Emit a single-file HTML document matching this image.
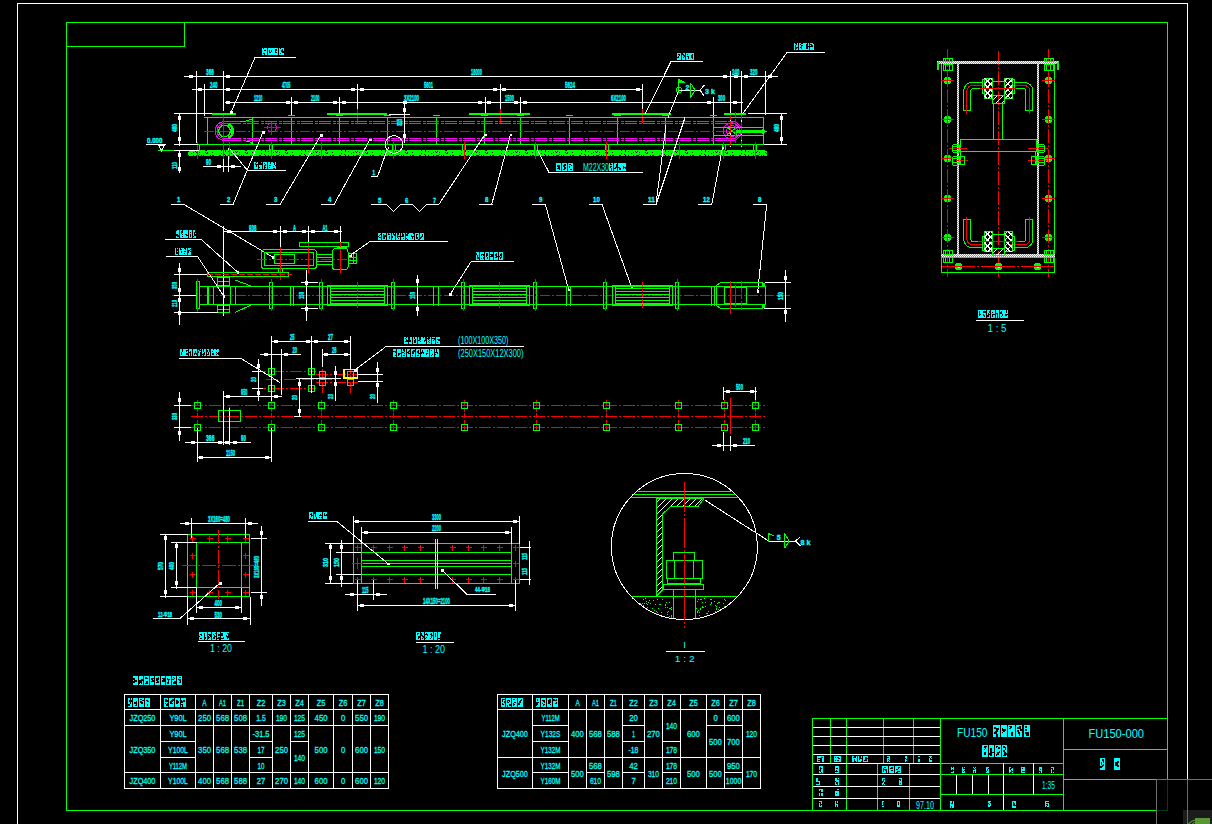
<!DOCTYPE html>
<html><head><meta charset="utf-8"><style>
html,body{margin:0;padding:0;background:#000;overflow:hidden;width:1212px;height:824px}
svg{display:block}
text{font-family:"Liberation Sans",sans-serif}
</style></head><body>
<svg width="1212" height="824" viewBox="0 0 1212 824" shape-rendering="crispEdges">
<rect x="0" y="0" width="1212" height="824" fill="#000"/>
<line x1="17" y1="3.5" x2="1188" y2="3.5" stroke="#ffffff" stroke-width="1" />
<line x1="17.5" y1="3" x2="17.5" y2="825" stroke="#ffffff" stroke-width="1" />
<line x1="1187.5" y1="3" x2="1187.5" y2="780" stroke="#ffffff" stroke-width="1" />
<line x1="66" y1="22.5" x2="1168" y2="22.5" stroke="#00ff00" stroke-width="1" />
<line x1="66.5" y1="22" x2="66.5" y2="811" stroke="#00ff00" stroke-width="1" />
<line x1="1167.5" y1="22" x2="1167.5" y2="780" stroke="#00ff00" stroke-width="1" />
<line x1="66" y1="810.5" x2="1156" y2="810.5" stroke="#00ff00" stroke-width="1" />
<line x1="66" y1="46.5" x2="185" y2="46.5" stroke="#00ff00" stroke-width="1" />
<line x1="184.5" y1="22" x2="184.5" y2="47" stroke="#00ff00" stroke-width="1" />
<line x1="812" y1="718.5" x2="1168" y2="718.5" stroke="#00ff00" stroke-width="1" />
<line x1="812.5" y1="718" x2="812.5" y2="811" stroke="#00ff00" stroke-width="1" />
<line x1="940.5" y1="718" x2="940.5" y2="811" stroke="#00ff00" stroke-width="1" />
<line x1="1063.5" y1="718" x2="1063.5" y2="811" stroke="#00ff00" stroke-width="1" />
<line x1="830.5" y1="718" x2="830.5" y2="764" stroke="#00ff00" stroke-width="1" />
<line x1="883.5" y1="718" x2="883.5" y2="764" stroke="#00ff00" stroke-width="1" />
<line x1="913.5" y1="718" x2="913.5" y2="764" stroke="#00ff00" stroke-width="1" />
<line x1="846.5" y1="718" x2="846.5" y2="811" stroke="#00ff00" stroke-width="1" />
<line x1="877.5" y1="763" x2="877.5" y2="811" stroke="#00ff00" stroke-width="1" />
<line x1="909.5" y1="763" x2="909.5" y2="811" stroke="#00ff00" stroke-width="1" />
<line x1="813" y1="727.5" x2="940" y2="727.5" stroke="#ffffff" stroke-width="1" />
<line x1="813" y1="736.5" x2="940" y2="736.5" stroke="#ffffff" stroke-width="1" />
<line x1="813" y1="745.5" x2="940" y2="745.5" stroke="#ffffff" stroke-width="1" />
<line x1="813" y1="754.5" x2="940" y2="754.5" stroke="#ffffff" stroke-width="1" />
<line x1="813" y1="763.5" x2="940" y2="763.5" stroke="#ffffff" stroke-width="1" />
<line x1="813" y1="774.5" x2="940" y2="774.5" stroke="#ffffff" stroke-width="1" />
<line x1="813" y1="786.5" x2="940" y2="786.5" stroke="#ffffff" stroke-width="1" />
<line x1="813" y1="798.5" x2="940" y2="798.5" stroke="#ffffff" stroke-width="1" />
<line x1="941" y1="763.5" x2="1063" y2="763.5" stroke="#00ff00" stroke-width="1" />
<line x1="941" y1="774.5" x2="1063" y2="774.5" stroke="#00ff00" stroke-width="1" />
<line x1="941" y1="794.5" x2="1063" y2="794.5" stroke="#00ff00" stroke-width="1" />
<line x1="1003.5" y1="763" x2="1003.5" y2="810" stroke="#ffffff" stroke-width="1" />
<line x1="1033.5" y1="763" x2="1033.5" y2="795" stroke="#ffffff" stroke-width="1" />
<line x1="956.5" y1="775" x2="956.5" y2="794" stroke="#ffffff" stroke-width="1" />
<line x1="972.5" y1="775" x2="972.5" y2="794" stroke="#ffffff" stroke-width="1" />
<line x1="988.5" y1="775" x2="988.5" y2="794" stroke="#ffffff" stroke-width="1" />
<line x1="1064" y1="749.5" x2="1167" y2="749.5" stroke="#00ff00" stroke-width="1" />
<line x1="1064" y1="779.5" x2="1156" y2="779.5" stroke="#00ff00" stroke-width="1" />
<text x="1088.5" y="738" fill="#00ffff" font-size="13.5" font-family="Liberation Sans" font-weight="normal" text-anchor="start" textLength="55.5" lengthAdjust="spacingAndGlyphs">FU150-000</text>
<g><rect x="1100.0" y="758.0" width="5.0" height="12.0" fill="#00ffff"/><rect x="1100.4" y="766.0" width="1.9" height="1.9" fill="#000"/><rect x="1103.2" y="760.4" width="1.2" height="2.1" fill="#000"/><rect x="1101.1" y="763.5" width="1.2" height="1.9" fill="#000"/><rect x="1103.3" y="764.1" width="1.1" height="2.1" fill="#000"/><rect x="1102.0" y="759.0" width="1.6" height="1.5" fill="#000"/><rect x="1100.8" y="762.2" width="1.3" height="2.1" fill="#000"/><rect x="1101.9" y="764.6" width="1.5" height="2.1" fill="#000"/></g>
<g><rect x="1114.0" y="758.0" width="6.0" height="12.0" fill="#00ffff"/><rect x="1115.6" y="763.3" width="1.9" height="2.2" fill="#000"/><rect x="1115.2" y="764.9" width="1.4" height="1.5" fill="#000"/><rect x="1116.4" y="762.7" width="1.7" height="1.8" fill="#000"/><rect x="1116.9" y="760.6" width="1.6" height="2.4" fill="#000"/><rect x="1117.3" y="765.0" width="1.9" height="2.1" fill="#000"/><rect x="1114.9" y="762.0" width="1.6" height="2.6" fill="#000"/></g>
<text x="957" y="736.5" fill="#00ffff" font-size="13.5" font-family="Liberation Sans" font-weight="normal" text-anchor="start" textLength="30.5" lengthAdjust="spacingAndGlyphs">FU150</text>
<g><rect x="993.0" y="725.0" width="6.5" height="12.0" fill="#00ffff"/><rect x="993.6" y="731.5" width="1.6" height="2.0" fill="#000"/><rect x="996.4" y="728.3" width="2.2" height="2.1" fill="#000"/><rect x="995.5" y="729.5" width="2.2" height="2.2" fill="#000"/><rect x="995.0" y="731.1" width="2.3" height="2.6" fill="#000"/><rect x="996.1" y="734.2" width="1.5" height="2.3" fill="#000"/><rect x="994.7" y="731.7" width="2.3" height="1.8" fill="#000"/><rect x="994.2" y="726.6" width="1.5" height="2.0" fill="#000"/><rect x="1000.6" y="725.0" width="6.5" height="12.0" fill="#00ffff"/><rect x="1004.0" y="729.2" width="1.7" height="1.8" fill="#000"/><rect x="1001.6" y="729.1" width="2.4" height="2.0" fill="#000"/><rect x="1002.8" y="730.7" width="1.7" height="1.6" fill="#000"/><rect x="1003.4" y="728.7" width="2.2" height="2.6" fill="#000"/><rect x="1001.7" y="731.7" width="1.7" height="1.5" fill="#000"/><rect x="1001.9" y="727.9" width="1.4" height="2.4" fill="#000"/><rect x="1008.2" y="725.0" width="6.5" height="12.0" fill="#00ffff"/><rect x="1010.8" y="734.2" width="1.9" height="1.9" fill="#000"/><rect x="1010.8" y="731.5" width="2.2" height="2.1" fill="#000"/><rect x="1011.9" y="732.9" width="1.5" height="2.5" fill="#000"/><rect x="1010.0" y="726.4" width="2.3" height="1.9" fill="#000"/><rect x="1008.9" y="727.5" width="2.1" height="1.5" fill="#000"/><rect x="1008.9" y="725.5" width="1.6" height="1.8" fill="#000"/><rect x="1015.9" y="725.0" width="6.5" height="12.0" fill="#00ffff"/><rect x="1018.5" y="726.1" width="2.0" height="2.6" fill="#000"/><rect x="1018.8" y="734.2" width="1.6" height="1.9" fill="#000"/><rect x="1016.7" y="729.9" width="2.1" height="2.0" fill="#000"/><rect x="1017.3" y="726.8" width="2.5" height="2.0" fill="#000"/><rect x="1017.9" y="731.5" width="2.2" height="2.3" fill="#000"/><rect x="1019.8" y="728.9" width="2.0" height="1.7" fill="#000"/><rect x="1023.5" y="725.0" width="6.5" height="12.0" fill="#00ffff"/><rect x="1025.8" y="734.8" width="2.0" height="1.5" fill="#000"/><rect x="1024.8" y="728.7" width="2.3" height="2.3" fill="#000"/><rect x="1026.1" y="732.2" width="1.6" height="2.4" fill="#000"/><rect x="1027.0" y="734.6" width="1.8" height="1.7" fill="#000"/><rect x="1026.7" y="731.9" width="2.3" height="2.4" fill="#000"/><rect x="1025.3" y="725.8" width="1.7" height="2.1" fill="#000"/><rect x="1025.0" y="731.9" width="1.5" height="1.8" fill="#000"/><rect x="1027.0" y="734.4" width="2.4" height="2.0" fill="#000"/></g>
<g><rect x="982.0" y="745.0" width="5.5" height="12.0" fill="#00ffff"/><rect x="984.0" y="748.7" width="1.3" height="1.6" fill="#000"/><rect x="984.3" y="745.5" width="1.6" height="2.6" fill="#000"/><rect x="984.2" y="753.1" width="2.0" height="1.9" fill="#000"/><rect x="984.8" y="747.3" width="1.3" height="1.9" fill="#000"/><rect x="984.2" y="746.3" width="2.0" height="2.0" fill="#000"/><rect x="983.6" y="752.0" width="2.1" height="2.3" fill="#000"/><rect x="985.8" y="745.8" width="1.3" height="1.6" fill="#000"/><rect x="988.5" y="745.0" width="5.5" height="12.0" fill="#00ffff"/><rect x="989.2" y="752.6" width="2.0" height="2.4" fill="#000"/><rect x="989.8" y="750.3" width="2.1" height="2.2" fill="#000"/><rect x="992.2" y="751.7" width="1.3" height="1.5" fill="#000"/><rect x="990.2" y="752.9" width="1.7" height="2.6" fill="#000"/><rect x="989.6" y="748.2" width="2.0" height="1.7" fill="#000"/><rect x="989.7" y="749.2" width="1.4" height="2.1" fill="#000"/><rect x="990.1" y="749.4" width="1.3" height="2.5" fill="#000"/><rect x="990.1" y="753.3" width="1.7" height="2.5" fill="#000"/><rect x="995.0" y="745.0" width="5.5" height="12.0" fill="#00ffff"/><rect x="997.1" y="753.7" width="1.3" height="1.6" fill="#000"/><rect x="997.6" y="746.8" width="1.9" height="2.2" fill="#000"/><rect x="995.8" y="746.0" width="1.3" height="2.2" fill="#000"/><rect x="996.8" y="752.4" width="1.8" height="2.1" fill="#000"/><rect x="995.9" y="745.9" width="2.0" height="1.5" fill="#000"/><rect x="995.5" y="753.6" width="1.3" height="2.0" fill="#000"/><rect x="998.7" y="751.1" width="1.3" height="1.8" fill="#000"/><rect x="997.1" y="752.9" width="1.4" height="1.8" fill="#000"/><rect x="1001.5" y="745.0" width="5.5" height="12.0" fill="#00ffff"/><rect x="1004.3" y="753.7" width="2.1" height="2.3" fill="#000"/><rect x="1005.0" y="753.0" width="1.5" height="2.1" fill="#000"/><rect x="1003.4" y="746.2" width="1.3" height="1.6" fill="#000"/><rect x="1004.1" y="752.9" width="1.4" height="1.5" fill="#000"/><rect x="1003.8" y="751.7" width="2.0" height="1.6" fill="#000"/><rect x="1005.1" y="747.4" width="1.3" height="2.5" fill="#000"/><rect x="1003.2" y="754.5" width="2.1" height="1.9" fill="#000"/><rect x="1003.1" y="750.3" width="2.0" height="1.6" fill="#000"/></g>
<g><rect x="817.0" y="756.0" width="7.0" height="6.0" fill="#00ffff"/><rect x="817.9" y="757.9" width="2.0" height="1.0" fill="#000"/><rect x="820.4" y="758.0" width="1.9" height="1.0" fill="#000"/><rect x="821.2" y="756.8" width="2.1" height="1.0" fill="#000"/><rect x="820.5" y="756.6" width="2.6" height="1.0" fill="#000"/><rect x="818.3" y="759.5" width="1.8" height="1.3" fill="#000"/><rect x="819.9" y="760.3" width="2.5" height="1.2" fill="#000"/><rect x="819.6" y="758.5" width="2.0" height="1.0" fill="#000"/></g>
<g><rect x="834.0" y="756.0" width="7.0" height="6.0" fill="#00ffff"/><rect x="837.5" y="758.2" width="1.6" height="1.0" fill="#000"/><rect x="837.3" y="759.6" width="1.6" height="1.3" fill="#000"/><rect x="834.8" y="759.9" width="1.6" height="1.2" fill="#000"/><rect x="836.7" y="760.4" width="2.0" height="1.0" fill="#000"/><rect x="836.7" y="757.3" width="1.8" height="1.0" fill="#000"/><rect x="834.7" y="757.2" width="1.7" height="1.0" fill="#000"/><rect x="837.6" y="757.6" width="1.9" height="1.0" fill="#000"/></g>
<g><rect x="852.0" y="756.0" width="4.8" height="6.0" fill="#00ffff"/><rect x="854.4" y="760.7" width="1.6" height="1.0" fill="#000"/><rect x="853.9" y="760.7" width="1.1" height="1.0" fill="#000"/><rect x="853.5" y="759.2" width="1.5" height="1.0" fill="#000"/><rect x="853.7" y="760.2" width="1.6" height="1.1" fill="#000"/><rect x="852.8" y="757.3" width="1.8" height="1.0" fill="#000"/><rect x="854.5" y="756.8" width="1.2" height="1.2" fill="#000"/><rect x="854.3" y="756.3" width="1.8" height="1.3" fill="#000"/><rect x="853.5" y="756.5" width="1.5" height="1.2" fill="#000"/><rect x="857.6" y="756.0" width="4.8" height="6.0" fill="#00ffff"/><rect x="859.6" y="757.4" width="1.7" height="1.2" fill="#000"/><rect x="859.3" y="757.0" width="1.2" height="1.0" fill="#000"/><rect x="860.6" y="760.6" width="1.4" height="1.0" fill="#000"/><rect x="860.5" y="757.6" width="1.5" height="1.0" fill="#000"/><rect x="859.0" y="758.4" width="1.3" height="1.0" fill="#000"/><rect x="859.3" y="756.3" width="1.4" height="1.0" fill="#000"/><rect x="859.1" y="756.4" width="1.3" height="1.0" fill="#000"/><rect x="858.7" y="758.9" width="1.1" height="1.0" fill="#000"/><rect x="863.2" y="756.0" width="4.8" height="6.0" fill="#00ffff"/><rect x="865.7" y="759.8" width="1.7" height="1.0" fill="#000"/><rect x="865.4" y="758.4" width="1.5" height="1.2" fill="#000"/><rect x="864.0" y="759.9" width="1.3" height="1.1" fill="#000"/><rect x="864.6" y="759.4" width="1.6" height="1.0" fill="#000"/><rect x="865.6" y="758.7" width="1.4" height="1.3" fill="#000"/><rect x="865.2" y="759.8" width="1.7" height="1.0" fill="#000"/><rect x="865.2" y="756.6" width="1.6" height="1.3" fill="#000"/><rect x="866.4" y="757.9" width="1.1" height="1.1" fill="#000"/></g>
<g><rect x="887.0" y="756.0" width="3.0" height="6.0" fill="#00ffff"/><rect x="888.2" y="759.2" width="0.9" height="1.1" fill="#000"/><rect x="888.6" y="759.6" width="0.9" height="1.0" fill="#000"/><rect x="888.3" y="756.5" width="0.9" height="1.0" fill="#000"/><rect x="887.3" y="757.4" width="1.0" height="1.0" fill="#000"/><rect x="888.4" y="760.6" width="1.0" height="1.0" fill="#000"/><rect x="888.0" y="759.3" width="0.9" height="1.0" fill="#000"/><rect x="888.2" y="756.6" width="1.0" height="1.1" fill="#000"/></g>
<g><rect x="905.0" y="756.0" width="2.0" height="6.0" fill="#00ffff"/><rect x="905.8" y="759.0" width="0.8" height="1.1" fill="#000"/><rect x="905.6" y="760.6" width="0.8" height="1.0" fill="#000"/><rect x="905.6" y="759.4" width="0.8" height="1.0" fill="#000"/><rect x="905.9" y="760.7" width="0.8" height="1.0" fill="#000"/><rect x="905.2" y="758.4" width="0.8" height="1.0" fill="#000"/><rect x="905.6" y="760.7" width="0.8" height="1.0" fill="#000"/></g>
<g><rect x="918.0" y="756.0" width="2.0" height="6.0" fill="#00ffff"/><rect x="919.0" y="756.6" width="0.8" height="1.3" fill="#000"/><rect x="918.4" y="757.8" width="0.8" height="1.2" fill="#000"/><rect x="918.4" y="756.7" width="0.8" height="1.1" fill="#000"/><rect x="919.0" y="758.0" width="0.8" height="1.0" fill="#000"/><rect x="918.8" y="758.0" width="0.8" height="1.3" fill="#000"/><rect x="918.5" y="756.8" width="0.8" height="1.0" fill="#000"/><rect x="918.4" y="758.0" width="0.8" height="1.0" fill="#000"/></g>
<g><rect x="929.0" y="756.0" width="3.0" height="6.0" fill="#00ffff"/><rect x="929.7" y="757.8" width="1.0" height="1.3" fill="#000"/><rect x="930.2" y="757.8" width="0.8" height="1.3" fill="#000"/><rect x="929.3" y="756.7" width="0.9" height="1.0" fill="#000"/><rect x="930.6" y="757.4" width="1.1" height="1.0" fill="#000"/><rect x="929.6" y="757.9" width="0.8" height="1.0" fill="#000"/><rect x="930.4" y="758.9" width="1.1" height="1.3" fill="#000"/></g>
<g><rect x="819.0" y="766.0" width="4.0" height="7.0" fill="#00ffff"/><rect x="819.4" y="770.0" width="1.2" height="1.3" fill="#000"/><rect x="820.7" y="767.7" width="1.2" height="1.4" fill="#000"/><rect x="819.6" y="768.6" width="0.9" height="1.5" fill="#000"/><rect x="821.0" y="771.5" width="1.1" height="1.0" fill="#000"/><rect x="820.0" y="769.1" width="1.0" height="1.3" fill="#000"/><rect x="819.7" y="767.4" width="1.1" height="1.0" fill="#000"/><rect x="819.7" y="771.0" width="1.5" height="1.2" fill="#000"/><rect x="819.5" y="767.3" width="1.5" height="1.2" fill="#000"/></g>
<g><rect x="835.0" y="766.0" width="4.0" height="7.0" fill="#00ffff"/><rect x="836.1" y="768.2" width="1.0" height="1.2" fill="#000"/><rect x="835.3" y="771.0" width="1.4" height="1.0" fill="#000"/><rect x="835.8" y="767.7" width="1.1" height="1.4" fill="#000"/><rect x="836.5" y="768.2" width="1.4" height="1.2" fill="#000"/><rect x="837.0" y="770.7" width="1.3" height="1.2" fill="#000"/><rect x="836.2" y="769.5" width="0.9" height="1.5" fill="#000"/></g>
<g><rect x="816.0" y="778.0" width="4.0" height="7.0" fill="#00ffff"/><rect x="818.0" y="778.4" width="1.5" height="1.4" fill="#000"/><rect x="818.5" y="780.7" width="0.9" height="1.3" fill="#000"/><rect x="817.1" y="783.3" width="1.3" height="1.0" fill="#000"/><rect x="818.3" y="779.5" width="1.4" height="1.4" fill="#000"/><rect x="817.6" y="782.0" width="0.9" height="1.0" fill="#000"/><rect x="817.6" y="782.2" width="1.5" height="1.3" fill="#000"/><rect x="816.4" y="782.4" width="1.2" height="1.2" fill="#000"/></g>
<g><rect x="835.0" y="778.0" width="4.0" height="7.0" fill="#00ffff"/><rect x="836.9" y="783.5" width="1.2" height="1.0" fill="#000"/><rect x="836.2" y="782.3" width="1.3" height="1.2" fill="#000"/><rect x="837.6" y="779.3" width="0.9" height="1.1" fill="#000"/><rect x="835.3" y="781.0" width="1.0" height="1.4" fill="#000"/><rect x="835.9" y="782.8" width="1.5" height="1.0" fill="#000"/><rect x="836.6" y="778.4" width="1.0" height="1.2" fill="#000"/></g>
<g><rect x="819.0" y="789.0" width="4.0" height="7.0" fill="#00ffff"/><rect x="819.3" y="792.0" width="1.3" height="1.1" fill="#000"/><rect x="819.8" y="792.8" width="1.3" height="1.1" fill="#000"/><rect x="819.3" y="791.1" width="1.5" height="1.0" fill="#000"/><rect x="819.7" y="793.4" width="1.1" height="1.3" fill="#000"/><rect x="819.7" y="794.4" width="1.4" height="1.2" fill="#000"/><rect x="819.8" y="790.4" width="1.1" height="1.4" fill="#000"/><rect x="821.3" y="792.0" width="1.4" height="1.0" fill="#000"/></g>
<g><rect x="835.0" y="789.0" width="4.0" height="7.0" fill="#00ffff"/><rect x="837.1" y="789.6" width="1.5" height="1.2" fill="#000"/><rect x="835.4" y="789.4" width="1.3" height="1.5" fill="#000"/><rect x="836.8" y="790.3" width="1.3" height="1.1" fill="#000"/><rect x="836.0" y="789.9" width="1.2" height="1.3" fill="#000"/><rect x="835.8" y="792.8" width="0.9" height="1.0" fill="#000"/><rect x="836.0" y="793.1" width="1.2" height="1.2" fill="#000"/></g>
<g><rect x="819.0" y="801.0" width="3.0" height="6.0" fill="#00ffff"/><rect x="819.3" y="801.6" width="1.1" height="1.0" fill="#000"/><rect x="820.8" y="803.8" width="0.8" height="1.0" fill="#000"/><rect x="820.4" y="802.6" width="1.0" height="1.0" fill="#000"/><rect x="820.3" y="802.1" width="1.0" height="1.0" fill="#000"/><rect x="819.7" y="804.6" width="0.9" height="1.0" fill="#000"/><rect x="819.6" y="804.0" width="0.9" height="1.1" fill="#000"/><rect x="820.0" y="804.9" width="0.9" height="1.0" fill="#000"/></g>
<g><rect x="835.0" y="801.0" width="3.0" height="6.0" fill="#00ffff"/><rect x="836.8" y="802.7" width="0.8" height="1.2" fill="#000"/><rect x="836.3" y="802.3" width="0.8" height="1.3" fill="#000"/><rect x="835.6" y="801.3" width="1.0" height="1.0" fill="#000"/><rect x="836.2" y="805.3" width="1.0" height="1.3" fill="#000"/><rect x="836.1" y="805.6" width="0.8" height="1.0" fill="#000"/><rect x="835.6" y="803.2" width="1.1" height="1.0" fill="#000"/></g>
<g><rect x="882.0" y="766.0" width="5.7" height="7.0" fill="#00ffff"/><rect x="882.5" y="771.2" width="1.4" height="1.2" fill="#000"/><rect x="882.9" y="767.5" width="1.5" height="1.3" fill="#000"/><rect x="884.7" y="769.4" width="2.0" height="1.2" fill="#000"/><rect x="882.9" y="768.5" width="1.7" height="1.1" fill="#000"/><rect x="884.1" y="767.1" width="1.8" height="1.2" fill="#000"/><rect x="882.6" y="769.7" width="1.6" height="1.0" fill="#000"/><rect x="885.8" y="771.4" width="1.4" height="1.1" fill="#000"/><rect x="888.6" y="766.0" width="5.7" height="7.0" fill="#00ffff"/><rect x="891.2" y="769.9" width="1.5" height="1.1" fill="#000"/><rect x="891.0" y="766.9" width="1.9" height="1.4" fill="#000"/><rect x="890.7" y="768.3" width="2.0" height="1.0" fill="#000"/><rect x="889.8" y="767.6" width="1.9" height="1.0" fill="#000"/><rect x="891.1" y="767.9" width="1.4" height="1.5" fill="#000"/><rect x="890.7" y="767.4" width="1.6" height="1.5" fill="#000"/><rect x="895.3" y="766.0" width="5.7" height="7.0" fill="#00ffff"/><rect x="896.0" y="768.6" width="1.8" height="1.5" fill="#000"/><rect x="898.4" y="766.5" width="2.0" height="1.4" fill="#000"/><rect x="896.4" y="771.6" width="1.5" height="1.0" fill="#000"/><rect x="896.9" y="770.6" width="1.8" height="1.5" fill="#000"/><rect x="898.2" y="771.4" width="1.7" height="1.0" fill="#000"/><rect x="897.9" y="767.4" width="1.4" height="1.3" fill="#000"/></g>
<g><rect x="882.0" y="778.0" width="3.0" height="7.0" fill="#00ffff"/><rect x="884.0" y="778.5" width="0.8" height="1.0" fill="#000"/><rect x="883.5" y="782.3" width="1.0" height="1.5" fill="#000"/><rect x="883.3" y="778.7" width="0.9" height="1.1" fill="#000"/><rect x="883.1" y="780.4" width="0.8" height="1.2" fill="#000"/><rect x="882.4" y="781.0" width="1.0" height="1.3" fill="#000"/><rect x="882.6" y="783.5" width="1.0" height="1.1" fill="#000"/><rect x="882.3" y="782.2" width="1.0" height="1.1" fill="#000"/></g>
<g><rect x="899.0" y="778.0" width="3.0" height="7.0" fill="#00ffff"/><rect x="900.5" y="782.6" width="0.9" height="1.0" fill="#000"/><rect x="899.9" y="783.3" width="1.0" height="1.1" fill="#000"/><rect x="899.4" y="778.8" width="0.9" height="1.0" fill="#000"/><rect x="900.5" y="779.0" width="0.9" height="1.1" fill="#000"/><rect x="900.6" y="780.4" width="0.8" height="1.0" fill="#000"/><rect x="900.4" y="779.1" width="0.9" height="1.5" fill="#000"/><rect x="899.5" y="778.7" width="0.8" height="1.0" fill="#000"/></g>
<g><rect x="882.0" y="801.0" width="2.0" height="6.0" fill="#00ffff"/><rect x="883.0" y="802.1" width="0.8" height="1.2" fill="#000"/><rect x="883.1" y="803.3" width="0.8" height="1.3" fill="#000"/><rect x="882.5" y="805.1" width="0.8" height="1.3" fill="#000"/><rect x="882.3" y="804.6" width="0.8" height="1.2" fill="#000"/><rect x="882.9" y="805.0" width="0.8" height="1.0" fill="#000"/><rect x="882.5" y="803.6" width="0.8" height="1.0" fill="#000"/><rect x="882.4" y="804.5" width="0.8" height="1.0" fill="#000"/></g>
<g><rect x="897.0" y="801.0" width="3.0" height="6.0" fill="#00ffff"/><rect x="898.6" y="801.4" width="0.8" height="1.1" fill="#000"/><rect x="898.1" y="803.7" width="1.1" height="1.0" fill="#000"/><rect x="897.9" y="803.9" width="1.0" height="1.0" fill="#000"/><rect x="898.0" y="803.2" width="0.9" height="1.1" fill="#000"/><rect x="898.1" y="802.3" width="0.8" height="1.1" fill="#000"/><rect x="897.9" y="802.0" width="1.0" height="1.2" fill="#000"/></g>
<text x="916" y="808.5" fill="#00ffff" font-size="10" font-family="Liberation Sans" font-weight="normal" text-anchor="start" textLength="18" lengthAdjust="spacingAndGlyphs">97.10</text>
<g><rect x="951.0" y="767.0" width="3.0" height="6.0" fill="#00ffff"/><rect x="951.8" y="768.9" width="0.9" height="1.0" fill="#000"/><rect x="952.2" y="767.4" width="1.0" height="1.0" fill="#000"/><rect x="951.8" y="770.3" width="0.8" height="1.3" fill="#000"/><rect x="952.8" y="770.1" width="0.8" height="1.2" fill="#000"/><rect x="951.3" y="770.0" width="1.0" height="1.0" fill="#000"/><rect x="951.4" y="771.2" width="1.0" height="1.0" fill="#000"/><rect x="952.6" y="770.2" width="0.8" height="1.2" fill="#000"/></g>
<g><rect x="962.0" y="767.0" width="3.0" height="6.0" fill="#00ffff"/><rect x="962.7" y="770.7" width="1.1" height="1.0" fill="#000"/><rect x="962.7" y="770.7" width="0.8" height="1.3" fill="#000"/><rect x="963.8" y="768.2" width="0.8" height="1.0" fill="#000"/><rect x="962.8" y="767.4" width="0.8" height="1.0" fill="#000"/><rect x="963.9" y="770.3" width="0.8" height="1.0" fill="#000"/><rect x="963.4" y="767.8" width="1.1" height="1.0" fill="#000"/><rect x="962.8" y="771.1" width="0.9" height="1.1" fill="#000"/><rect x="963.7" y="767.7" width="0.9" height="1.1" fill="#000"/></g>
<g><rect x="973.0" y="767.0" width="3.0" height="6.0" fill="#00ffff"/><rect x="974.5" y="768.4" width="1.0" height="1.0" fill="#000"/><rect x="973.7" y="770.6" width="1.1" height="1.1" fill="#000"/><rect x="974.5" y="767.5" width="0.9" height="1.0" fill="#000"/><rect x="974.2" y="771.7" width="1.1" height="1.0" fill="#000"/><rect x="973.7" y="767.3" width="0.9" height="1.1" fill="#000"/><rect x="974.3" y="769.2" width="0.8" height="1.0" fill="#000"/><rect x="973.4" y="768.2" width="0.9" height="1.3" fill="#000"/><rect x="973.2" y="768.8" width="1.0" height="1.0" fill="#000"/></g>
<g><rect x="986.0" y="767.0" width="3.0" height="6.0" fill="#00ffff"/><rect x="986.9" y="768.6" width="0.9" height="1.0" fill="#000"/><rect x="987.7" y="768.0" width="0.8" height="1.0" fill="#000"/><rect x="987.5" y="769.2" width="0.8" height="1.2" fill="#000"/><rect x="987.4" y="768.5" width="0.8" height="1.0" fill="#000"/><rect x="986.3" y="770.7" width="1.0" height="1.3" fill="#000"/><rect x="987.1" y="769.9" width="1.1" height="1.1" fill="#000"/></g>
<g><rect x="1009.0" y="767.0" width="4.0" height="6.0" fill="#00ffff"/><rect x="1011.2" y="767.4" width="1.3" height="1.0" fill="#000"/><rect x="1009.8" y="767.5" width="1.2" height="1.0" fill="#000"/><rect x="1010.4" y="771.5" width="1.4" height="1.0" fill="#000"/><rect x="1010.8" y="769.5" width="1.0" height="1.0" fill="#000"/><rect x="1009.6" y="768.6" width="1.3" height="1.2" fill="#000"/><rect x="1011.4" y="770.8" width="1.1" height="1.0" fill="#000"/><rect x="1011.1" y="770.6" width="1.3" height="1.0" fill="#000"/><rect x="1010.3" y="768.2" width="1.2" height="1.2" fill="#000"/></g>
<g><rect x="1021.0" y="767.0" width="4.0" height="6.0" fill="#00ffff"/><rect x="1021.6" y="771.2" width="1.0" height="1.1" fill="#000"/><rect x="1021.8" y="767.5" width="1.5" height="1.3" fill="#000"/><rect x="1022.8" y="771.3" width="1.3" height="1.1" fill="#000"/><rect x="1023.1" y="771.3" width="1.5" height="1.0" fill="#000"/><rect x="1021.7" y="771.3" width="0.9" height="1.0" fill="#000"/><rect x="1021.6" y="771.4" width="1.4" height="1.0" fill="#000"/></g>
<g><rect x="1039.0" y="767.0" width="3.0" height="6.0" fill="#00ffff"/><rect x="1039.6" y="771.3" width="1.1" height="1.0" fill="#000"/><rect x="1040.3" y="771.5" width="1.0" height="1.1" fill="#000"/><rect x="1040.4" y="770.9" width="0.9" height="1.2" fill="#000"/><rect x="1040.2" y="768.6" width="0.9" height="1.2" fill="#000"/><rect x="1039.4" y="771.3" width="0.8" height="1.1" fill="#000"/><rect x="1039.4" y="771.4" width="0.8" height="1.0" fill="#000"/></g>
<g><rect x="1051.0" y="767.0" width="3.0" height="6.0" fill="#00ffff"/><rect x="1051.2" y="767.8" width="1.1" height="1.1" fill="#000"/><rect x="1051.3" y="767.5" width="1.0" height="1.0" fill="#000"/><rect x="1051.5" y="771.4" width="1.1" height="1.2" fill="#000"/><rect x="1052.7" y="770.6" width="0.9" height="1.1" fill="#000"/><rect x="1051.6" y="768.2" width="1.0" height="1.0" fill="#000"/><rect x="1052.8" y="770.4" width="0.8" height="1.3" fill="#000"/><rect x="1052.3" y="769.3" width="0.8" height="1.2" fill="#000"/></g>
<text x="1042" y="789" fill="#00ffff" font-size="11" font-family="Liberation Sans" font-weight="normal" text-anchor="start" textLength="13" lengthAdjust="spacingAndGlyphs">1:35</text>
<g><rect x="950.0" y="801.0" width="4.0" height="7.0" fill="#00ffff"/><rect x="950.8" y="802.9" width="0.9" height="1.4" fill="#000"/><rect x="950.9" y="802.8" width="1.2" height="1.0" fill="#000"/><rect x="950.9" y="806.4" width="1.3" height="1.1" fill="#000"/><rect x="951.7" y="801.4" width="1.2" height="1.4" fill="#000"/><rect x="952.1" y="803.1" width="1.1" height="1.1" fill="#000"/><rect x="950.7" y="805.8" width="1.3" height="1.2" fill="#000"/></g>
<g><rect x="988.0" y="801.0" width="3.0" height="6.0" fill="#00ffff"/><rect x="988.9" y="803.6" width="0.9" height="1.0" fill="#000"/><rect x="988.3" y="802.8" width="0.8" height="1.2" fill="#000"/><rect x="989.7" y="805.5" width="0.8" height="1.1" fill="#000"/><rect x="989.1" y="803.7" width="0.9" height="1.3" fill="#000"/><rect x="989.9" y="802.2" width="0.8" height="1.2" fill="#000"/><rect x="989.6" y="803.3" width="0.8" height="1.3" fill="#000"/></g>
<g><rect x="1012.0" y="801.0" width="4.0" height="7.0" fill="#00ffff"/><rect x="1013.0" y="801.8" width="1.2" height="1.0" fill="#000"/><rect x="1013.8" y="803.4" width="1.5" height="1.5" fill="#000"/><rect x="1012.9" y="803.6" width="1.3" height="1.1" fill="#000"/><rect x="1014.5" y="804.7" width="1.2" height="1.0" fill="#000"/><rect x="1013.4" y="805.0" width="1.5" height="1.0" fill="#000"/><rect x="1013.5" y="804.1" width="1.3" height="1.0" fill="#000"/><rect x="1013.4" y="803.0" width="1.4" height="1.2" fill="#000"/><rect x="1012.9" y="802.5" width="1.2" height="1.3" fill="#000"/></g>
<g><rect x="1045.0" y="801.0" width="4.0" height="6.0" fill="#00ffff"/><rect x="1045.8" y="802.1" width="1.2" height="1.3" fill="#000"/><rect x="1047.3" y="801.9" width="1.1" height="1.1" fill="#000"/><rect x="1046.1" y="803.6" width="1.0" height="1.0" fill="#000"/><rect x="1045.8" y="805.6" width="1.0" height="1.0" fill="#000"/><rect x="1047.3" y="801.7" width="1.3" height="1.0" fill="#000"/><rect x="1047.1" y="804.3" width="1.1" height="1.3" fill="#000"/><rect x="1046.7" y="801.7" width="1.2" height="1.0" fill="#000"/></g>
<line x1="1156" y1="779.5" x2="1212" y2="779.5" stroke="#6e6e6e" stroke-width="1" />
<line x1="1156.5" y1="780" x2="1156.5" y2="824" stroke="#6e6e6e" stroke-width="1" />
<line x1="1167.5" y1="780" x2="1167.5" y2="811" stroke="#0c3a0c" stroke-width="1" />
<line x1="1157" y1="810.5" x2="1167" y2="810.5" stroke="#0c3a0c" stroke-width="1" />
<line x1="1187.5" y1="780" x2="1187.5" y2="824" stroke="#6a6a6a" stroke-width="1" />
<rect x="1183" y="810" width="29" height="14" fill="#1b1d1b" stroke="none"/>
<line x1="1187.5" y1="810" x2="1187.5" y2="824" stroke="#6a6a6a" stroke-width="1" />
<rect x="1195" y="818" width="15" height="6" fill="#5a9637" stroke="none"/>
<path d="M1188,824.5 Q1195.5,816 1203,824.5 M1192,824.5 Q1196,819.5 1200,824.5" stroke="#5a9637" stroke-width="1.2" fill="none" shape-rendering="auto"/>
<line x1="124" y1="694.5" x2="389" y2="694.5" stroke="#ffffff" stroke-width="1" />
<line x1="124" y1="709.5" x2="389" y2="709.5" stroke="#ffffff" stroke-width="1" />
<line x1="124" y1="725.5" x2="389" y2="725.5" stroke="#ffffff" stroke-width="1" />
<line x1="124" y1="772.5" x2="389" y2="772.5" stroke="#ffffff" stroke-width="1" />
<line x1="124" y1="788.5" x2="389" y2="788.5" stroke="#ffffff" stroke-width="1" />
<line x1="124" y1="694.5" x2="389" y2="694.5" stroke="#ffffff" stroke-width="1" />
<line x1="124.5" y1="694" x2="124.5" y2="789" stroke="#ffffff" stroke-width="1" />
<line x1="160.5" y1="694" x2="160.5" y2="789" stroke="#ffffff" stroke-width="1" />
<line x1="195.5" y1="694" x2="195.5" y2="789" stroke="#ffffff" stroke-width="1" />
<line x1="213.5" y1="694" x2="213.5" y2="789" stroke="#ffffff" stroke-width="1" />
<line x1="231.5" y1="694" x2="231.5" y2="789" stroke="#ffffff" stroke-width="1" />
<line x1="249.5" y1="694" x2="249.5" y2="789" stroke="#ffffff" stroke-width="1" />
<line x1="272.5" y1="694" x2="272.5" y2="789" stroke="#ffffff" stroke-width="1" />
<line x1="290.5" y1="694" x2="290.5" y2="789" stroke="#ffffff" stroke-width="1" />
<line x1="308.5" y1="694" x2="308.5" y2="789" stroke="#ffffff" stroke-width="1" />
<line x1="333.5" y1="694" x2="333.5" y2="789" stroke="#ffffff" stroke-width="1" />
<line x1="352.5" y1="694" x2="352.5" y2="789" stroke="#ffffff" stroke-width="1" />
<line x1="370.5" y1="694" x2="370.5" y2="789" stroke="#ffffff" stroke-width="1" />
<line x1="388.5" y1="694" x2="388.5" y2="789" stroke="#ffffff" stroke-width="1" />
<line x1="160" y1="741.5" x2="196" y2="741.5" stroke="#ffffff" stroke-width="1" />
<line x1="160" y1="757.5" x2="196" y2="757.5" stroke="#ffffff" stroke-width="1" />
<line x1="249" y1="741.5" x2="273" y2="741.5" stroke="#ffffff" stroke-width="1" />
<line x1="249" y1="757.5" x2="273" y2="757.5" stroke="#ffffff" stroke-width="1" />
<line x1="290" y1="741.5" x2="309" y2="741.5" stroke="#ffffff" stroke-width="1" />
<text x="202.3" y="705.7" fill="#00ffff" stroke="#00ffff" stroke-width="0.3" font-size="9.6" font-family="Liberation Sans" font-weight="normal" text-anchor="start" textLength="4.3" lengthAdjust="spacingAndGlyphs">A</text>
<text x="219.1" y="705.7" fill="#00ffff" stroke="#00ffff" stroke-width="0.3" font-size="9.6" font-family="Liberation Sans" font-weight="normal" text-anchor="start" textLength="6.9" lengthAdjust="spacingAndGlyphs">A1</text>
<text x="237.1" y="705.7" fill="#00ffff" stroke="#00ffff" stroke-width="0.3" font-size="9.6" font-family="Liberation Sans" font-weight="normal" text-anchor="start" textLength="6.9" lengthAdjust="spacingAndGlyphs">Z1</text>
<text x="256.7" y="705.7" fill="#00ffff" stroke="#00ffff" stroke-width="0.3" font-size="9.6" font-family="Liberation Sans" font-weight="normal" text-anchor="start" textLength="8.6" lengthAdjust="spacingAndGlyphs">Z2</text>
<text x="277.2" y="705.7" fill="#00ffff" stroke="#00ffff" stroke-width="0.3" font-size="9.6" font-family="Liberation Sans" font-weight="normal" text-anchor="start" textLength="8.6" lengthAdjust="spacingAndGlyphs">Z3</text>
<text x="295.2" y="705.7" fill="#00ffff" stroke="#00ffff" stroke-width="0.3" font-size="9.6" font-family="Liberation Sans" font-weight="normal" text-anchor="start" textLength="8.6" lengthAdjust="spacingAndGlyphs">Z4</text>
<text x="316.7" y="705.7" fill="#00ffff" stroke="#00ffff" stroke-width="0.3" font-size="9.6" font-family="Liberation Sans" font-weight="normal" text-anchor="start" textLength="8.6" lengthAdjust="spacingAndGlyphs">Z5</text>
<text x="338.7" y="705.7" fill="#00ffff" stroke="#00ffff" stroke-width="0.3" font-size="9.6" font-family="Liberation Sans" font-weight="normal" text-anchor="start" textLength="8.6" lengthAdjust="spacingAndGlyphs">Z6</text>
<text x="357.2" y="705.7" fill="#00ffff" stroke="#00ffff" stroke-width="0.3" font-size="9.6" font-family="Liberation Sans" font-weight="normal" text-anchor="start" textLength="8.6" lengthAdjust="spacingAndGlyphs">Z7</text>
<text x="375.2" y="705.7" fill="#00ffff" stroke="#00ffff" stroke-width="0.3" font-size="9.6" font-family="Liberation Sans" font-weight="normal" text-anchor="start" textLength="8.6" lengthAdjust="spacingAndGlyphs">Z8</text>
<text x="129.6" y="721.2" fill="#00ffff" stroke="#00ffff" stroke-width="0.3" font-size="9.6" font-family="Liberation Sans" font-weight="normal" text-anchor="start" textLength="25.8" lengthAdjust="spacingAndGlyphs">JZQ250</text>
<text x="169.4" y="721.2" fill="#00ffff" stroke="#00ffff" stroke-width="0.3" font-size="9.6" font-family="Liberation Sans" font-weight="normal" text-anchor="start" textLength="17.2" lengthAdjust="spacingAndGlyphs">Y90L</text>
<text x="198.1" y="721.2" fill="#00ffff" stroke="#00ffff" stroke-width="0.3" font-size="9.6" font-family="Liberation Sans" font-weight="normal" text-anchor="start" textLength="12.9" lengthAdjust="spacingAndGlyphs">250</text>
<text x="216.1" y="721.2" fill="#00ffff" stroke="#00ffff" stroke-width="0.3" font-size="9.6" font-family="Liberation Sans" font-weight="normal" text-anchor="start" textLength="12.9" lengthAdjust="spacingAndGlyphs">568</text>
<text x="234.1" y="721.2" fill="#00ffff" stroke="#00ffff" stroke-width="0.3" font-size="9.6" font-family="Liberation Sans" font-weight="normal" text-anchor="start" textLength="12.9" lengthAdjust="spacingAndGlyphs">508</text>
<text x="256.2" y="721.2" fill="#00ffff" stroke="#00ffff" stroke-width="0.3" font-size="9.6" font-family="Liberation Sans" font-weight="normal" text-anchor="start" textLength="9.5" lengthAdjust="spacingAndGlyphs">1.5</text>
<text x="275.9" y="721.2" fill="#00ffff" stroke="#00ffff" stroke-width="0.3" font-size="9.6" font-family="Liberation Sans" font-weight="normal" text-anchor="start" textLength="11.2" lengthAdjust="spacingAndGlyphs">190</text>
<text x="293.9" y="721.2" fill="#00ffff" stroke="#00ffff" stroke-width="0.3" font-size="9.6" font-family="Liberation Sans" font-weight="normal" text-anchor="start" textLength="11.2" lengthAdjust="spacingAndGlyphs">125</text>
<text x="314.6" y="721.2" fill="#00ffff" stroke="#00ffff" stroke-width="0.3" font-size="9.6" font-family="Liberation Sans" font-weight="normal" text-anchor="start" textLength="12.9" lengthAdjust="spacingAndGlyphs">450</text>
<text x="340.9" y="721.2" fill="#00ffff" stroke="#00ffff" stroke-width="0.3" font-size="9.6" font-family="Liberation Sans" font-weight="normal" text-anchor="start" textLength="4.3" lengthAdjust="spacingAndGlyphs">0</text>
<text x="355.1" y="721.2" fill="#00ffff" stroke="#00ffff" stroke-width="0.3" font-size="9.6" font-family="Liberation Sans" font-weight="normal" text-anchor="start" textLength="12.9" lengthAdjust="spacingAndGlyphs">550</text>
<text x="373.9" y="721.2" fill="#00ffff" stroke="#00ffff" stroke-width="0.3" font-size="9.6" font-family="Liberation Sans" font-weight="normal" text-anchor="start" textLength="11.2" lengthAdjust="spacingAndGlyphs">190</text>
<text x="129.6" y="752.7" fill="#00ffff" stroke="#00ffff" stroke-width="0.3" font-size="9.6" font-family="Liberation Sans" font-weight="normal" text-anchor="start" textLength="25.8" lengthAdjust="spacingAndGlyphs">JZQ350</text>
<text x="169.4" y="737.2" fill="#00ffff" stroke="#00ffff" stroke-width="0.3" font-size="9.6" font-family="Liberation Sans" font-weight="normal" text-anchor="start" textLength="17.2" lengthAdjust="spacingAndGlyphs">Y90L</text>
<text x="168.1" y="753.2" fill="#00ffff" stroke="#00ffff" stroke-width="0.3" font-size="9.6" font-family="Liberation Sans" font-weight="normal" text-anchor="start" textLength="19.8" lengthAdjust="spacingAndGlyphs">Y100L</text>
<text x="168.9" y="768.7" fill="#00ffff" stroke="#00ffff" stroke-width="0.3" font-size="9.6" font-family="Liberation Sans" font-weight="normal" text-anchor="start" textLength="18.1" lengthAdjust="spacingAndGlyphs">Y112M</text>
<text x="198.1" y="752.7" fill="#00ffff" stroke="#00ffff" stroke-width="0.3" font-size="9.6" font-family="Liberation Sans" font-weight="normal" text-anchor="start" textLength="12.9" lengthAdjust="spacingAndGlyphs">350</text>
<text x="216.1" y="752.7" fill="#00ffff" stroke="#00ffff" stroke-width="0.3" font-size="9.6" font-family="Liberation Sans" font-weight="normal" text-anchor="start" textLength="12.9" lengthAdjust="spacingAndGlyphs">568</text>
<text x="234.1" y="752.7" fill="#00ffff" stroke="#00ffff" stroke-width="0.3" font-size="9.6" font-family="Liberation Sans" font-weight="normal" text-anchor="start" textLength="12.9" lengthAdjust="spacingAndGlyphs">538</text>
<text x="252.6" y="737.2" fill="#00ffff" stroke="#00ffff" stroke-width="0.3" font-size="9.6" font-family="Liberation Sans" font-weight="normal" text-anchor="start" textLength="16.8" lengthAdjust="spacingAndGlyphs">-31.5</text>
<text x="257.6" y="753.2" fill="#00ffff" stroke="#00ffff" stroke-width="0.3" font-size="9.6" font-family="Liberation Sans" font-weight="normal" text-anchor="start" textLength="6.9" lengthAdjust="spacingAndGlyphs">17</text>
<text x="257.6" y="768.7" fill="#00ffff" stroke="#00ffff" stroke-width="0.3" font-size="9.6" font-family="Liberation Sans" font-weight="normal" text-anchor="start" textLength="6.9" lengthAdjust="spacingAndGlyphs">10</text>
<text x="275.1" y="752.7" fill="#00ffff" stroke="#00ffff" stroke-width="0.3" font-size="9.6" font-family="Liberation Sans" font-weight="normal" text-anchor="start" textLength="12.9" lengthAdjust="spacingAndGlyphs">250</text>
<text x="293.9" y="737.2" fill="#00ffff" stroke="#00ffff" stroke-width="0.3" font-size="9.6" font-family="Liberation Sans" font-weight="normal" text-anchor="start" textLength="11.2" lengthAdjust="spacingAndGlyphs">125</text>
<text x="293.9" y="760.7" fill="#00ffff" stroke="#00ffff" stroke-width="0.3" font-size="9.6" font-family="Liberation Sans" font-weight="normal" text-anchor="start" textLength="11.2" lengthAdjust="spacingAndGlyphs">140</text>
<text x="314.6" y="752.7" fill="#00ffff" stroke="#00ffff" stroke-width="0.3" font-size="9.6" font-family="Liberation Sans" font-weight="normal" text-anchor="start" textLength="12.9" lengthAdjust="spacingAndGlyphs">500</text>
<text x="340.9" y="752.7" fill="#00ffff" stroke="#00ffff" stroke-width="0.3" font-size="9.6" font-family="Liberation Sans" font-weight="normal" text-anchor="start" textLength="4.3" lengthAdjust="spacingAndGlyphs">0</text>
<text x="355.1" y="752.7" fill="#00ffff" stroke="#00ffff" stroke-width="0.3" font-size="9.6" font-family="Liberation Sans" font-weight="normal" text-anchor="start" textLength="12.9" lengthAdjust="spacingAndGlyphs">600</text>
<text x="373.9" y="752.7" fill="#00ffff" stroke="#00ffff" stroke-width="0.3" font-size="9.6" font-family="Liberation Sans" font-weight="normal" text-anchor="start" textLength="11.2" lengthAdjust="spacingAndGlyphs">150</text>
<text x="129.6" y="784.2" fill="#00ffff" stroke="#00ffff" stroke-width="0.3" font-size="9.6" font-family="Liberation Sans" font-weight="normal" text-anchor="start" textLength="25.8" lengthAdjust="spacingAndGlyphs">JZQ400</text>
<text x="168.1" y="784.2" fill="#00ffff" stroke="#00ffff" stroke-width="0.3" font-size="9.6" font-family="Liberation Sans" font-weight="normal" text-anchor="start" textLength="19.8" lengthAdjust="spacingAndGlyphs">Y100L</text>
<text x="198.1" y="784.2" fill="#00ffff" stroke="#00ffff" stroke-width="0.3" font-size="9.6" font-family="Liberation Sans" font-weight="normal" text-anchor="start" textLength="12.9" lengthAdjust="spacingAndGlyphs">400</text>
<text x="216.1" y="784.2" fill="#00ffff" stroke="#00ffff" stroke-width="0.3" font-size="9.6" font-family="Liberation Sans" font-weight="normal" text-anchor="start" textLength="12.9" lengthAdjust="spacingAndGlyphs">568</text>
<text x="234.1" y="784.2" fill="#00ffff" stroke="#00ffff" stroke-width="0.3" font-size="9.6" font-family="Liberation Sans" font-weight="normal" text-anchor="start" textLength="12.9" lengthAdjust="spacingAndGlyphs">588</text>
<text x="256.7" y="784.2" fill="#00ffff" stroke="#00ffff" stroke-width="0.3" font-size="9.6" font-family="Liberation Sans" font-weight="normal" text-anchor="start" textLength="8.6" lengthAdjust="spacingAndGlyphs">27</text>
<text x="275.1" y="784.2" fill="#00ffff" stroke="#00ffff" stroke-width="0.3" font-size="9.6" font-family="Liberation Sans" font-weight="normal" text-anchor="start" textLength="12.9" lengthAdjust="spacingAndGlyphs">270</text>
<text x="293.9" y="784.2" fill="#00ffff" stroke="#00ffff" stroke-width="0.3" font-size="9.6" font-family="Liberation Sans" font-weight="normal" text-anchor="start" textLength="11.2" lengthAdjust="spacingAndGlyphs">140</text>
<text x="314.6" y="784.2" fill="#00ffff" stroke="#00ffff" stroke-width="0.3" font-size="9.6" font-family="Liberation Sans" font-weight="normal" text-anchor="start" textLength="12.9" lengthAdjust="spacingAndGlyphs">600</text>
<text x="340.9" y="784.2" fill="#00ffff" stroke="#00ffff" stroke-width="0.3" font-size="9.6" font-family="Liberation Sans" font-weight="normal" text-anchor="start" textLength="4.3" lengthAdjust="spacingAndGlyphs">0</text>
<text x="355.1" y="784.2" fill="#00ffff" stroke="#00ffff" stroke-width="0.3" font-size="9.6" font-family="Liberation Sans" font-weight="normal" text-anchor="start" textLength="12.9" lengthAdjust="spacingAndGlyphs">600</text>
<text x="373.9" y="784.2" fill="#00ffff" stroke="#00ffff" stroke-width="0.3" font-size="9.6" font-family="Liberation Sans" font-weight="normal" text-anchor="start" textLength="11.2" lengthAdjust="spacingAndGlyphs">120</text>
<g><rect x="127.5" y="698.0" width="4.9" height="9.0" fill="#00ffff"/><rect x="127.8" y="704.1" width="1.8" height="1.5" fill="#000"/><rect x="130.6" y="700.4" width="1.4" height="1.3" fill="#000"/><rect x="130.1" y="698.4" width="1.1" height="1.3" fill="#000"/><rect x="129.9" y="702.1" width="1.3" height="1.8" fill="#000"/><rect x="129.6" y="702.6" width="1.6" height="1.8" fill="#000"/><rect x="129.3" y="699.9" width="1.8" height="1.7" fill="#000"/><rect x="133.2" y="698.0" width="4.9" height="9.0" fill="#00ffff"/><rect x="134.4" y="702.6" width="1.6" height="1.5" fill="#000"/><rect x="135.9" y="703.2" width="1.2" height="1.5" fill="#000"/><rect x="134.7" y="701.5" width="1.6" height="1.3" fill="#000"/><rect x="135.3" y="704.7" width="1.6" height="1.4" fill="#000"/><rect x="135.9" y="700.9" width="1.2" height="1.7" fill="#000"/><rect x="133.7" y="701.8" width="1.5" height="2.0" fill="#000"/><rect x="138.9" y="698.0" width="4.9" height="9.0" fill="#00ffff"/><rect x="139.8" y="700.6" width="1.6" height="1.9" fill="#000"/><rect x="139.7" y="701.6" width="1.7" height="1.5" fill="#000"/><rect x="140.4" y="700.6" width="1.1" height="1.8" fill="#000"/><rect x="141.8" y="699.6" width="1.7" height="1.5" fill="#000"/><rect x="141.2" y="702.3" width="1.5" height="1.9" fill="#000"/><rect x="140.3" y="698.8" width="1.6" height="1.3" fill="#000"/><rect x="144.6" y="698.0" width="4.9" height="9.0" fill="#00ffff"/><rect x="146.9" y="700.8" width="1.4" height="1.5" fill="#000"/><rect x="147.1" y="704.9" width="1.3" height="1.3" fill="#000"/><rect x="147.1" y="701.1" width="1.5" height="1.3" fill="#000"/><rect x="147.2" y="704.1" width="1.2" height="1.2" fill="#000"/><rect x="146.4" y="699.9" width="1.6" height="1.5" fill="#000"/><rect x="146.5" y="704.0" width="1.8" height="1.4" fill="#000"/></g>
<g><rect x="163.5" y="698.0" width="4.9" height="9.0" fill="#00ffff"/><rect x="165.4" y="699.2" width="1.4" height="1.3" fill="#000"/><rect x="166.0" y="700.2" width="1.7" height="1.4" fill="#000"/><rect x="165.0" y="699.7" width="1.4" height="1.3" fill="#000"/><rect x="164.7" y="700.0" width="1.1" height="1.7" fill="#000"/><rect x="165.1" y="702.7" width="1.3" height="1.5" fill="#000"/><rect x="166.3" y="704.2" width="1.6" height="1.4" fill="#000"/><rect x="166.6" y="703.4" width="1.1" height="1.8" fill="#000"/><rect x="169.2" y="698.0" width="4.9" height="9.0" fill="#00ffff"/><rect x="171.1" y="702.9" width="1.5" height="1.4" fill="#000"/><rect x="170.4" y="702.7" width="1.2" height="1.1" fill="#000"/><rect x="170.0" y="701.3" width="1.5" height="1.8" fill="#000"/><rect x="170.6" y="702.1" width="1.7" height="1.3" fill="#000"/><rect x="172.1" y="699.0" width="1.5" height="1.7" fill="#000"/><rect x="171.1" y="700.4" width="1.8" height="1.6" fill="#000"/><rect x="174.9" y="698.0" width="4.9" height="9.0" fill="#00ffff"/><rect x="177.2" y="701.3" width="1.6" height="1.6" fill="#000"/><rect x="175.9" y="699.9" width="1.8" height="1.6" fill="#000"/><rect x="175.5" y="701.5" width="1.2" height="1.5" fill="#000"/><rect x="176.8" y="702.0" width="1.2" height="1.5" fill="#000"/><rect x="177.3" y="701.7" width="1.7" height="1.1" fill="#000"/><rect x="177.5" y="700.8" width="1.5" height="1.7" fill="#000"/><rect x="175.5" y="702.4" width="1.4" height="1.9" fill="#000"/><rect x="180.6" y="698.0" width="4.9" height="9.0" fill="#00ffff"/><rect x="181.1" y="703.6" width="1.6" height="1.1" fill="#000"/><rect x="181.1" y="701.5" width="1.9" height="1.8" fill="#000"/><rect x="181.5" y="701.3" width="1.7" height="1.2" fill="#000"/><rect x="182.9" y="700.8" width="1.2" height="1.2" fill="#000"/><rect x="183.3" y="700.3" width="1.7" height="1.6" fill="#000"/><rect x="181.1" y="700.4" width="1.3" height="1.3" fill="#000"/><rect x="181.9" y="705.0" width="1.4" height="1.5" fill="#000"/><rect x="181.4" y="701.8" width="1.8" height="1.4" fill="#000"/></g>
<g><rect x="133.0" y="676.0" width="4.7" height="9.0" fill="#00ffff"/><rect x="134.2" y="680.4" width="1.3" height="1.4" fill="#000"/><rect x="133.4" y="681.1" width="1.5" height="1.8" fill="#000"/><rect x="133.4" y="678.4" width="1.7" height="1.6" fill="#000"/><rect x="136.1" y="680.6" width="1.0" height="1.3" fill="#000"/><rect x="135.6" y="680.3" width="1.5" height="1.8" fill="#000"/><rect x="135.1" y="680.3" width="1.5" height="1.6" fill="#000"/><rect x="138.5" y="676.0" width="4.7" height="9.0" fill="#00ffff"/><rect x="140.7" y="680.8" width="1.1" height="1.1" fill="#000"/><rect x="141.4" y="679.1" width="1.2" height="1.7" fill="#000"/><rect x="138.9" y="681.9" width="1.1" height="1.9" fill="#000"/><rect x="140.9" y="682.3" width="1.1" height="1.4" fill="#000"/><rect x="138.9" y="680.4" width="1.2" height="1.1" fill="#000"/><rect x="140.2" y="679.7" width="1.5" height="1.9" fill="#000"/><rect x="139.9" y="680.9" width="1.7" height="1.8" fill="#000"/><rect x="140.7" y="680.6" width="1.3" height="1.1" fill="#000"/><rect x="144.1" y="676.0" width="4.7" height="9.0" fill="#00ffff"/><rect x="145.3" y="677.1" width="1.8" height="1.5" fill="#000"/><rect x="144.8" y="676.5" width="1.5" height="1.3" fill="#000"/><rect x="144.8" y="682.7" width="1.0" height="1.7" fill="#000"/><rect x="144.8" y="676.5" width="1.1" height="1.9" fill="#000"/><rect x="146.2" y="677.7" width="1.6" height="1.3" fill="#000"/><rect x="146.5" y="681.9" width="1.1" height="1.8" fill="#000"/><rect x="146.0" y="681.4" width="1.6" height="1.2" fill="#000"/><rect x="145.1" y="682.5" width="1.4" height="1.9" fill="#000"/><rect x="149.6" y="676.0" width="4.7" height="9.0" fill="#00ffff"/><rect x="152.6" y="681.3" width="1.1" height="1.1" fill="#000"/><rect x="150.7" y="680.5" width="1.5" height="1.4" fill="#000"/><rect x="151.3" y="678.4" width="1.8" height="1.8" fill="#000"/><rect x="151.0" y="677.5" width="1.8" height="1.7" fill="#000"/><rect x="152.2" y="677.5" width="1.8" height="1.2" fill="#000"/><rect x="151.8" y="679.4" width="1.6" height="1.5" fill="#000"/><rect x="150.9" y="678.2" width="1.2" height="1.8" fill="#000"/><rect x="152.0" y="680.3" width="1.5" height="1.7" fill="#000"/><rect x="155.1" y="676.0" width="4.7" height="9.0" fill="#00ffff"/><rect x="155.8" y="682.3" width="1.6" height="1.1" fill="#000"/><rect x="156.1" y="678.8" width="1.5" height="2.0" fill="#000"/><rect x="156.1" y="679.3" width="1.3" height="1.8" fill="#000"/><rect x="156.1" y="677.5" width="1.6" height="1.4" fill="#000"/><rect x="157.3" y="678.2" width="1.7" height="1.8" fill="#000"/><rect x="158.3" y="677.3" width="1.1" height="1.9" fill="#000"/><rect x="156.7" y="681.4" width="1.8" height="1.8" fill="#000"/><rect x="156.9" y="679.6" width="1.4" height="1.6" fill="#000"/><rect x="160.7" y="676.0" width="4.7" height="9.0" fill="#00ffff"/><rect x="163.7" y="677.9" width="1.2" height="1.8" fill="#000"/><rect x="162.2" y="677.7" width="1.5" height="1.7" fill="#000"/><rect x="163.2" y="679.4" width="1.2" height="1.8" fill="#000"/><rect x="163.3" y="677.9" width="1.1" height="1.8" fill="#000"/><rect x="163.3" y="679.7" width="1.5" height="1.9" fill="#000"/><rect x="161.5" y="677.6" width="1.4" height="1.6" fill="#000"/><rect x="162.1" y="680.1" width="1.2" height="1.7" fill="#000"/><rect x="166.2" y="676.0" width="4.7" height="9.0" fill="#00ffff"/><rect x="167.1" y="682.3" width="1.6" height="1.9" fill="#000"/><rect x="167.5" y="679.3" width="1.4" height="1.9" fill="#000"/><rect x="166.7" y="678.3" width="1.1" height="1.4" fill="#000"/><rect x="167.1" y="682.5" width="1.5" height="1.2" fill="#000"/><rect x="167.1" y="682.5" width="1.5" height="1.6" fill="#000"/><rect x="167.8" y="680.6" width="1.2" height="1.2" fill="#000"/><rect x="168.7" y="678.8" width="1.5" height="1.2" fill="#000"/><rect x="171.7" y="676.0" width="4.7" height="9.0" fill="#00ffff"/><rect x="172.2" y="679.0" width="1.3" height="1.1" fill="#000"/><rect x="174.2" y="682.4" width="1.6" height="1.5" fill="#000"/><rect x="174.3" y="681.0" width="1.7" height="1.7" fill="#000"/><rect x="172.8" y="677.0" width="1.1" height="1.4" fill="#000"/><rect x="172.5" y="682.1" width="1.7" height="1.5" fill="#000"/><rect x="174.0" y="677.6" width="1.3" height="1.3" fill="#000"/><rect x="177.3" y="676.0" width="4.7" height="9.0" fill="#00ffff"/><rect x="178.9" y="676.6" width="1.7" height="1.1" fill="#000"/><rect x="178.8" y="681.5" width="1.7" height="1.3" fill="#000"/><rect x="177.8" y="678.5" width="1.6" height="1.5" fill="#000"/><rect x="179.8" y="680.5" width="1.0" height="1.3" fill="#000"/><rect x="178.9" y="678.8" width="1.4" height="1.7" fill="#000"/><rect x="178.6" y="679.4" width="1.3" height="1.4" fill="#000"/><rect x="179.8" y="679.3" width="1.6" height="1.9" fill="#000"/></g>
<line x1="497" y1="694.5" x2="761" y2="694.5" stroke="#ffffff" stroke-width="1" />
<line x1="497" y1="709.5" x2="761" y2="709.5" stroke="#ffffff" stroke-width="1" />
<line x1="497" y1="757.5" x2="761" y2="757.5" stroke="#ffffff" stroke-width="1" />
<line x1="497" y1="788.5" x2="761" y2="788.5" stroke="#ffffff" stroke-width="1" />
<line x1="497" y1="694.5" x2="761" y2="694.5" stroke="#ffffff" stroke-width="1" />
<line x1="497.5" y1="694" x2="497.5" y2="789" stroke="#ffffff" stroke-width="1" />
<line x1="532.5" y1="694" x2="532.5" y2="789" stroke="#ffffff" stroke-width="1" />
<line x1="568.5" y1="694" x2="568.5" y2="789" stroke="#ffffff" stroke-width="1" />
<line x1="586.5" y1="694" x2="586.5" y2="789" stroke="#ffffff" stroke-width="1" />
<line x1="604.5" y1="694" x2="604.5" y2="789" stroke="#ffffff" stroke-width="1" />
<line x1="622.5" y1="694" x2="622.5" y2="789" stroke="#ffffff" stroke-width="1" />
<line x1="644.5" y1="694" x2="644.5" y2="789" stroke="#ffffff" stroke-width="1" />
<line x1="662.5" y1="694" x2="662.5" y2="789" stroke="#ffffff" stroke-width="1" />
<line x1="680.5" y1="694" x2="680.5" y2="789" stroke="#ffffff" stroke-width="1" />
<line x1="706.5" y1="694" x2="706.5" y2="789" stroke="#ffffff" stroke-width="1" />
<line x1="724.5" y1="694" x2="724.5" y2="789" stroke="#ffffff" stroke-width="1" />
<line x1="742.5" y1="694" x2="742.5" y2="789" stroke="#ffffff" stroke-width="1" />
<line x1="760.5" y1="694" x2="760.5" y2="789" stroke="#ffffff" stroke-width="1" />
<line x1="532" y1="725.5" x2="569" y2="725.5" stroke="#ffffff" stroke-width="1" />
<line x1="532" y1="741.5" x2="569" y2="741.5" stroke="#ffffff" stroke-width="1" />
<line x1="532" y1="772.5" x2="569" y2="772.5" stroke="#ffffff" stroke-width="1" />
<line x1="586" y1="772.5" x2="605" y2="772.5" stroke="#ffffff" stroke-width="1" />
<line x1="622" y1="725.5" x2="645" y2="725.5" stroke="#ffffff" stroke-width="1" />
<line x1="622" y1="741.5" x2="645" y2="741.5" stroke="#ffffff" stroke-width="1" />
<line x1="622" y1="772.5" x2="645" y2="772.5" stroke="#ffffff" stroke-width="1" />
<line x1="662" y1="741.5" x2="681" y2="741.5" stroke="#ffffff" stroke-width="1" />
<line x1="662" y1="772.5" x2="681" y2="772.5" stroke="#ffffff" stroke-width="1" />
<line x1="706" y1="725.5" x2="725" y2="725.5" stroke="#ffffff" stroke-width="1" />
<line x1="724" y1="725.5" x2="743" y2="725.5" stroke="#ffffff" stroke-width="1" />
<line x1="724" y1="772.5" x2="743" y2="772.5" stroke="#ffffff" stroke-width="1" />
<text x="575.4" y="705.7" fill="#00ffff" stroke="#00ffff" stroke-width="0.3" font-size="9.6" font-family="Liberation Sans" font-weight="normal" text-anchor="start" textLength="4.3" lengthAdjust="spacingAndGlyphs">A</text>
<text x="592.0" y="705.7" fill="#00ffff" stroke="#00ffff" stroke-width="0.3" font-size="9.6" font-family="Liberation Sans" font-weight="normal" text-anchor="start" textLength="6.9" lengthAdjust="spacingAndGlyphs">A1</text>
<text x="610.0" y="705.7" fill="#00ffff" stroke="#00ffff" stroke-width="0.3" font-size="9.6" font-family="Liberation Sans" font-weight="normal" text-anchor="start" textLength="6.9" lengthAdjust="spacingAndGlyphs">Z1</text>
<text x="629.2" y="705.7" fill="#00ffff" stroke="#00ffff" stroke-width="0.3" font-size="9.6" font-family="Liberation Sans" font-weight="normal" text-anchor="start" textLength="8.6" lengthAdjust="spacingAndGlyphs">Z2</text>
<text x="649.2" y="705.7" fill="#00ffff" stroke="#00ffff" stroke-width="0.3" font-size="9.6" font-family="Liberation Sans" font-weight="normal" text-anchor="start" textLength="8.6" lengthAdjust="spacingAndGlyphs">Z3</text>
<text x="667.2" y="705.7" fill="#00ffff" stroke="#00ffff" stroke-width="0.3" font-size="9.6" font-family="Liberation Sans" font-weight="normal" text-anchor="start" textLength="8.6" lengthAdjust="spacingAndGlyphs">Z4</text>
<text x="689.2" y="705.7" fill="#00ffff" stroke="#00ffff" stroke-width="0.3" font-size="9.6" font-family="Liberation Sans" font-weight="normal" text-anchor="start" textLength="8.6" lengthAdjust="spacingAndGlyphs">Z5</text>
<text x="711.2" y="705.7" fill="#00ffff" stroke="#00ffff" stroke-width="0.3" font-size="9.6" font-family="Liberation Sans" font-weight="normal" text-anchor="start" textLength="8.6" lengthAdjust="spacingAndGlyphs">Z6</text>
<text x="729.2" y="705.7" fill="#00ffff" stroke="#00ffff" stroke-width="0.3" font-size="9.6" font-family="Liberation Sans" font-weight="normal" text-anchor="start" textLength="8.6" lengthAdjust="spacingAndGlyphs">Z7</text>
<text x="747.2" y="705.7" fill="#00ffff" stroke="#00ffff" stroke-width="0.3" font-size="9.6" font-family="Liberation Sans" font-weight="normal" text-anchor="start" textLength="8.6" lengthAdjust="spacingAndGlyphs">Z8</text>
<text x="502.1" y="737.2" fill="#00ffff" stroke="#00ffff" stroke-width="0.3" font-size="9.6" font-family="Liberation Sans" font-weight="normal" text-anchor="start" textLength="25.8" lengthAdjust="spacingAndGlyphs">JZQ400</text>
<text x="541.5" y="721.2" fill="#00ffff" stroke="#00ffff" stroke-width="0.3" font-size="9.6" font-family="Liberation Sans" font-weight="normal" text-anchor="start" textLength="18.1" lengthAdjust="spacingAndGlyphs">Y112M</text>
<text x="540.6" y="737.2" fill="#00ffff" stroke="#00ffff" stroke-width="0.3" font-size="9.6" font-family="Liberation Sans" font-weight="normal" text-anchor="start" textLength="19.8" lengthAdjust="spacingAndGlyphs">Y132S</text>
<text x="540.6" y="753.2" fill="#00ffff" stroke="#00ffff" stroke-width="0.3" font-size="9.6" font-family="Liberation Sans" font-weight="normal" text-anchor="start" textLength="19.8" lengthAdjust="spacingAndGlyphs">Y132M</text>
<text x="571.0" y="737.2" fill="#00ffff" stroke="#00ffff" stroke-width="0.3" font-size="9.6" font-family="Liberation Sans" font-weight="normal" text-anchor="start" textLength="12.9" lengthAdjust="spacingAndGlyphs">400</text>
<text x="589.0" y="737.2" fill="#00ffff" stroke="#00ffff" stroke-width="0.3" font-size="9.6" font-family="Liberation Sans" font-weight="normal" text-anchor="start" textLength="12.9" lengthAdjust="spacingAndGlyphs">568</text>
<text x="607.0" y="737.2" fill="#00ffff" stroke="#00ffff" stroke-width="0.3" font-size="9.6" font-family="Liberation Sans" font-weight="normal" text-anchor="start" textLength="12.9" lengthAdjust="spacingAndGlyphs">588</text>
<text x="629.2" y="721.2" fill="#00ffff" stroke="#00ffff" stroke-width="0.3" font-size="9.6" font-family="Liberation Sans" font-weight="normal" text-anchor="start" textLength="8.6" lengthAdjust="spacingAndGlyphs">20</text>
<text x="632.2" y="737.2" fill="#00ffff" stroke="#00ffff" stroke-width="0.3" font-size="9.6" font-family="Liberation Sans" font-weight="normal" text-anchor="start" textLength="2.6" lengthAdjust="spacingAndGlyphs">1</text>
<text x="628.5" y="753.2" fill="#00ffff" stroke="#00ffff" stroke-width="0.3" font-size="9.6" font-family="Liberation Sans" font-weight="normal" text-anchor="start" textLength="9.9" lengthAdjust="spacingAndGlyphs">-18</text>
<text x="647.0" y="737.2" fill="#00ffff" stroke="#00ffff" stroke-width="0.3" font-size="9.6" font-family="Liberation Sans" font-weight="normal" text-anchor="start" textLength="12.9" lengthAdjust="spacingAndGlyphs">270</text>
<text x="665.9" y="729.2" fill="#00ffff" stroke="#00ffff" stroke-width="0.3" font-size="9.6" font-family="Liberation Sans" font-weight="normal" text-anchor="start" textLength="11.2" lengthAdjust="spacingAndGlyphs">140</text>
<text x="665.9" y="753.2" fill="#00ffff" stroke="#00ffff" stroke-width="0.3" font-size="9.6" font-family="Liberation Sans" font-weight="normal" text-anchor="start" textLength="11.2" lengthAdjust="spacingAndGlyphs">178</text>
<text x="687.0" y="737.2" fill="#00ffff" stroke="#00ffff" stroke-width="0.3" font-size="9.6" font-family="Liberation Sans" font-weight="normal" text-anchor="start" textLength="12.9" lengthAdjust="spacingAndGlyphs">600</text>
<text x="713.4" y="721.2" fill="#00ffff" stroke="#00ffff" stroke-width="0.3" font-size="9.6" font-family="Liberation Sans" font-weight="normal" text-anchor="start" textLength="4.3" lengthAdjust="spacingAndGlyphs">0</text>
<text x="709.0" y="745.2" fill="#00ffff" stroke="#00ffff" stroke-width="0.3" font-size="9.6" font-family="Liberation Sans" font-weight="normal" text-anchor="start" textLength="12.9" lengthAdjust="spacingAndGlyphs">500</text>
<text x="727.0" y="721.2" fill="#00ffff" stroke="#00ffff" stroke-width="0.3" font-size="9.6" font-family="Liberation Sans" font-weight="normal" text-anchor="start" textLength="12.9" lengthAdjust="spacingAndGlyphs">600</text>
<text x="727.0" y="745.2" fill="#00ffff" stroke="#00ffff" stroke-width="0.3" font-size="9.6" font-family="Liberation Sans" font-weight="normal" text-anchor="start" textLength="12.9" lengthAdjust="spacingAndGlyphs">700</text>
<text x="745.9" y="737.2" fill="#00ffff" stroke="#00ffff" stroke-width="0.3" font-size="9.6" font-family="Liberation Sans" font-weight="normal" text-anchor="start" textLength="11.2" lengthAdjust="spacingAndGlyphs">120</text>
<text x="502.1" y="776.7" fill="#00ffff" stroke="#00ffff" stroke-width="0.3" font-size="9.6" font-family="Liberation Sans" font-weight="normal" text-anchor="start" textLength="25.8" lengthAdjust="spacingAndGlyphs">JZQ500</text>
<text x="540.6" y="768.7" fill="#00ffff" stroke="#00ffff" stroke-width="0.3" font-size="9.6" font-family="Liberation Sans" font-weight="normal" text-anchor="start" textLength="19.8" lengthAdjust="spacingAndGlyphs">Y132M</text>
<text x="540.6" y="784.2" fill="#00ffff" stroke="#00ffff" stroke-width="0.3" font-size="9.6" font-family="Liberation Sans" font-weight="normal" text-anchor="start" textLength="19.8" lengthAdjust="spacingAndGlyphs">Y160M</text>
<text x="571.0" y="776.7" fill="#00ffff" stroke="#00ffff" stroke-width="0.3" font-size="9.6" font-family="Liberation Sans" font-weight="normal" text-anchor="start" textLength="12.9" lengthAdjust="spacingAndGlyphs">500</text>
<text x="589.0" y="768.7" fill="#00ffff" stroke="#00ffff" stroke-width="0.3" font-size="9.6" font-family="Liberation Sans" font-weight="normal" text-anchor="start" textLength="12.9" lengthAdjust="spacingAndGlyphs">568</text>
<text x="589.9" y="784.2" fill="#00ffff" stroke="#00ffff" stroke-width="0.3" font-size="9.6" font-family="Liberation Sans" font-weight="normal" text-anchor="start" textLength="11.2" lengthAdjust="spacingAndGlyphs">610</text>
<text x="607.0" y="776.7" fill="#00ffff" stroke="#00ffff" stroke-width="0.3" font-size="9.6" font-family="Liberation Sans" font-weight="normal" text-anchor="start" textLength="12.9" lengthAdjust="spacingAndGlyphs">598</text>
<text x="629.2" y="768.7" fill="#00ffff" stroke="#00ffff" stroke-width="0.3" font-size="9.6" font-family="Liberation Sans" font-weight="normal" text-anchor="start" textLength="8.6" lengthAdjust="spacingAndGlyphs">42</text>
<text x="631.4" y="784.2" fill="#00ffff" stroke="#00ffff" stroke-width="0.3" font-size="9.6" font-family="Liberation Sans" font-weight="normal" text-anchor="start" textLength="4.3" lengthAdjust="spacingAndGlyphs">7</text>
<text x="647.9" y="776.7" fill="#00ffff" stroke="#00ffff" stroke-width="0.3" font-size="9.6" font-family="Liberation Sans" font-weight="normal" text-anchor="start" textLength="11.2" lengthAdjust="spacingAndGlyphs">310</text>
<text x="665.9" y="768.7" fill="#00ffff" stroke="#00ffff" stroke-width="0.3" font-size="9.6" font-family="Liberation Sans" font-weight="normal" text-anchor="start" textLength="11.2" lengthAdjust="spacingAndGlyphs">178</text>
<text x="665.9" y="784.2" fill="#00ffff" stroke="#00ffff" stroke-width="0.3" font-size="9.6" font-family="Liberation Sans" font-weight="normal" text-anchor="start" textLength="11.2" lengthAdjust="spacingAndGlyphs">210</text>
<text x="687.0" y="776.7" fill="#00ffff" stroke="#00ffff" stroke-width="0.3" font-size="9.6" font-family="Liberation Sans" font-weight="normal" text-anchor="start" textLength="12.9" lengthAdjust="spacingAndGlyphs">500</text>
<text x="709.0" y="776.7" fill="#00ffff" stroke="#00ffff" stroke-width="0.3" font-size="9.6" font-family="Liberation Sans" font-weight="normal" text-anchor="start" textLength="12.9" lengthAdjust="spacingAndGlyphs">500</text>
<text x="727.0" y="768.7" fill="#00ffff" stroke="#00ffff" stroke-width="0.3" font-size="9.6" font-family="Liberation Sans" font-weight="normal" text-anchor="start" textLength="12.9" lengthAdjust="spacingAndGlyphs">950</text>
<text x="725.8" y="784.2" fill="#00ffff" stroke="#00ffff" stroke-width="0.3" font-size="9.6" font-family="Liberation Sans" font-weight="normal" text-anchor="start" textLength="15.5" lengthAdjust="spacingAndGlyphs">1000</text>
<text x="745.9" y="776.7" fill="#00ffff" stroke="#00ffff" stroke-width="0.3" font-size="9.6" font-family="Liberation Sans" font-weight="normal" text-anchor="start" textLength="11.2" lengthAdjust="spacingAndGlyphs">170</text>
<g><rect x="500.5" y="698.0" width="4.9" height="9.0" fill="#00ffff"/><rect x="502.9" y="698.9" width="1.7" height="1.2" fill="#000"/><rect x="502.8" y="703.7" width="1.6" height="1.4" fill="#000"/><rect x="501.7" y="698.5" width="1.8" height="1.9" fill="#000"/><rect x="501.8" y="699.8" width="1.1" height="2.0" fill="#000"/><rect x="501.9" y="703.4" width="1.2" height="1.4" fill="#000"/><rect x="503.5" y="701.3" width="1.2" height="1.5" fill="#000"/><rect x="506.2" y="698.0" width="4.9" height="9.0" fill="#00ffff"/><rect x="507.0" y="700.2" width="1.3" height="1.5" fill="#000"/><rect x="506.9" y="701.7" width="1.7" height="1.4" fill="#000"/><rect x="506.9" y="704.6" width="1.3" height="1.9" fill="#000"/><rect x="508.6" y="699.7" width="1.1" height="1.9" fill="#000"/><rect x="507.3" y="699.8" width="1.4" height="1.3" fill="#000"/><rect x="509.4" y="704.2" width="1.4" height="2.0" fill="#000"/><rect x="511.9" y="698.0" width="4.9" height="9.0" fill="#00ffff"/><rect x="512.7" y="704.0" width="1.4" height="1.5" fill="#000"/><rect x="513.8" y="701.5" width="1.8" height="1.2" fill="#000"/><rect x="513.5" y="703.7" width="1.5" height="1.5" fill="#000"/><rect x="513.1" y="698.7" width="1.8" height="1.3" fill="#000"/><rect x="512.8" y="704.2" width="1.4" height="1.3" fill="#000"/><rect x="512.7" y="702.6" width="1.5" height="1.3" fill="#000"/><rect x="517.6" y="698.0" width="4.9" height="9.0" fill="#00ffff"/><rect x="519.8" y="699.5" width="1.8" height="1.7" fill="#000"/><rect x="519.8" y="699.6" width="1.2" height="1.7" fill="#000"/><rect x="520.0" y="702.1" width="1.3" height="1.1" fill="#000"/><rect x="519.2" y="700.6" width="1.7" height="1.9" fill="#000"/><rect x="520.7" y="699.0" width="1.3" height="1.7" fill="#000"/><rect x="518.3" y="702.7" width="1.4" height="1.8" fill="#000"/></g>
<g><rect x="535.5" y="698.0" width="4.9" height="9.0" fill="#00ffff"/><rect x="536.9" y="699.4" width="1.2" height="1.8" fill="#000"/><rect x="535.9" y="701.8" width="1.4" height="1.6" fill="#000"/><rect x="536.2" y="703.2" width="1.4" height="1.5" fill="#000"/><rect x="536.6" y="702.9" width="1.7" height="1.9" fill="#000"/><rect x="536.0" y="704.1" width="1.4" height="1.8" fill="#000"/><rect x="537.1" y="701.9" width="1.8" height="1.5" fill="#000"/><rect x="541.2" y="698.0" width="4.9" height="9.0" fill="#00ffff"/><rect x="541.8" y="702.7" width="1.2" height="1.3" fill="#000"/><rect x="543.2" y="705.0" width="1.2" height="1.4" fill="#000"/><rect x="543.8" y="700.0" width="1.1" height="1.9" fill="#000"/><rect x="542.7" y="699.9" width="1.7" height="1.7" fill="#000"/><rect x="541.8" y="699.6" width="1.4" height="1.4" fill="#000"/><rect x="543.3" y="703.5" width="1.3" height="1.5" fill="#000"/><rect x="544.2" y="702.2" width="1.2" height="1.2" fill="#000"/><rect x="543.5" y="701.6" width="1.3" height="1.3" fill="#000"/><rect x="546.9" y="698.0" width="4.9" height="9.0" fill="#00ffff"/><rect x="550.0" y="700.9" width="1.2" height="1.8" fill="#000"/><rect x="548.7" y="700.9" width="1.4" height="1.8" fill="#000"/><rect x="548.1" y="699.9" width="1.8" height="1.8" fill="#000"/><rect x="550.1" y="703.8" width="1.3" height="1.5" fill="#000"/><rect x="549.3" y="698.7" width="1.8" height="1.8" fill="#000"/><rect x="549.8" y="699.9" width="1.5" height="1.9" fill="#000"/><rect x="548.3" y="701.9" width="1.4" height="1.6" fill="#000"/><rect x="552.6" y="698.0" width="4.9" height="9.0" fill="#00ffff"/><rect x="554.9" y="700.0" width="1.3" height="1.3" fill="#000"/><rect x="555.7" y="701.5" width="1.4" height="1.4" fill="#000"/><rect x="555.9" y="698.6" width="1.1" height="2.0" fill="#000"/><rect x="555.2" y="702.5" width="1.7" height="1.6" fill="#000"/><rect x="553.0" y="699.0" width="1.6" height="1.8" fill="#000"/><rect x="553.7" y="698.7" width="1.2" height="1.1" fill="#000"/></g>
<defs><pattern id="hat" width="3.5" height="3.5" patternUnits="userSpaceOnUse" patternTransform="rotate(45)"><rect width="3.5" height="3.5" fill="#000"/><rect width="1.1" height="3.5" fill="#fff"/></pattern><pattern id="dotw" width="2" height="2" patternUnits="userSpaceOnUse"><rect width="2" height="2" fill="#00ff00"/><rect width="1" height="1" fill="#fff"/><rect x="1" y="1" width="1" height="1" fill="#fff"/></pattern><pattern id="gnd" width="40" height="6" patternUnits="userSpaceOnUse"><rect width="40" height="6" fill="#00ff00"/><rect x="5" y="0" width="1" height="1" fill="#000"/><rect x="6" y="0" width="1" height="1" fill="#000"/><rect x="21" y="0" width="1" height="1" fill="#000"/><rect x="25" y="0" width="1" height="1" fill="#000"/><rect x="25" y="1" width="1" height="1" fill="#000"/><rect x="28" y="1" width="1" height="1" fill="#000"/><rect x="35" y="1" width="1" height="1" fill="#000"/><rect x="37" y="1" width="1" height="1" fill="#000"/><rect x="5" y="2" width="1" height="1" fill="#000"/><rect x="7" y="2" width="1" height="1" fill="#000"/><rect x="12" y="2" width="1" height="1" fill="#000"/><rect x="33" y="2" width="1" height="1" fill="#000"/><rect x="36" y="2" width="1" height="1" fill="#000"/><rect x="39" y="2" width="1" height="1" fill="#000"/><rect x="6" y="3" width="1" height="1" fill="#000"/><rect x="7" y="3" width="1" height="1" fill="#000"/><rect x="21" y="3" width="1" height="1" fill="#000"/><rect x="31" y="3" width="1" height="1" fill="#000"/><rect x="24" y="4" width="1" height="1" fill="#000"/><rect x="39" y="4" width="1" height="1" fill="#000"/><rect x="1" y="5" width="1" height="1" fill="#000"/><rect x="3" y="5" width="1" height="1" fill="#000"/><rect x="10" y="5" width="1" height="1" fill="#000"/><rect x="12" y="5" width="1" height="1" fill="#000"/><rect x="13" y="5" width="1" height="1" fill="#000"/><rect x="19" y="5" width="1" height="1" fill="#000"/><rect x="20" y="5" width="1" height="1" fill="#000"/><rect x="25" y="5" width="1" height="1" fill="#000"/><rect x="28" y="5" width="1" height="1" fill="#000"/><rect x="33" y="5" width="1" height="1" fill="#000"/><rect x="36" y="5" width="1" height="1" fill="#000"/><rect x="37" y="5" width="1" height="1" fill="#000"/><rect x="38" y="5" width="1" height="1" fill="#000"/></pattern></defs>
<line x1="947.5" y1="49" x2="947.5" y2="277" stroke="#ff0000" stroke-width="1" stroke-dasharray="14,2,2,2"/>
<line x1="1048.5" y1="49" x2="1048.5" y2="277" stroke="#ff0000" stroke-width="1" stroke-dasharray="14,2,2,2"/>
<line x1="998.5" y1="51" x2="998.5" y2="277" stroke="#ff0000" stroke-width="1" stroke-dasharray="14,2,2,2"/>
<line x1="941" y1="266.5" x2="1055" y2="266.5" stroke="#ff0000" stroke-width="1" stroke-dasharray="14,2,2,2"/>
<line x1="941.5" y1="63" x2="941.5" y2="273" stroke="#00ff00" stroke-width="1" />
<line x1="1054.5" y1="63" x2="1054.5" y2="273" stroke="#00ff00" stroke-width="1" />
<line x1="941" y1="272.5" x2="1055" y2="272.5" stroke="#00ff00" stroke-width="1" />
<line x1="941" y1="257.5" x2="1055" y2="257.5" stroke="#00ff00" stroke-width="1" />
<rect x="938" y="61" width="121" height="3" fill="url(#dotw)" stroke="none"/>
<rect x="937" y="61" width="2" height="9" fill="url(#dotw)" stroke="none"/>
<rect x="1057" y="61" width="2" height="9" fill="url(#dotw)" stroke="none"/>
<rect x="957" y="63" width="2" height="192" fill="url(#dotw)" stroke="none"/>
<rect x="1037" y="63" width="2" height="192" fill="url(#dotw)" stroke="none"/>
<rect x="941" y="254" width="114" height="3" fill="url(#dotw)" stroke="none"/>
<circle cx="947.5" cy="80.5" r="3.9" stroke="#00ff00" stroke-width="0" fill="#00ff00" />
<rect x="946.5" y="79.5" width="2" height="2" fill="#ffffff" stroke="none"/>
<line x1="941" y1="80.5" x2="954" y2="80.5" stroke="#ff0000" stroke-width="1" />
<line x1="947.5" y1="76" x2="947.5" y2="85" stroke="#ff0000" stroke-width="1" />
<circle cx="947.5" cy="119.5" r="3.9" stroke="#00ff00" stroke-width="0" fill="#00ff00" />
<rect x="946.5" y="118.5" width="2" height="2" fill="#ffffff" stroke="none"/>
<line x1="941" y1="119.5" x2="954" y2="119.5" stroke="#ff0000" stroke-width="1" />
<line x1="947.5" y1="115" x2="947.5" y2="124" stroke="#ff0000" stroke-width="1" />
<circle cx="947.5" cy="158.5" r="3.9" stroke="#00ff00" stroke-width="0" fill="#00ff00" />
<rect x="946.5" y="157.5" width="2" height="2" fill="#ffffff" stroke="none"/>
<line x1="941" y1="158.5" x2="954" y2="158.5" stroke="#ff0000" stroke-width="1" />
<line x1="947.5" y1="154" x2="947.5" y2="163" stroke="#ff0000" stroke-width="1" />
<circle cx="947.5" cy="198.5" r="3.9" stroke="#00ff00" stroke-width="0" fill="#00ff00" />
<rect x="946.5" y="197.5" width="2" height="2" fill="#ffffff" stroke="none"/>
<line x1="941" y1="198.5" x2="954" y2="198.5" stroke="#ff0000" stroke-width="1" />
<line x1="947.5" y1="194" x2="947.5" y2="203" stroke="#ff0000" stroke-width="1" />
<circle cx="947.5" cy="237.5" r="3.9" stroke="#00ff00" stroke-width="0" fill="#00ff00" />
<rect x="946.5" y="236.5" width="2" height="2" fill="#ffffff" stroke="none"/>
<line x1="941" y1="237.5" x2="954" y2="237.5" stroke="#ff0000" stroke-width="1" />
<line x1="947.5" y1="233" x2="947.5" y2="242" stroke="#ff0000" stroke-width="1" />
<circle cx="1048.5" cy="80.5" r="3.9" stroke="#00ff00" stroke-width="0" fill="#00ff00" />
<rect x="1047.5" y="79.5" width="2" height="2" fill="#ffffff" stroke="none"/>
<line x1="1042" y1="80.5" x2="1055" y2="80.5" stroke="#ff0000" stroke-width="1" />
<line x1="1048.5" y1="76" x2="1048.5" y2="85" stroke="#ff0000" stroke-width="1" />
<circle cx="1048.5" cy="119.5" r="3.9" stroke="#00ff00" stroke-width="0" fill="#00ff00" />
<rect x="1047.5" y="118.5" width="2" height="2" fill="#ffffff" stroke="none"/>
<line x1="1042" y1="119.5" x2="1055" y2="119.5" stroke="#ff0000" stroke-width="1" />
<line x1="1048.5" y1="115" x2="1048.5" y2="124" stroke="#ff0000" stroke-width="1" />
<circle cx="1048.5" cy="158.5" r="3.9" stroke="#00ff00" stroke-width="0" fill="#00ff00" />
<rect x="1047.5" y="157.5" width="2" height="2" fill="#ffffff" stroke="none"/>
<line x1="1042" y1="158.5" x2="1055" y2="158.5" stroke="#ff0000" stroke-width="1" />
<line x1="1048.5" y1="154" x2="1048.5" y2="163" stroke="#ff0000" stroke-width="1" />
<circle cx="1048.5" cy="198.5" r="3.9" stroke="#00ff00" stroke-width="0" fill="#00ff00" />
<rect x="1047.5" y="197.5" width="2" height="2" fill="#ffffff" stroke="none"/>
<line x1="1042" y1="198.5" x2="1055" y2="198.5" stroke="#ff0000" stroke-width="1" />
<line x1="1048.5" y1="194" x2="1048.5" y2="203" stroke="#ff0000" stroke-width="1" />
<circle cx="1048.5" cy="237.5" r="3.9" stroke="#00ff00" stroke-width="0" fill="#00ff00" />
<rect x="1047.5" y="236.5" width="2" height="2" fill="#ffffff" stroke="none"/>
<line x1="1042" y1="237.5" x2="1055" y2="237.5" stroke="#ff0000" stroke-width="1" />
<line x1="1048.5" y1="233" x2="1048.5" y2="242" stroke="#ff0000" stroke-width="1" />
<circle cx="958.5" cy="266.5" r="3.9" stroke="#00ff00" stroke-width="0" fill="#00ff00" />
<rect x="957.5" y="265.5" width="2" height="2" fill="#ffffff" stroke="none"/>
<line x1="952" y1="266.5" x2="965" y2="266.5" stroke="#ff0000" stroke-width="1" />
<circle cx="998.5" cy="266.5" r="3.9" stroke="#00ff00" stroke-width="0" fill="#00ff00" />
<rect x="997.5" y="265.5" width="2" height="2" fill="#ffffff" stroke="none"/>
<line x1="992" y1="266.5" x2="1005" y2="266.5" stroke="#ff0000" stroke-width="1" />
<circle cx="1037.5" cy="266.5" r="3.9" stroke="#00ff00" stroke-width="0" fill="#00ff00" />
<rect x="1036.5" y="265.5" width="2" height="2" fill="#ffffff" stroke="none"/>
<line x1="1031" y1="266.5" x2="1044" y2="266.5" stroke="#ff0000" stroke-width="1" />
<rect x="943" y="58.5" width="9" height="3" stroke="#00ff00" stroke-width="1" fill="none" />
<line x1="945.5" y1="58" x2="945.5" y2="62" stroke="#00ff00" stroke-width="1" />
<line x1="949.5" y1="58" x2="949.5" y2="62" stroke="#00ff00" stroke-width="1" />
<rect x="943" y="64.5" width="9" height="6" stroke="#00ff00" stroke-width="1" fill="none" />
<line x1="945.5" y1="64" x2="945.5" y2="71" stroke="#00ff00" stroke-width="1" />
<line x1="949.5" y1="64" x2="949.5" y2="71" stroke="#00ff00" stroke-width="1" />
<rect x="943" y="250.5" width="9" height="4" stroke="#00ff00" stroke-width="1" fill="none" />
<line x1="945.5" y1="250" x2="945.5" y2="255" stroke="#00ff00" stroke-width="1" />
<line x1="949.5" y1="250" x2="949.5" y2="255" stroke="#00ff00" stroke-width="1" />
<rect x="943" y="257.5" width="9" height="5" stroke="#00ff00" stroke-width="1" fill="none" />
<line x1="945.5" y1="257" x2="945.5" y2="263" stroke="#00ff00" stroke-width="1" />
<line x1="949.5" y1="257" x2="949.5" y2="263" stroke="#00ff00" stroke-width="1" />
<rect x="1044" y="58.5" width="9" height="3" stroke="#00ff00" stroke-width="1" fill="none" />
<line x1="1046.5" y1="58" x2="1046.5" y2="62" stroke="#00ff00" stroke-width="1" />
<line x1="1050.5" y1="58" x2="1050.5" y2="62" stroke="#00ff00" stroke-width="1" />
<rect x="1044" y="64.5" width="9" height="6" stroke="#00ff00" stroke-width="1" fill="none" />
<line x1="1046.5" y1="64" x2="1046.5" y2="71" stroke="#00ff00" stroke-width="1" />
<line x1="1050.5" y1="64" x2="1050.5" y2="71" stroke="#00ff00" stroke-width="1" />
<rect x="1044" y="250.5" width="9" height="4" stroke="#00ff00" stroke-width="1" fill="none" />
<line x1="1046.5" y1="250" x2="1046.5" y2="255" stroke="#00ff00" stroke-width="1" />
<line x1="1050.5" y1="250" x2="1050.5" y2="255" stroke="#00ff00" stroke-width="1" />
<rect x="1044" y="257.5" width="9" height="5" stroke="#00ff00" stroke-width="1" fill="none" />
<line x1="1046.5" y1="257" x2="1046.5" y2="263" stroke="#00ff00" stroke-width="1" />
<line x1="1050.5" y1="257" x2="1050.5" y2="263" stroke="#00ff00" stroke-width="1" />
<rect x="937" y="62" width="2" height="8" fill="#00ff00" stroke="none"/>
<rect x="1057" y="62" width="2" height="8" fill="#00ff00" stroke="none"/>
<rect x="960.5" y="139.5" width="76" height="12" stroke="#00ff00" stroke-width="1" fill="none" />
<line x1="960.5" y1="151" x2="960.5" y2="165" stroke="#00ff00" stroke-width="1" />
<line x1="1035.5" y1="151" x2="1035.5" y2="165" stroke="#00ff00" stroke-width="1" />
<line x1="949" y1="148.5" x2="967" y2="148.5" stroke="#ff0000" stroke-width="1" />
<line x1="1028" y1="148.5" x2="1048" y2="148.5" stroke="#ff0000" stroke-width="1" />
<line x1="956" y1="160.5" x2="968" y2="160.5" stroke="#ff0000" stroke-width="1" />
<line x1="1028" y1="160.5" x2="1047" y2="160.5" stroke="#ff0000" stroke-width="1" />
<rect x="952.5" y="144.5" width="7" height="8" rx="2" stroke="#00ff00" fill="none"/>
<line x1="952" y1="146.5" x2="960" y2="146.5" stroke="#00ff00" stroke-width="1" />
<line x1="952" y1="150.5" x2="960" y2="150.5" stroke="#00ff00" stroke-width="1" />
<rect x="952.5" y="156.5" width="7" height="9" rx="2" stroke="#00ff00" fill="none"/>
<line x1="952" y1="158.5" x2="960" y2="158.5" stroke="#00ff00" stroke-width="1" />
<line x1="952" y1="162.5" x2="960" y2="162.5" stroke="#00ff00" stroke-width="1" />
<rect x="959.5" y="156.5" width="5" height="8" stroke="#00ff00" stroke-width="1" fill="none" />
<rect x="1037.5" y="144.5" width="7" height="8" rx="2" stroke="#00ff00" fill="none"/>
<line x1="1037" y1="146.5" x2="1045" y2="146.5" stroke="#00ff00" stroke-width="1" />
<line x1="1037" y1="150.5" x2="1045" y2="150.5" stroke="#00ff00" stroke-width="1" />
<rect x="1037.5" y="156.5" width="7" height="9" rx="2" stroke="#00ff00" fill="none"/>
<line x1="1037" y1="158.5" x2="1045" y2="158.5" stroke="#00ff00" stroke-width="1" />
<line x1="1037" y1="162.5" x2="1045" y2="162.5" stroke="#00ff00" stroke-width="1" />
<rect x="1031.5" y="156.5" width="5" height="8" stroke="#00ff00" stroke-width="1" fill="none" />
<g transform="translate(998.3,82.5) scale(1,1)"><path d="M-34.5,28.3 V8 A8,8 0 0 1 -26.5,0 H-15.5 M-27.5,28.3 V8.6 A2.5,2.5 0 0 1 -25,6.1 H-17.5 M-34.5,28.3 H-27.5" stroke="#00ff00" fill="none"/><path d="M-31.5,31 V8.5 A5.5,5.5 0 0 1 -26,3 H-12" stroke="#ff0000" fill="none"/><rect x="-14" y="-4.3" width="7.8" height="20.5" fill="none" stroke="#00ff00"/><rect x="-16" y="-3" width="2" height="14" fill="none" stroke="#00ff00"/></g>
<g transform="translate(998.3,247.6) scale(1,-1)"><path d="M-34.5,28.3 V8 A8,8 0 0 1 -26.5,0 H-15.5 M-27.5,28.3 V8.6 A2.5,2.5 0 0 1 -25,6.1 H-17.5 M-34.5,28.3 H-27.5" stroke="#00ff00" fill="none"/><path d="M-31.5,31 V8.5 A5.5,5.5 0 0 1 -26,3 H-12" stroke="#ff0000" fill="none"/><rect x="-14" y="-4.3" width="7.8" height="20.5" fill="none" stroke="#00ff00"/><rect x="-16" y="-3" width="2" height="14" fill="none" stroke="#00ff00"/></g>
<g transform="translate(998.3,82.5) scale(-1,1)"><path d="M-34.5,28.3 V8 A8,8 0 0 1 -26.5,0 H-15.5 M-27.5,28.3 V8.6 A2.5,2.5 0 0 1 -25,6.1 H-17.5 M-34.5,28.3 H-27.5" stroke="#00ff00" fill="none"/><path d="M-31.5,31 V8.5 A5.5,5.5 0 0 1 -26,3 H-12" stroke="#ff0000" fill="none"/><rect x="-14" y="-4.3" width="7.8" height="20.5" fill="none" stroke="#00ff00"/><rect x="-16" y="-3" width="2" height="14" fill="none" stroke="#00ff00"/></g>
<g transform="translate(998.3,247.6) scale(-1,-1)"><path d="M-34.5,28.3 V8 A8,8 0 0 1 -26.5,0 H-15.5 M-27.5,28.3 V8.6 A2.5,2.5 0 0 1 -25,6.1 H-17.5 M-34.5,28.3 H-27.5" stroke="#00ff00" fill="none"/><path d="M-31.5,31 V8.5 A5.5,5.5 0 0 1 -26,3 H-12" stroke="#ff0000" fill="none"/><rect x="-14" y="-4.3" width="7.8" height="20.5" fill="none" stroke="#00ff00"/><rect x="-16" y="-3" width="2" height="14" fill="none" stroke="#00ff00"/></g>
<clipPath id="hc1"><rect x="984.3" y="78.2" width="7.8" height="20.5"/></clipPath><g clip-path="url(#hc1)" stroke="#ffffff" stroke-width="1"><line x1="963.8" y1="98.7" x2="984.3" y2="78.2"/><line x1="969.8" y1="98.7" x2="990.3" y2="78.2"/><line x1="975.8" y1="98.7" x2="996.3" y2="78.2"/><line x1="981.8" y1="98.7" x2="1002.3" y2="78.2"/><line x1="987.8" y1="98.7" x2="1008.3" y2="78.2"/><line x1="993.8" y1="98.7" x2="1014.3" y2="78.2"/><line x1="999.8" y1="98.7" x2="1020.3" y2="78.2"/><line x1="1005.8" y1="98.7" x2="1026.3" y2="78.2"/><line x1="1011.8" y1="98.7" x2="1032.3" y2="78.2"/></g>
<clipPath id="hc2"><rect x="984.3" y="78.2" width="7.8" height="20.5"/></clipPath><g clip-path="url(#hc2)" stroke="#ffffff" stroke-width="1"><line x1="966.8" y1="78.2" x2="987.3" y2="98.7"/><line x1="972.8" y1="78.2" x2="993.3" y2="98.7"/><line x1="978.8" y1="78.2" x2="999.3" y2="98.7"/><line x1="984.8" y1="78.2" x2="1005.3" y2="98.7"/><line x1="990.8" y1="78.2" x2="1011.3" y2="98.7"/><line x1="996.8" y1="78.2" x2="1017.3" y2="98.7"/><line x1="1002.8" y1="78.2" x2="1023.3" y2="98.7"/><line x1="1008.8" y1="78.2" x2="1029.3" y2="98.7"/><line x1="1014.8" y1="78.2" x2="1035.3" y2="98.7"/></g>
<clipPath id="hc3"><rect x="984.3" y="231.4" width="7.8" height="20.5"/></clipPath><g clip-path="url(#hc3)" stroke="#ffffff" stroke-width="1"><line x1="963.8" y1="251.9" x2="984.3" y2="231.4"/><line x1="969.8" y1="251.9" x2="990.3" y2="231.4"/><line x1="975.8" y1="251.9" x2="996.3" y2="231.4"/><line x1="981.8" y1="251.9" x2="1002.3" y2="231.4"/><line x1="987.8" y1="251.9" x2="1008.3" y2="231.4"/><line x1="993.8" y1="251.9" x2="1014.3" y2="231.4"/><line x1="999.8" y1="251.9" x2="1020.3" y2="231.4"/><line x1="1005.8" y1="251.9" x2="1026.3" y2="231.4"/><line x1="1011.8" y1="251.9" x2="1032.3" y2="231.4"/></g>
<clipPath id="hc4"><rect x="984.3" y="231.4" width="7.8" height="20.5"/></clipPath><g clip-path="url(#hc4)" stroke="#ffffff" stroke-width="1"><line x1="966.8" y1="231.4" x2="987.3" y2="251.9"/><line x1="972.8" y1="231.4" x2="993.3" y2="251.9"/><line x1="978.8" y1="231.4" x2="999.3" y2="251.9"/><line x1="984.8" y1="231.4" x2="1005.3" y2="251.9"/><line x1="990.8" y1="231.4" x2="1011.3" y2="251.9"/><line x1="996.8" y1="231.4" x2="1017.3" y2="251.9"/><line x1="1002.8" y1="231.4" x2="1023.3" y2="251.9"/><line x1="1008.8" y1="231.4" x2="1029.3" y2="251.9"/><line x1="1014.8" y1="231.4" x2="1035.3" y2="251.9"/></g>
<clipPath id="hc5"><rect x="1004.5" y="78.2" width="7.8" height="20.5"/></clipPath><g clip-path="url(#hc5)" stroke="#ffffff" stroke-width="1"><line x1="984.0" y1="78.2" x2="1004.5" y2="98.7"/><line x1="990.0" y1="78.2" x2="1010.5" y2="98.7"/><line x1="996.0" y1="78.2" x2="1016.5" y2="98.7"/><line x1="1002.0" y1="78.2" x2="1022.5" y2="98.7"/><line x1="1008.0" y1="78.2" x2="1028.5" y2="98.7"/><line x1="1014.0" y1="78.2" x2="1034.5" y2="98.7"/><line x1="1020.0" y1="78.2" x2="1040.5" y2="98.7"/><line x1="1026.0" y1="78.2" x2="1046.5" y2="98.7"/><line x1="1032.0" y1="78.2" x2="1052.5" y2="98.7"/></g>
<clipPath id="hc6"><rect x="1004.5" y="78.2" width="7.8" height="20.5"/></clipPath><g clip-path="url(#hc6)" stroke="#ffffff" stroke-width="1"><line x1="987.0" y1="98.7" x2="1007.5" y2="78.2"/><line x1="993.0" y1="98.7" x2="1013.5" y2="78.2"/><line x1="999.0" y1="98.7" x2="1019.5" y2="78.2"/><line x1="1005.0" y1="98.7" x2="1025.5" y2="78.2"/><line x1="1011.0" y1="98.7" x2="1031.5" y2="78.2"/><line x1="1017.0" y1="98.7" x2="1037.5" y2="78.2"/><line x1="1023.0" y1="98.7" x2="1043.5" y2="78.2"/><line x1="1029.0" y1="98.7" x2="1049.5" y2="78.2"/><line x1="1035.0" y1="98.7" x2="1055.5" y2="78.2"/></g>
<clipPath id="hc7"><rect x="1004.5" y="231.4" width="7.8" height="20.5"/></clipPath><g clip-path="url(#hc7)" stroke="#ffffff" stroke-width="1"><line x1="984.0" y1="231.4" x2="1004.5" y2="251.9"/><line x1="990.0" y1="231.4" x2="1010.5" y2="251.9"/><line x1="996.0" y1="231.4" x2="1016.5" y2="251.9"/><line x1="1002.0" y1="231.4" x2="1022.5" y2="251.9"/><line x1="1008.0" y1="231.4" x2="1028.5" y2="251.9"/><line x1="1014.0" y1="231.4" x2="1034.5" y2="251.9"/><line x1="1020.0" y1="231.4" x2="1040.5" y2="251.9"/><line x1="1026.0" y1="231.4" x2="1046.5" y2="251.9"/><line x1="1032.0" y1="231.4" x2="1052.5" y2="251.9"/></g>
<clipPath id="hc8"><rect x="1004.5" y="231.4" width="7.8" height="20.5"/></clipPath><g clip-path="url(#hc8)" stroke="#ffffff" stroke-width="1"><line x1="987.0" y1="251.9" x2="1007.5" y2="231.4"/><line x1="993.0" y1="251.9" x2="1013.5" y2="231.4"/><line x1="999.0" y1="251.9" x2="1019.5" y2="231.4"/><line x1="1005.0" y1="251.9" x2="1025.5" y2="231.4"/><line x1="1011.0" y1="251.9" x2="1031.5" y2="231.4"/><line x1="1017.0" y1="251.9" x2="1037.5" y2="231.4"/><line x1="1023.0" y1="251.9" x2="1043.5" y2="231.4"/><line x1="1029.0" y1="251.9" x2="1049.5" y2="231.4"/><line x1="1035.0" y1="251.9" x2="1055.5" y2="231.4"/></g>
<rect x="992.5" y="81.5" width="12" height="14" stroke="#00ff00" stroke-width="1" fill="none" />
<clipPath id="hc9"><rect x="992.5" y="95.5" width="12" height="7.5"/></clipPath><g clip-path="url(#hc9)" stroke="#ffffff" stroke-width="1"><line x1="984.0" y1="103" x2="992.0" y2="95"/><line x1="990.0" y1="103" x2="998.0" y2="95"/><line x1="996.0" y1="103" x2="1004.0" y2="95"/><line x1="1002.0" y1="103" x2="1010.0" y2="95"/><line x1="1008.0" y1="103" x2="1016.0" y2="95"/></g>
<rect x="992.5" y="95.5" width="12" height="7.5" fill="none" stroke="#00ff00" stroke-width="1"/>
<rect x="992.5" y="234.5" width="12" height="14" stroke="#00ff00" stroke-width="1" fill="none" />
<clipPath id="hc10"><rect x="992.5" y="248.5" width="12" height="6.5"/></clipPath><g clip-path="url(#hc10)" stroke="#ffffff" stroke-width="1"><line x1="985.0" y1="255" x2="992.0" y2="248"/><line x1="991.0" y1="255" x2="998.0" y2="248"/><line x1="997.0" y1="255" x2="1004.0" y2="248"/><line x1="1003.0" y1="255" x2="1010.0" y2="248"/><line x1="1009.0" y1="255" x2="1016.0" y2="248"/></g>
<rect x="992.5" y="248.5" width="12" height="6.5" fill="none" stroke="#00ff00" stroke-width="1"/>
<line x1="980" y1="88.5" x2="1016" y2="88.5" stroke="#ff0000" stroke-width="1" />
<line x1="978" y1="241.5" x2="1018" y2="241.5" stroke="#ff0000" stroke-width="1" />
<line x1="993.5" y1="103" x2="993.5" y2="140" stroke="#00ff00" stroke-width="1" />
<line x1="1002.5" y1="103" x2="1002.5" y2="140" stroke="#00ff00" stroke-width="1" />
<g><rect x="978.0" y="310.0" width="3.6" height="8.0" fill="#00ffff"/><rect x="978.5" y="313.8" width="1.0" height="1.5" fill="#000"/><rect x="978.7" y="313.1" width="1.3" height="1.4" fill="#000"/><rect x="978.5" y="311.2" width="1.1" height="1.1" fill="#000"/><rect x="978.9" y="311.8" width="1.0" height="1.3" fill="#000"/><rect x="980.1" y="314.0" width="0.8" height="1.4" fill="#000"/><rect x="978.6" y="314.5" width="1.1" height="1.5" fill="#000"/><rect x="982.4" y="310.0" width="3.6" height="8.0" fill="#00ffff"/><rect x="983.5" y="315.3" width="1.3" height="1.2" fill="#000"/><rect x="983.1" y="313.7" width="0.8" height="1.2" fill="#000"/><rect x="984.3" y="311.3" width="1.4" height="1.3" fill="#000"/><rect x="983.2" y="312.0" width="1.3" height="1.2" fill="#000"/><rect x="982.7" y="310.5" width="1.3" height="1.1" fill="#000"/><rect x="983.3" y="314.2" width="1.1" height="1.4" fill="#000"/><rect x="983.4" y="314.7" width="1.1" height="1.6" fill="#000"/><rect x="986.8" y="310.0" width="3.6" height="8.0" fill="#00ffff"/><rect x="988.7" y="311.2" width="0.9" height="1.7" fill="#000"/><rect x="988.5" y="314.1" width="1.0" height="1.2" fill="#000"/><rect x="988.0" y="314.6" width="1.3" height="1.6" fill="#000"/><rect x="987.9" y="314.9" width="1.2" height="1.6" fill="#000"/><rect x="987.3" y="315.3" width="1.2" height="1.7" fill="#000"/><rect x="988.4" y="313.2" width="0.8" height="1.6" fill="#000"/><rect x="987.8" y="315.0" width="1.3" height="1.4" fill="#000"/><rect x="987.7" y="313.0" width="1.3" height="1.4" fill="#000"/><rect x="991.2" y="310.0" width="3.6" height="8.0" fill="#00ffff"/><rect x="992.2" y="313.5" width="1.0" height="1.2" fill="#000"/><rect x="991.5" y="314.7" width="1.1" height="1.5" fill="#000"/><rect x="992.0" y="313.6" width="1.4" height="1.3" fill="#000"/><rect x="992.1" y="311.7" width="1.3" height="1.3" fill="#000"/><rect x="993.2" y="314.0" width="1.3" height="1.2" fill="#000"/><rect x="993.5" y="315.8" width="0.9" height="1.2" fill="#000"/><rect x="991.9" y="316.0" width="1.3" height="1.0" fill="#000"/><rect x="995.6" y="310.0" width="3.6" height="8.0" fill="#00ffff"/><rect x="996.8" y="316.1" width="1.3" height="1.6" fill="#000"/><rect x="997.2" y="312.7" width="1.1" height="1.4" fill="#000"/><rect x="996.6" y="315.9" width="1.0" height="1.4" fill="#000"/><rect x="996.0" y="312.6" width="1.2" height="1.4" fill="#000"/><rect x="997.0" y="315.5" width="1.0" height="1.4" fill="#000"/><rect x="996.6" y="314.1" width="1.3" height="1.3" fill="#000"/><rect x="996.8" y="315.3" width="1.4" height="1.2" fill="#000"/><rect x="1000.0" y="310.0" width="3.6" height="8.0" fill="#00ffff"/><rect x="1000.4" y="312.2" width="1.0" height="1.3" fill="#000"/><rect x="1000.9" y="312.3" width="0.9" height="1.5" fill="#000"/><rect x="1002.0" y="314.1" width="1.3" height="1.4" fill="#000"/><rect x="1000.7" y="315.5" width="1.1" height="1.6" fill="#000"/><rect x="1001.4" y="311.0" width="1.0" height="1.0" fill="#000"/><rect x="1001.7" y="314.4" width="1.1" height="1.5" fill="#000"/><rect x="1004.4" y="310.0" width="3.6" height="8.0" fill="#00ffff"/><rect x="1005.9" y="310.4" width="1.2" height="1.2" fill="#000"/><rect x="1005.9" y="314.1" width="1.0" height="1.6" fill="#000"/><rect x="1005.9" y="311.9" width="0.9" height="1.4" fill="#000"/><rect x="1006.6" y="313.8" width="1.2" height="1.4" fill="#000"/><rect x="1005.0" y="315.1" width="1.0" height="1.1" fill="#000"/><rect x="1005.0" y="313.6" width="0.9" height="1.0" fill="#000"/></g>
<line x1="976" y1="320.5" x2="1024" y2="320.5" stroke="#ffffff" stroke-width="1" />
<text x="987.5" y="331.5" fill="#00ffff" font-size="11" font-family="Liberation Sans" font-weight="normal" text-anchor="start" textLength="19" lengthAdjust="spacingAndGlyphs">1 : 5</text>
<line x1="184" y1="76.5" x2="778" y2="76.5" stroke="#ffffff" stroke-width="1" />
<rect x="189" y="75" width="4" height="3" fill="#ffffff" stroke="none"/>
<rect x="226" y="75" width="4" height="3" fill="#ffffff" stroke="none"/>
<rect x="723" y="75" width="4" height="3" fill="#ffffff" stroke="none"/>
<rect x="734" y="75" width="4" height="3" fill="#ffffff" stroke="none"/>
<rect x="744" y="75" width="4" height="3" fill="#ffffff" stroke="none"/>
<rect x="768" y="75" width="4" height="3" fill="#ffffff" stroke="none"/>
<line x1="192" y1="89.5" x2="643" y2="89.5" stroke="#ffffff" stroke-width="1" />
<rect x="197.5" y="88" width="4" height="3" fill="#ffffff" stroke="none"/>
<rect x="226" y="88" width="4" height="3" fill="#ffffff" stroke="none"/>
<rect x="350.5" y="88" width="4" height="3" fill="#ffffff" stroke="none"/>
<rect x="360" y="88" width="4" height="3" fill="#ffffff" stroke="none"/>
<rect x="493" y="88" width="4" height="3" fill="#ffffff" stroke="none"/>
<rect x="502" y="88" width="4" height="3" fill="#ffffff" stroke="none"/>
<rect x="635.5" y="88" width="4" height="3" fill="#ffffff" stroke="none"/>
<line x1="225" y1="102.5" x2="743" y2="102.5" stroke="#ffffff" stroke-width="1" />
<rect x="226" y="101" width="4" height="3" fill="#ffffff" stroke="none"/>
<rect x="285.5" y="101" width="4" height="3" fill="#ffffff" stroke="none"/>
<rect x="294" y="101" width="4" height="3" fill="#ffffff" stroke="none"/>
<rect x="333" y="101" width="4" height="3" fill="#ffffff" stroke="none"/>
<rect x="342" y="101" width="4" height="3" fill="#ffffff" stroke="none"/>
<rect x="402.5" y="101" width="4" height="3" fill="#ffffff" stroke="none"/>
<rect x="478" y="101" width="4" height="3" fill="#ffffff" stroke="none"/>
<rect x="487" y="101" width="4" height="3" fill="#ffffff" stroke="none"/>
<rect x="514" y="101" width="4" height="3" fill="#ffffff" stroke="none"/>
<rect x="523" y="101" width="4" height="3" fill="#ffffff" stroke="none"/>
<rect x="707" y="101" width="4" height="3" fill="#ffffff" stroke="none"/>
<rect x="733" y="101" width="4" height="3" fill="#ffffff" stroke="none"/>
<text x="206" y="75.0" fill="#00ffff" stroke="#00ffff" stroke-width="0.35" font-size="8.5" font-family="Liberation Sans" font-weight="bold" text-anchor="start" textLength="8" lengthAdjust="spacingAndGlyphs">366</text>
<text x="471" y="75.0" fill="#00ffff" stroke="#00ffff" stroke-width="0.35" font-size="8.5" font-family="Liberation Sans" font-weight="bold" text-anchor="start" textLength="11" lengthAdjust="spacingAndGlyphs">18000</text>
<text x="732" y="75.0" fill="#00ffff" stroke="#00ffff" stroke-width="0.35" font-size="8.5" font-family="Liberation Sans" font-weight="bold" text-anchor="start" textLength="7.5" lengthAdjust="spacingAndGlyphs">240</text>
<text x="750" y="75.0" fill="#00ffff" stroke="#00ffff" stroke-width="0.35" font-size="8.5" font-family="Liberation Sans" font-weight="bold" text-anchor="start" textLength="7.5" lengthAdjust="spacingAndGlyphs">320</text>
<text x="210" y="88.0" fill="#00ffff" stroke="#00ffff" stroke-width="0.35" font-size="8.5" font-family="Liberation Sans" font-weight="bold" text-anchor="start" textLength="7.5" lengthAdjust="spacingAndGlyphs">240</text>
<text x="282" y="88.0" fill="#00ffff" stroke="#00ffff" stroke-width="0.35" font-size="8.5" font-family="Liberation Sans" font-weight="bold" text-anchor="start" textLength="8.5" lengthAdjust="spacingAndGlyphs">4705</text>
<text x="424" y="88.0" fill="#00ffff" stroke="#00ffff" stroke-width="0.35" font-size="8.5" font-family="Liberation Sans" font-weight="bold" text-anchor="start" textLength="9" lengthAdjust="spacingAndGlyphs">5601</text>
<text x="565" y="88.0" fill="#00ffff" stroke="#00ffff" stroke-width="0.35" font-size="8.5" font-family="Liberation Sans" font-weight="bold" text-anchor="start" textLength="10" lengthAdjust="spacingAndGlyphs">5624</text>
<text x="254" y="101.0" fill="#00ffff" stroke="#00ffff" stroke-width="0.35" font-size="8.5" font-family="Liberation Sans" font-weight="bold" text-anchor="start" textLength="8.5" lengthAdjust="spacingAndGlyphs">1210</text>
<text x="311" y="101.0" fill="#00ffff" stroke="#00ffff" stroke-width="0.35" font-size="8.5" font-family="Liberation Sans" font-weight="bold" text-anchor="start" textLength="8.5" lengthAdjust="spacingAndGlyphs">2100</text>
<text x="404" y="101.0" fill="#00ffff" stroke="#00ffff" stroke-width="0.35" font-size="8.5" font-family="Liberation Sans" font-weight="bold" text-anchor="start" textLength="15" lengthAdjust="spacingAndGlyphs">3X2100</text>
<text x="505" y="101.0" fill="#00ffff" stroke="#00ffff" stroke-width="0.35" font-size="8.5" font-family="Liberation Sans" font-weight="bold" text-anchor="start" textLength="9" lengthAdjust="spacingAndGlyphs">1500</text>
<text x="611" y="101.0" fill="#00ffff" stroke="#00ffff" stroke-width="0.35" font-size="8.5" font-family="Liberation Sans" font-weight="bold" text-anchor="start" textLength="15" lengthAdjust="spacingAndGlyphs">6X2100</text>
<text x="718" y="101.0" fill="#00ffff" stroke="#00ffff" stroke-width="0.35" font-size="8.5" font-family="Liberation Sans" font-weight="bold" text-anchor="start" textLength="7" lengthAdjust="spacingAndGlyphs">300</text>
<line x1="196.5" y1="71" x2="196.5" y2="143" stroke="#ffffff" stroke-width="1" />
<line x1="204.5" y1="84" x2="204.5" y2="116" stroke="#ffffff" stroke-width="1" />
<line x1="223.5" y1="71" x2="223.5" y2="111" stroke="#ffffff" stroke-width="1" />
<line x1="223.5" y1="148" x2="223.5" y2="172" stroke="#ffffff" stroke-width="1" />
<line x1="228.5" y1="148" x2="228.5" y2="172" stroke="#ffffff" stroke-width="1" />
<line x1="291.5" y1="97" x2="291.5" y2="116" stroke="#ffffff" stroke-width="1" />
<line x1="339.5" y1="97" x2="339.5" y2="116" stroke="#ffffff" stroke-width="1" />
<line x1="357.5" y1="84" x2="357.5" y2="109" stroke="#ffffff" stroke-width="1" />
<line x1="485.5" y1="97" x2="485.5" y2="116" stroke="#ffffff" stroke-width="1" />
<line x1="500.5" y1="84" x2="500.5" y2="109" stroke="#ffffff" stroke-width="1" />
<line x1="520.5" y1="97" x2="520.5" y2="116" stroke="#ffffff" stroke-width="1" />
<line x1="642.5" y1="84" x2="642.5" y2="109" stroke="#ffffff" stroke-width="1" />
<line x1="713.5" y1="97" x2="713.5" y2="117" stroke="#ffffff" stroke-width="1" />
<line x1="730.5" y1="71" x2="730.5" y2="147" stroke="#ffffff" stroke-width="1" />
<line x1="741.5" y1="71" x2="741.5" y2="147" stroke="#ffffff" stroke-width="1" />
<line x1="765.5" y1="71" x2="765.5" y2="115" stroke="#ffffff" stroke-width="1" />
<line x1="357.5" y1="109" x2="357.5" y2="123" stroke="#ff0000" stroke-width="1" />
<line x1="500.5" y1="109" x2="500.5" y2="123" stroke="#ff0000" stroke-width="1" />
<line x1="642.5" y1="109" x2="642.5" y2="123" stroke="#ff0000" stroke-width="1" />
<line x1="204" y1="117.5" x2="764" y2="117.5" stroke="#00ff00" stroke-width="1" />
<line x1="198" y1="144.5" x2="764" y2="144.5" stroke="#00ff00" stroke-width="1" />
<line x1="207.5" y1="117" x2="207.5" y2="145" stroke="#00ff00" stroke-width="1" />
<line x1="252.5" y1="117" x2="252.5" y2="145" stroke="#00ff00" stroke-width="1" />
<line x1="291.5" y1="117" x2="291.5" y2="145" stroke="#00ff00" stroke-width="1" />
<line x1="339.5" y1="117" x2="339.5" y2="145" stroke="#00ff00" stroke-width="1" />
<line x1="387.5" y1="117" x2="387.5" y2="145" stroke="#00ff00" stroke-width="1" />
<line x1="436.5" y1="117" x2="436.5" y2="145" stroke="#00ff00" stroke-width="1" />
<line x1="484.5" y1="117" x2="484.5" y2="145" stroke="#00ff00" stroke-width="1" />
<line x1="520.5" y1="117" x2="520.5" y2="145" stroke="#00ff00" stroke-width="1" />
<line x1="569.5" y1="117" x2="569.5" y2="145" stroke="#00ff00" stroke-width="1" />
<line x1="617.5" y1="117" x2="617.5" y2="145" stroke="#00ff00" stroke-width="1" />
<line x1="665.5" y1="117" x2="665.5" y2="145" stroke="#00ff00" stroke-width="1" />
<line x1="713.5" y1="117" x2="713.5" y2="145" stroke="#00ff00" stroke-width="1" />
<line x1="763.5" y1="117" x2="763.5" y2="145" stroke="#00ff00" stroke-width="1" />
<line x1="288" y1="115.5" x2="295" y2="115.5" stroke="#00ff00" stroke-width="1" />
<line x1="336" y1="115.5" x2="343" y2="115.5" stroke="#00ff00" stroke-width="1" />
<line x1="384" y1="115.5" x2="391" y2="115.5" stroke="#00ff00" stroke-width="1" />
<line x1="433" y1="115.5" x2="440" y2="115.5" stroke="#00ff00" stroke-width="1" />
<line x1="481" y1="115.5" x2="488" y2="115.5" stroke="#00ff00" stroke-width="1" />
<line x1="517" y1="115.5" x2="524" y2="115.5" stroke="#00ff00" stroke-width="1" />
<line x1="566" y1="115.5" x2="573" y2="115.5" stroke="#00ff00" stroke-width="1" />
<line x1="614" y1="115.5" x2="621" y2="115.5" stroke="#00ff00" stroke-width="1" />
<line x1="662" y1="115.5" x2="669" y2="115.5" stroke="#00ff00" stroke-width="1" />
<line x1="710" y1="115.5" x2="717" y2="115.5" stroke="#00ff00" stroke-width="1" />
<rect x="212" y="113" width="24" height="2" fill="#00ff00" stroke="none"/>
<rect x="327" y="113" width="60" height="2" fill="#00ff00" stroke="none"/>
<rect x="469" y="113" width="61" height="2" fill="#00ff00" stroke="none"/>
<rect x="612" y="113" width="59" height="2" fill="#00ff00" stroke="none"/>
<rect x="724" y="113" width="22" height="2" fill="#00ff00" stroke="none"/>
<rect x="392.5" y="144.5" width="3" height="5.5" stroke="#00ff00" stroke-width="1" fill="none" />
<rect x="462.5" y="144.5" width="3" height="5.5" stroke="#00ff00" stroke-width="1" fill="none" />
<rect x="534.5" y="144.5" width="3" height="5.5" stroke="#00ff00" stroke-width="1" fill="none" />
<rect x="605.5" y="144.5" width="3" height="5.5" stroke="#00ff00" stroke-width="1" fill="none" />
<rect x="722.5" y="144.5" width="3" height="5.5" stroke="#00ff00" stroke-width="1" fill="none" />
<rect x="753.5" y="144.5" width="3" height="5.5" stroke="#00ff00" stroke-width="1" fill="none" />
<rect x="188" y="150" width="579" height="6" fill="url(#gnd)" stroke="none"/>
<line x1="229" y1="121.5" x2="731" y2="121.5" stroke="#ff00ff" stroke-width="1" stroke-dasharray="12,1.5,3,1.5"/>
<line x1="229" y1="123.5" x2="731" y2="123.5" stroke="#ff00ff" stroke-width="1" stroke-dasharray="12,1.5,3,1.5"/>
<line x1="229" y1="138.5" x2="731" y2="138.5" stroke="#ff00ff" stroke-width="1" stroke-dasharray="12,1.5,3,1.5"/>
<line x1="229" y1="140.5" x2="731" y2="140.5" stroke="#ff00ff" stroke-width="1" stroke-dasharray="12,1.5,3,1.5"/>
<line x1="204" y1="131.5" x2="767" y2="131.5" stroke="#ff0000" stroke-width="1" stroke-dasharray="10,2,2,2"/>
<path d="M229.5,121.5 H224.5 A9.5,9.5 0 0 0 224.5,140.5 H229.5 M229.5,123.5 H224.5 A7.5,7.5 0 0 0 224.5,138.5 H229.5" stroke="#ff00ff" stroke-width="1" fill="none"/>
<circle cx="224.5" cy="131" r="5.8" stroke="#00ff00" stroke-width="1.1" fill="none" />
<path d="M228.5,124 A7.8,7.8 0 0 1 228.5,138" stroke="#00ff00" stroke-width="2.6" fill="none"/>
<line x1="223.5" y1="115" x2="223.5" y2="147" stroke="#ff0000" stroke-width="1" />
<circle cx="271.7" cy="127.5" r="4.5" stroke="#ff00ff" stroke-width="1" fill="none" stroke-dasharray="3,1"/>
<line x1="264" y1="127.5" x2="281" y2="127.5" stroke="#ff0000" stroke-width="1" />
<line x1="271.5" y1="122" x2="271.5" y2="135" stroke="#ff0000" stroke-width="1" />
<polyline points="240,122 246,121 250,119.5 252,119" stroke="#00ff00" stroke-width="1" fill="none" />
<polyline points="246,141 250,142 252,143.5" stroke="#00ff00" stroke-width="1" fill="none" />
<rect x="269.5" y="144.5" width="3" height="5" stroke="#00ff00" stroke-width="1" fill="none" />
<path d="M728,121.5 H732 A9.5,9.5 0 0 1 732,140.5 H728 M728,123.5 H732 A7.5,7.5 0 0 1 732,138.5 H728" stroke="#ff00ff" stroke-width="1" fill="none"/>
<circle cx="732" cy="131" r="5.5" stroke="#ff00ff" stroke-width="1" fill="none" />
<circle cx="731.5" cy="131" r="8.2" stroke="#ff00ff" stroke-width="1" fill="none" />
<line x1="714" y1="127.5" x2="763" y2="127.5" stroke="#00ff00" stroke-width="1" />
<line x1="714" y1="135.5" x2="763" y2="135.5" stroke="#00ff00" stroke-width="1" />
<rect x="736" y="130" width="27" height="3" fill="#00ff00" stroke="none"/>
<polygon points="762,129 766,131.5 762,134" stroke="#00ff00" stroke-width="1" fill="#00ff00" />
<line x1="727" y1="127" x2="737" y2="135" stroke="#00ff00" stroke-width="1" />
<line x1="727" y1="135" x2="737" y2="127" stroke="#00ff00" stroke-width="1" />
<line x1="730.5" y1="115" x2="730.5" y2="146" stroke="#ff0000" stroke-width="1" stroke-dasharray="5,1.5"/>
<line x1="735.5" y1="112" x2="735.5" y2="145" stroke="#ff0000" stroke-width="1" stroke-dasharray="5,1.5"/>
<line x1="741.5" y1="115" x2="741.5" y2="146" stroke="#ff0000" stroke-width="1" stroke-dasharray="5,1.5"/>
<line x1="197.5" y1="142" x2="197.5" y2="159" stroke="#ff0000" stroke-width="1" />
<line x1="223.5" y1="142" x2="223.5" y2="159" stroke="#ff0000" stroke-width="1" />
<line x1="229.5" y1="142" x2="229.5" y2="159" stroke="#ff0000" stroke-width="1" />
<line x1="271.5" y1="142" x2="271.5" y2="159" stroke="#ff0000" stroke-width="1" />
<line x1="321.5" y1="142" x2="321.5" y2="159" stroke="#ff0000" stroke-width="1" />
<line x1="393.5" y1="142" x2="393.5" y2="159" stroke="#ff0000" stroke-width="1" />
<line x1="464.5" y1="142" x2="464.5" y2="159" stroke="#ff0000" stroke-width="1" />
<line x1="535.5" y1="142" x2="535.5" y2="159" stroke="#ff0000" stroke-width="1" />
<line x1="606.5" y1="142" x2="606.5" y2="159" stroke="#ff0000" stroke-width="1" />
<line x1="679.5" y1="142" x2="679.5" y2="159" stroke="#ff0000" stroke-width="1" />
<line x1="723.5" y1="142" x2="723.5" y2="159" stroke="#ff0000" stroke-width="1" />
<line x1="755.5" y1="142" x2="755.5" y2="159" stroke="#ff0000" stroke-width="1" />
<line x1="179.5" y1="114" x2="179.5" y2="146" stroke="#ffffff" stroke-width="1" />
<rect x="178" y="115.8" width="3" height="4" fill="#ffffff" stroke="none"/>
<rect x="178" y="137.4" width="3" height="4" fill="#ffffff" stroke="none"/>
<line x1="179.5" y1="150" x2="179.5" y2="173" stroke="#ffffff" stroke-width="1" />
<rect x="178" y="152.5" width="3" height="4" fill="#ffffff" stroke="none"/>
<rect x="178" y="166.5" width="3" height="4" fill="#ffffff" stroke="none"/>
<line x1="174" y1="113.5" x2="212" y2="113.5" stroke="#ffffff" stroke-width="1" />
<line x1="174" y1="144.5" x2="198" y2="144.5" stroke="#ffffff" stroke-width="1" />
<line x1="174" y1="150.5" x2="199" y2="150.5" stroke="#ffffff" stroke-width="1" />
<line x1="158" y1="150.5" x2="174" y2="150.5" stroke="#00ff00" stroke-width="1" />
<line x1="199.5" y1="145" x2="199.5" y2="151" stroke="#00ff00" stroke-width="1" />
<text x="176.5" y="132" fill="#00ffff" stroke="#00ffff" stroke-width="0.35" font-size="7" font-family="Liberation Sans" font-weight="bold" text-anchor="start" textLength="8" lengthAdjust="spacingAndGlyphs" transform="rotate(-90 176.5 132)">480</text>
<text x="176.5" y="169" fill="#00ffff" stroke="#00ffff" stroke-width="0.35" font-size="7" font-family="Liberation Sans" font-weight="bold" text-anchor="start" textLength="7" lengthAdjust="spacingAndGlyphs" transform="rotate(-90 176.5 169)">110</text>
<text x="147" y="142.5" fill="#00ffff" stroke="#00ffff" stroke-width="0.35" font-size="7.5" font-family="Liberation Sans" font-weight="bold" text-anchor="start" textLength="15.5" lengthAdjust="spacingAndGlyphs">0.000</text>
<line x1="146" y1="144.5" x2="166" y2="144.5" stroke="#ffffff" stroke-width="1" />
<polygon points="158.5,145 164.5,145 161.5,150.5" stroke="#ffffff" stroke-width="1" fill="none" />
<line x1="203" y1="166.5" x2="241" y2="166.5" stroke="#ffffff" stroke-width="1" />
<rect x="217" y="165" width="4" height="3" fill="#ffffff" stroke="none"/>
<rect x="231" y="165" width="4" height="3" fill="#ffffff" stroke="none"/>
<text x="206" y="165.0" fill="#00ffff" stroke="#00ffff" stroke-width="0.35" font-size="8.5" font-family="Liberation Sans" font-weight="bold" text-anchor="start" textLength="5" lengthAdjust="spacingAndGlyphs">90</text>
<line x1="781.5" y1="114" x2="781.5" y2="145" stroke="#ffffff" stroke-width="1" />
<rect x="780" y="116" width="3" height="4" fill="#ffffff" stroke="none"/>
<rect x="780" y="137" width="3" height="4" fill="#ffffff" stroke="none"/>
<line x1="748" y1="113.5" x2="787" y2="113.5" stroke="#ffffff" stroke-width="1" />
<line x1="764" y1="144.5" x2="787" y2="144.5" stroke="#ffffff" stroke-width="1" />
<text x="779" y="132" fill="#00ffff" stroke="#00ffff" stroke-width="0.35" font-size="7" font-family="Liberation Sans" font-weight="bold" text-anchor="start" textLength="8" lengthAdjust="spacingAndGlyphs" transform="rotate(-90 779 132)">480</text>
<line x1="404.5" y1="102" x2="404.5" y2="143" stroke="#ffffff" stroke-width="1" />
<rect x="403" y="107.5" width="3" height="4" fill="#ffffff" stroke="none"/>
<rect x="403" y="134" width="3" height="4" fill="#ffffff" stroke="none"/>
<line x1="389" y1="114.5" x2="410" y2="114.5" stroke="#ffffff" stroke-width="1" />
<text x="402" y="126" fill="#00ffff" stroke="#00ffff" stroke-width="0.35" font-size="7" font-family="Liberation Sans" font-weight="bold" text-anchor="start" textLength="7" lengthAdjust="spacingAndGlyphs" transform="rotate(-90 402 126)">315</text>
<circle cx="394" cy="144.5" r="8.8" stroke="#ffffff" stroke-width="1" fill="none" />
<circle cx="679" cy="90" r="2.8" stroke="#00ff00" stroke-width="1" fill="none" />
<line x1="678.5" y1="79" x2="678.5" y2="91" stroke="#00ff00" stroke-width="1" />
<polygon points="678.5,79.5 680.5,80.5 684.5,82.5 678.5,82.5" stroke="#00ff00" stroke-width="1" fill="#00ff00" />
<polyline points="678.5,91 668,117.5" stroke="#ffffff" stroke-width="1" fill="none" />
<line x1="679" y1="90.5" x2="701" y2="90.5" stroke="#ffffff" stroke-width="1" />
<line x1="690.5" y1="83" x2="690.5" y2="98" stroke="#00ff00" stroke-width="1" />
<polyline points="690.5,83 695,90 690.5,98" stroke="#00ff00" stroke-width="1" fill="none" />
<polyline points="704.5,85 700,90 704.5,96.5" stroke="#ffffff" stroke-width="1" fill="none" />
<text x="685.5" y="90" fill="#00ffff" stroke="#00ffff" stroke-width="0.35" font-size="7" font-family="Liberation Sans" font-weight="bold" text-anchor="start">2</text>
<text x="705" y="94" fill="#00ffff" stroke="#00ffff" stroke-width="0.35" font-size="7" font-family="Liberation Sans" font-weight="bold" text-anchor="start">3</text>
<text x="711" y="94" fill="#00ffff" stroke="#00ffff" stroke-width="0.35" font-size="7" font-family="Liberation Sans" font-weight="bold" text-anchor="start">k</text>
<g><rect x="262.0" y="47.5" width="4.9" height="7.5" fill="#00ffff"/><rect x="262.5" y="47.9" width="1.6" height="1.5" fill="#000"/><rect x="264.2" y="49.8" width="1.7" height="1.1" fill="#000"/><rect x="262.7" y="53.0" width="1.2" height="1.1" fill="#000"/><rect x="263.5" y="50.0" width="1.5" height="1.2" fill="#000"/><rect x="264.1" y="52.9" width="1.1" height="1.6" fill="#000"/><rect x="263.0" y="48.0" width="1.4" height="1.4" fill="#000"/><rect x="263.1" y="52.6" width="1.8" height="1.5" fill="#000"/><rect x="267.7" y="47.5" width="4.9" height="7.5" fill="#00ffff"/><rect x="270.8" y="50.5" width="1.3" height="1.4" fill="#000"/><rect x="269.0" y="52.0" width="1.8" height="1.1" fill="#000"/><rect x="270.6" y="50.6" width="1.2" height="1.1" fill="#000"/><rect x="268.5" y="49.9" width="1.7" height="1.1" fill="#000"/><rect x="268.9" y="50.8" width="1.2" height="1.6" fill="#000"/><rect x="269.2" y="50.1" width="1.2" height="1.3" fill="#000"/><rect x="270.6" y="49.9" width="1.1" height="1.0" fill="#000"/><rect x="273.4" y="47.5" width="4.9" height="7.5" fill="#00ffff"/><rect x="274.7" y="50.3" width="1.4" height="1.3" fill="#000"/><rect x="276.1" y="49.2" width="1.3" height="1.0" fill="#000"/><rect x="275.4" y="52.4" width="1.2" height="1.0" fill="#000"/><rect x="275.9" y="49.2" width="1.5" height="1.3" fill="#000"/><rect x="274.9" y="51.5" width="1.4" height="1.1" fill="#000"/><rect x="275.0" y="49.0" width="1.5" height="1.1" fill="#000"/><rect x="279.1" y="47.5" width="4.9" height="7.5" fill="#00ffff"/><rect x="282.1" y="51.0" width="1.6" height="1.6" fill="#000"/><rect x="280.9" y="49.9" width="1.4" height="1.6" fill="#000"/><rect x="281.5" y="51.8" width="1.5" height="1.0" fill="#000"/><rect x="281.7" y="51.9" width="1.1" height="1.5" fill="#000"/><rect x="279.9" y="47.9" width="1.1" height="1.4" fill="#000"/><rect x="281.5" y="49.1" width="1.6" height="1.4" fill="#000"/><rect x="279.7" y="52.7" width="1.2" height="1.6" fill="#000"/></g>
<polyline points="296,57.5 255,57.5 231,112.5" stroke="#ffffff" stroke-width="1" fill="none" />
<rect x="230" y="111" width="2.5" height="2.5" fill="#ffffff" stroke="none"/>
<g><rect x="254.0" y="161.5" width="3.8" height="7.5" fill="#00ffff"/><rect x="255.7" y="162.3" width="1.3" height="1.0" fill="#000"/><rect x="255.2" y="163.7" width="1.0" height="1.5" fill="#000"/><rect x="255.5" y="165.3" width="1.3" height="1.2" fill="#000"/><rect x="254.6" y="163.7" width="1.3" height="1.6" fill="#000"/><rect x="256.0" y="161.9" width="1.3" height="1.4" fill="#000"/><rect x="256.3" y="164.1" width="1.3" height="1.2" fill="#000"/><rect x="254.8" y="163.4" width="1.4" height="1.0" fill="#000"/><rect x="255.6" y="164.2" width="1.2" height="1.1" fill="#000"/><rect x="258.6" y="161.5" width="3.8" height="7.5" fill="#00ffff"/><rect x="259.5" y="164.0" width="0.9" height="1.0" fill="#000"/><rect x="260.3" y="162.8" width="0.9" height="1.1" fill="#000"/><rect x="260.2" y="163.2" width="1.3" height="1.3" fill="#000"/><rect x="259.6" y="161.8" width="1.1" height="1.4" fill="#000"/><rect x="259.4" y="162.0" width="1.3" height="1.5" fill="#000"/><rect x="258.9" y="163.2" width="1.3" height="1.4" fill="#000"/><rect x="259.3" y="166.7" width="0.9" height="1.5" fill="#000"/><rect x="260.2" y="164.1" width="1.3" height="1.0" fill="#000"/><rect x="263.1" y="161.5" width="3.8" height="7.5" fill="#00ffff"/><rect x="264.5" y="163.8" width="1.2" height="1.1" fill="#000"/><rect x="264.0" y="164.7" width="1.4" height="1.2" fill="#000"/><rect x="264.6" y="164.5" width="1.2" height="1.5" fill="#000"/><rect x="264.7" y="166.7" width="1.2" height="1.1" fill="#000"/><rect x="263.7" y="167.2" width="1.3" height="1.3" fill="#000"/><rect x="263.7" y="162.7" width="1.3" height="1.3" fill="#000"/><rect x="263.9" y="167.4" width="1.3" height="1.1" fill="#000"/><rect x="263.6" y="165.4" width="0.9" height="1.2" fill="#000"/><rect x="267.7" y="161.5" width="3.8" height="7.5" fill="#00ffff"/><rect x="269.5" y="163.1" width="0.9" height="1.4" fill="#000"/><rect x="269.0" y="167.0" width="1.0" height="1.3" fill="#000"/><rect x="269.9" y="162.6" width="1.0" height="1.1" fill="#000"/><rect x="269.6" y="165.0" width="1.2" height="1.2" fill="#000"/><rect x="269.2" y="165.3" width="1.3" height="1.0" fill="#000"/><rect x="269.7" y="162.4" width="1.1" height="1.5" fill="#000"/><rect x="272.2" y="161.5" width="3.8" height="7.5" fill="#00ffff"/><rect x="272.6" y="166.8" width="0.8" height="1.3" fill="#000"/><rect x="273.2" y="167.5" width="1.0" height="1.0" fill="#000"/><rect x="273.8" y="163.4" width="0.9" height="1.2" fill="#000"/><rect x="273.5" y="167.6" width="1.2" height="1.0" fill="#000"/><rect x="273.2" y="165.8" width="1.1" height="1.5" fill="#000"/><rect x="274.6" y="164.5" width="1.0" height="1.4" fill="#000"/><rect x="273.2" y="162.3" width="1.3" height="1.1" fill="#000"/></g>
<polyline points="286,170.5 247.5,170.5 230,149" stroke="#ffffff" stroke-width="1" fill="none" />
<g><rect x="677.0" y="53.0" width="3.6" height="6.5" fill="#00ffff"/><rect x="678.5" y="54.4" width="1.2" height="1.4" fill="#000"/><rect x="677.3" y="57.1" width="0.9" height="1.0" fill="#000"/><rect x="677.6" y="56.4" width="1.3" height="1.0" fill="#000"/><rect x="677.6" y="56.9" width="1.3" height="1.4" fill="#000"/><rect x="677.9" y="54.1" width="1.3" height="1.3" fill="#000"/><rect x="677.9" y="56.0" width="1.3" height="1.0" fill="#000"/><rect x="677.8" y="53.5" width="1.0" height="1.3" fill="#000"/><rect x="681.5" y="53.0" width="3.6" height="6.5" fill="#00ffff"/><rect x="683.6" y="55.1" width="1.3" height="1.4" fill="#000"/><rect x="682.7" y="56.9" width="0.8" height="1.0" fill="#000"/><rect x="682.8" y="53.9" width="1.4" height="1.2" fill="#000"/><rect x="683.1" y="55.3" width="0.9" height="1.0" fill="#000"/><rect x="682.6" y="54.3" width="1.4" height="1.3" fill="#000"/><rect x="683.0" y="57.4" width="1.0" height="1.0" fill="#000"/><rect x="681.9" y="53.5" width="1.1" height="1.0" fill="#000"/><rect x="681.8" y="53.3" width="1.2" height="1.4" fill="#000"/><rect x="685.9" y="53.0" width="3.6" height="6.5" fill="#00ffff"/><rect x="686.7" y="55.5" width="1.3" height="1.0" fill="#000"/><rect x="686.5" y="53.7" width="1.1" height="1.0" fill="#000"/><rect x="688.2" y="57.7" width="1.0" height="1.1" fill="#000"/><rect x="687.9" y="56.1" width="1.3" height="1.4" fill="#000"/><rect x="687.4" y="56.3" width="1.3" height="1.0" fill="#000"/><rect x="688.2" y="55.6" width="1.0" height="1.2" fill="#000"/><rect x="690.4" y="53.0" width="3.6" height="6.5" fill="#00ffff"/><rect x="691.8" y="56.2" width="0.9" height="1.3" fill="#000"/><rect x="692.0" y="56.7" width="1.3" height="1.0" fill="#000"/><rect x="691.9" y="57.8" width="0.9" height="1.2" fill="#000"/><rect x="691.5" y="54.6" width="1.0" height="1.0" fill="#000"/><rect x="691.1" y="56.7" width="0.9" height="1.4" fill="#000"/><rect x="692.0" y="54.1" width="0.9" height="1.3" fill="#000"/><rect x="691.0" y="55.4" width="1.2" height="1.2" fill="#000"/><rect x="692.1" y="57.6" width="1.1" height="1.2" fill="#000"/></g>
<polyline points="702.5,61.5 671,61.5 645,114" stroke="#ffffff" stroke-width="1" fill="none" />
<g><rect x="794.0" y="42.5" width="4.4" height="7.5" fill="#00ffff"/><rect x="794.5" y="45.3" width="1.0" height="1.2" fill="#000"/><rect x="795.9" y="47.0" width="1.6" height="1.3" fill="#000"/><rect x="796.3" y="43.3" width="1.0" height="1.6" fill="#000"/><rect x="794.7" y="48.3" width="1.6" height="1.2" fill="#000"/><rect x="794.6" y="47.0" width="1.4" height="1.5" fill="#000"/><rect x="795.3" y="42.9" width="1.0" height="1.1" fill="#000"/><rect x="795.0" y="46.9" width="1.4" height="1.1" fill="#000"/><rect x="795.9" y="47.5" width="1.3" height="1.6" fill="#000"/><rect x="799.2" y="42.5" width="4.4" height="7.5" fill="#00ffff"/><rect x="800.5" y="44.8" width="1.0" height="1.4" fill="#000"/><rect x="801.2" y="42.9" width="1.6" height="1.5" fill="#000"/><rect x="800.9" y="45.9" width="1.1" height="1.1" fill="#000"/><rect x="801.6" y="44.8" width="1.2" height="1.3" fill="#000"/><rect x="801.1" y="43.0" width="1.2" height="1.1" fill="#000"/><rect x="800.3" y="46.8" width="1.6" height="1.1" fill="#000"/><rect x="800.7" y="47.0" width="1.0" height="1.6" fill="#000"/><rect x="800.1" y="43.7" width="1.3" height="1.0" fill="#000"/><rect x="804.4" y="42.5" width="4.4" height="7.5" fill="#00ffff"/><rect x="806.6" y="46.0" width="1.6" height="1.4" fill="#000"/><rect x="806.7" y="44.2" width="1.1" height="1.6" fill="#000"/><rect x="807.2" y="45.7" width="1.3" height="1.0" fill="#000"/><rect x="806.8" y="43.3" width="1.3" height="1.0" fill="#000"/><rect x="806.1" y="47.4" width="1.4" height="1.4" fill="#000"/><rect x="805.7" y="44.1" width="1.6" height="1.4" fill="#000"/><rect x="805.5" y="45.8" width="1.6" height="1.3" fill="#000"/><rect x="809.6" y="42.5" width="4.4" height="7.5" fill="#00ffff"/><rect x="810.0" y="43.7" width="1.6" height="1.3" fill="#000"/><rect x="811.4" y="45.0" width="1.2" height="1.3" fill="#000"/><rect x="811.4" y="44.8" width="1.2" height="1.0" fill="#000"/><rect x="812.6" y="43.1" width="1.0" height="1.2" fill="#000"/><rect x="810.7" y="44.3" width="1.1" height="1.4" fill="#000"/><rect x="811.3" y="45.9" width="1.3" height="1.1" fill="#000"/><rect x="810.0" y="45.7" width="1.6" height="1.6" fill="#000"/></g>
<polyline points="824.5,52.5 787,52.5 742.5,114" stroke="#ffffff" stroke-width="1" fill="none" />
<g><rect x="556.0" y="163.0" width="5.1" height="8.0" fill="#00ffff"/><rect x="558.0" y="167.0" width="1.8" height="1.6" fill="#000"/><rect x="558.7" y="168.7" width="1.4" height="1.2" fill="#000"/><rect x="557.1" y="167.8" width="1.9" height="1.5" fill="#000"/><rect x="558.1" y="165.4" width="1.7" height="1.4" fill="#000"/><rect x="556.5" y="165.4" width="1.6" height="1.3" fill="#000"/><rect x="557.8" y="165.4" width="1.4" height="1.8" fill="#000"/><rect x="562.0" y="163.0" width="5.1" height="8.0" fill="#00ffff"/><rect x="562.7" y="164.5" width="1.8" height="1.8" fill="#000"/><rect x="563.3" y="165.6" width="1.8" height="1.5" fill="#000"/><rect x="563.9" y="164.1" width="1.8" height="1.7" fill="#000"/><rect x="563.8" y="167.4" width="1.7" height="1.2" fill="#000"/><rect x="562.8" y="169.2" width="1.9" height="1.0" fill="#000"/><rect x="563.3" y="166.2" width="1.6" height="1.2" fill="#000"/><rect x="567.9" y="163.0" width="5.1" height="8.0" fill="#00ffff"/><rect x="568.5" y="166.1" width="1.5" height="1.7" fill="#000"/><rect x="568.9" y="163.5" width="1.9" height="1.2" fill="#000"/><rect x="570.5" y="164.7" width="1.3" height="1.2" fill="#000"/><rect x="570.0" y="168.7" width="1.4" height="1.1" fill="#000"/><rect x="570.3" y="169.3" width="1.7" height="1.1" fill="#000"/><rect x="570.5" y="168.8" width="1.6" height="1.0" fill="#000"/><rect x="568.8" y="166.7" width="1.4" height="1.1" fill="#000"/><rect x="570.6" y="164.6" width="1.8" height="1.5" fill="#000"/></g>
<text x="583" y="171.3" fill="#00ffff" font-size="10.5" font-family="Liberation Sans" font-weight="normal" text-anchor="start" textLength="26" lengthAdjust="spacingAndGlyphs">M22X30</text>
<g><rect x="609.0" y="163.0" width="3.6" height="8.0" fill="#00ffff"/><rect x="610.1" y="167.2" width="1.3" height="1.0" fill="#000"/><rect x="610.9" y="168.3" width="1.3" height="1.1" fill="#000"/><rect x="611.0" y="169.2" width="0.9" height="1.5" fill="#000"/><rect x="611.1" y="163.5" width="1.0" height="1.7" fill="#000"/><rect x="609.9" y="165.8" width="1.0" height="1.5" fill="#000"/><rect x="609.5" y="163.4" width="1.2" height="1.6" fill="#000"/><rect x="611.1" y="165.5" width="0.9" height="1.4" fill="#000"/><rect x="613.5" y="163.0" width="3.6" height="8.0" fill="#00ffff"/><rect x="614.9" y="166.6" width="1.1" height="1.4" fill="#000"/><rect x="614.3" y="167.7" width="1.2" height="1.4" fill="#000"/><rect x="615.4" y="167.8" width="1.0" height="1.5" fill="#000"/><rect x="615.8" y="165.9" width="1.0" height="1.6" fill="#000"/><rect x="615.7" y="164.1" width="1.0" height="1.4" fill="#000"/><rect x="615.2" y="168.0" width="0.8" height="1.3" fill="#000"/><rect x="614.2" y="167.6" width="1.0" height="1.8" fill="#000"/><rect x="617.9" y="163.0" width="3.6" height="8.0" fill="#00ffff"/><rect x="618.4" y="166.5" width="1.4" height="1.5" fill="#000"/><rect x="618.7" y="166.8" width="0.9" height="1.6" fill="#000"/><rect x="619.8" y="168.2" width="1.2" height="1.7" fill="#000"/><rect x="618.8" y="167.6" width="1.3" height="1.4" fill="#000"/><rect x="618.6" y="168.5" width="1.1" height="1.6" fill="#000"/><rect x="618.5" y="168.1" width="1.3" height="1.3" fill="#000"/><rect x="622.4" y="163.0" width="3.6" height="8.0" fill="#00ffff"/><rect x="622.8" y="167.1" width="0.9" height="1.5" fill="#000"/><rect x="622.7" y="166.5" width="1.0" height="1.7" fill="#000"/><rect x="624.6" y="166.9" width="1.0" height="1.7" fill="#000"/><rect x="623.2" y="166.0" width="0.9" height="1.2" fill="#000"/><rect x="624.3" y="167.3" width="0.9" height="1.1" fill="#000"/><rect x="623.1" y="166.5" width="1.0" height="1.8" fill="#000"/></g>
<polyline points="642.5,172.5 549,172.5 537.5,150" stroke="#ffffff" stroke-width="1" fill="none" />
<text x="177" y="202" fill="#00ffff" stroke="#00ffff" stroke-width="0.35" font-size="8" font-family="Liberation Sans" font-weight="bold" text-anchor="start" textLength="3.4" lengthAdjust="spacingAndGlyphs">1</text>
<line x1="171" y1="204.5" x2="185" y2="204.5" stroke="#ffffff" stroke-width="1" />
<text x="227" y="202" fill="#00ffff" stroke="#00ffff" stroke-width="0.35" font-size="8" font-family="Liberation Sans" font-weight="bold" text-anchor="start" textLength="3.4" lengthAdjust="spacingAndGlyphs">2</text>
<polyline points="219.5,204.5 233,204.5 263,132" stroke="#ffffff" stroke-width="1" fill="none" />
<rect x="262" y="131" width="2.5" height="2.5" fill="#ffffff" stroke="none"/>
<text x="274" y="202" fill="#00ffff" stroke="#00ffff" stroke-width="0.35" font-size="8" font-family="Liberation Sans" font-weight="bold" text-anchor="start" textLength="3.4" lengthAdjust="spacingAndGlyphs">3</text>
<polyline points="266,204.5 280,204.5 321,135" stroke="#ffffff" stroke-width="1" fill="none" />
<rect x="320" y="134" width="2.5" height="2.5" fill="#ffffff" stroke="none"/>
<text x="328" y="202" fill="#00ffff" stroke="#00ffff" stroke-width="0.35" font-size="8" font-family="Liberation Sans" font-weight="bold" text-anchor="start" textLength="3.4" lengthAdjust="spacingAndGlyphs">4</text>
<polyline points="321,204.5 334,204.5 370,139.5" stroke="#ffffff" stroke-width="1" fill="none" />
<rect x="369" y="138.5" width="2.5" height="2.5" fill="#ffffff" stroke="none"/>
<text x="485" y="202" fill="#00ffff" stroke="#00ffff" stroke-width="0.35" font-size="8" font-family="Liberation Sans" font-weight="bold" text-anchor="start" textLength="3.4" lengthAdjust="spacingAndGlyphs">8</text>
<line x1="479" y1="204.5" x2="493" y2="204.5" stroke="#ffffff" stroke-width="1" />
<text x="539" y="202" fill="#00ffff" stroke="#00ffff" stroke-width="0.35" font-size="8" font-family="Liberation Sans" font-weight="bold" text-anchor="start" textLength="3.4" lengthAdjust="spacingAndGlyphs">9</text>
<polyline points="532,204.5 545.4,204.5 568.6,289.5" stroke="#ffffff" stroke-width="1" fill="none" />
<rect x="567.6" y="288.5" width="2.5" height="2.5" fill="#ffffff" stroke="none"/>
<text x="593" y="202" fill="#00ffff" stroke="#00ffff" stroke-width="0.35" font-size="8" font-family="Liberation Sans" font-weight="bold" text-anchor="start" textLength="6.8" lengthAdjust="spacingAndGlyphs">10</text>
<polyline points="589.4,204.5 602,204.5 631.6,287.4" stroke="#ffffff" stroke-width="1" fill="none" />
<rect x="630.6" y="286.4" width="2.5" height="2.5" fill="#ffffff" stroke="none"/>
<text x="648" y="202" fill="#00ffff" stroke="#00ffff" stroke-width="0.35" font-size="8" font-family="Liberation Sans" font-weight="bold" text-anchor="start" textLength="6.8" lengthAdjust="spacingAndGlyphs">11</text>
<line x1="643.4" y1="204.5" x2="657" y2="204.5" stroke="#ffffff" stroke-width="1" />
<text x="703" y="202" fill="#00ffff" stroke="#00ffff" stroke-width="0.35" font-size="8" font-family="Liberation Sans" font-weight="bold" text-anchor="start" textLength="6.8" lengthAdjust="spacingAndGlyphs">12</text>
<polyline points="698.4,204.5 711.8,204.5 722.5,147.5" stroke="#ffffff" stroke-width="1" fill="none" />
<rect x="721.5" y="146.5" width="2.5" height="2.5" fill="#ffffff" stroke="none"/>
<text x="758" y="202" fill="#00ffff" stroke="#00ffff" stroke-width="0.35" font-size="8" font-family="Liberation Sans" font-weight="bold" text-anchor="start" textLength="3.4" lengthAdjust="spacingAndGlyphs">8</text>
<polyline points="753.3,204.5 766.7,204.5 757.8,291" stroke="#ffffff" stroke-width="1" fill="none" />
<rect x="756.8" y="290" width="2.5" height="2.5" fill="#ffffff" stroke="none"/>
<polyline points="184,204.5 272.5,257" stroke="#ffffff" stroke-width="1" fill="none" />
<rect x="271.5" y="256" width="2.5" height="2.5" fill="#ffffff" stroke="none"/>
<polyline points="656,204.5 666,125" stroke="#ffffff" stroke-width="1" fill="none" />
<polyline points="656,204.5 685,117.5" stroke="#ffffff" stroke-width="1" fill="none" />
<text x="372.5" y="175" fill="#00ffff" stroke="#00ffff" stroke-width="0.35" font-size="7" font-family="Liberation Sans" font-weight="bold" text-anchor="start" textLength="2.5" lengthAdjust="spacingAndGlyphs">1</text>
<polyline points="371,176.5 377.6,176.5 385.7,153.8 389,147.5" stroke="#ffffff" stroke-width="1" fill="none" />
<text x="378" y="202.5" fill="#00ffff" stroke="#00ffff" stroke-width="0.35" font-size="8" font-family="Liberation Sans" font-weight="bold" text-anchor="start" textLength="3.3" lengthAdjust="spacingAndGlyphs">5</text>
<text x="405" y="202.5" fill="#00ffff" stroke="#00ffff" stroke-width="0.35" font-size="8" font-family="Liberation Sans" font-weight="bold" text-anchor="start" textLength="3.3" lengthAdjust="spacingAndGlyphs">6</text>
<text x="433" y="202.5" fill="#00ffff" stroke="#00ffff" stroke-width="0.35" font-size="8" font-family="Liberation Sans" font-weight="bold" text-anchor="start" textLength="3" lengthAdjust="spacingAndGlyphs">7</text>
<polyline points="371,204.5 386.6,204.5 393.5,211.5 400.4,204.5 412.7,204.5 419.6,211.5 426.5,204.5 438.8,204.5 485,134.5" stroke="#ffffff" stroke-width="1" fill="none" />
<rect x="484" y="133.5" width="2.5" height="2.5" fill="#ffffff" stroke="none"/>
<polyline points="479,204.5 491.7,204.5 510.5,134.5" stroke="#ffffff" stroke-width="1" fill="none" />
<rect x="509.5" y="133.5" width="2.5" height="2.5" fill="#ffffff" stroke="none"/>
<line x1="172" y1="295.5" x2="790" y2="295.5" stroke="#ff0000" stroke-width="1" stroke-dasharray="10,2,2,2"/>
<line x1="231" y1="286.5" x2="766" y2="286.5" stroke="#00ff00" stroke-width="1" />
<line x1="231" y1="304.5" x2="766" y2="304.5" stroke="#00ff00" stroke-width="1" />
<line x1="765.5" y1="286" x2="765.5" y2="305" stroke="#00ff00" stroke-width="1" />
<rect x="196.5" y="281.5" width="3" height="27" stroke="#00ff00" stroke-width="1" fill="none" />
<line x1="197.5" y1="279" x2="197.5" y2="312" stroke="#ff0000" stroke-width="1" />
<rect x="199.5" y="286.5" width="8" height="18" stroke="#00ff00" stroke-width="1" fill="none" />
<rect x="208.5" y="286.5" width="27" height="18" stroke="#00ff00" stroke-width="1" fill="none" />
<line x1="213.5" y1="287" x2="213.5" y2="305" stroke="#00ff00" stroke-width="1" />
<line x1="230.5" y1="287" x2="230.5" y2="305" stroke="#00ff00" stroke-width="1" />
<rect x="217.5" y="277.5" width="12" height="8" stroke="#00ff00" stroke-width="1" fill="none" />
<rect x="217.5" y="305.5" width="12" height="7" stroke="#00ff00" stroke-width="1" fill="none" />
<line x1="218" y1="281.5" x2="230" y2="281.5" stroke="#00ff00" stroke-width="1" />
<line x1="218" y1="309.5" x2="230" y2="309.5" stroke="#00ff00" stroke-width="1" />
<polyline points="235,280 251,286" stroke="#00ff00" stroke-width="1" fill="none" />
<polyline points="235,312.5 251,305" stroke="#00ff00" stroke-width="1" fill="none" />
<line x1="223.5" y1="226" x2="223.5" y2="316" stroke="#ffffff" stroke-width="1" />
<rect x="269.5" y="282.5" width="3" height="26" stroke="#00ff00" stroke-width="1" fill="none" />
<line x1="271.5" y1="279" x2="271.5" y2="312" stroke="#ff0000" stroke-width="1" stroke-dasharray="4,1.5"/>
<rect x="319.5" y="282.5" width="3" height="26" stroke="#00ff00" stroke-width="1" fill="none" />
<line x1="321.5" y1="279" x2="321.5" y2="312" stroke="#ff0000" stroke-width="1" stroke-dasharray="4,1.5"/>
<rect x="391.5" y="282.5" width="3" height="26" stroke="#00ff00" stroke-width="1" fill="none" />
<line x1="393.5" y1="279" x2="393.5" y2="312" stroke="#ff0000" stroke-width="1" stroke-dasharray="4,1.5"/>
<rect x="461.5" y="282.5" width="3" height="26" stroke="#00ff00" stroke-width="1" fill="none" />
<line x1="463.5" y1="279" x2="463.5" y2="312" stroke="#ff0000" stroke-width="1" stroke-dasharray="4,1.5"/>
<rect x="533.5" y="282.5" width="3" height="26" stroke="#00ff00" stroke-width="1" fill="none" />
<line x1="535.5" y1="279" x2="535.5" y2="312" stroke="#ff0000" stroke-width="1" stroke-dasharray="4,1.5"/>
<rect x="603.5" y="282.5" width="3" height="26" stroke="#00ff00" stroke-width="1" fill="none" />
<line x1="605.5" y1="279" x2="605.5" y2="312" stroke="#ff0000" stroke-width="1" stroke-dasharray="4,1.5"/>
<rect x="675.5" y="282.5" width="3" height="26" stroke="#00ff00" stroke-width="1" fill="none" />
<line x1="677.5" y1="279" x2="677.5" y2="312" stroke="#ff0000" stroke-width="1" stroke-dasharray="4,1.5"/>
<line x1="290.5" y1="286" x2="290.5" y2="306" stroke="#00ff00" stroke-width="1" />
<line x1="293.5" y1="286" x2="293.5" y2="306" stroke="#00ff00" stroke-width="1" />
<line x1="433.5" y1="286" x2="433.5" y2="306" stroke="#00ff00" stroke-width="1" />
<line x1="438.5" y1="286" x2="438.5" y2="306" stroke="#00ff00" stroke-width="1" />
<line x1="566.5" y1="286" x2="566.5" y2="306" stroke="#00ff00" stroke-width="1" />
<line x1="570.5" y1="286" x2="570.5" y2="306" stroke="#00ff00" stroke-width="1" />
<line x1="711.5" y1="286" x2="711.5" y2="306" stroke="#00ff00" stroke-width="1" />
<line x1="714.5" y1="286" x2="714.5" y2="306" stroke="#00ff00" stroke-width="1" />
<rect x="327.5" y="285.5" width="60" height="20" stroke="#00ff00" stroke-width="1" fill="none" />
<line x1="330.5" y1="286" x2="330.5" y2="306" stroke="#00ff00" stroke-width="1" />
<line x1="384.5" y1="286" x2="384.5" y2="306" stroke="#00ff00" stroke-width="1" />
<line x1="330" y1="288.5" x2="385" y2="288.5" stroke="#00ff00" stroke-width="1" />
<line x1="330" y1="291.5" x2="385" y2="291.5" stroke="#00ff00" stroke-width="1" />
<line x1="330" y1="294.5" x2="385" y2="294.5" stroke="#00ff00" stroke-width="1" />
<line x1="330" y1="297.5" x2="385" y2="297.5" stroke="#00ff00" stroke-width="1" />
<line x1="330" y1="300.5" x2="385" y2="300.5" stroke="#00ff00" stroke-width="1" />
<line x1="330" y1="303.5" x2="385" y2="303.5" stroke="#00ff00" stroke-width="1" />
<line x1="357.5" y1="282" x2="357.5" y2="309" stroke="#ff0000" stroke-width="1" stroke-dasharray="4,1.5"/>
<rect x="469.5" y="285.5" width="60" height="20" stroke="#00ff00" stroke-width="1" fill="none" />
<line x1="472.5" y1="286" x2="472.5" y2="306" stroke="#00ff00" stroke-width="1" />
<line x1="526.5" y1="286" x2="526.5" y2="306" stroke="#00ff00" stroke-width="1" />
<line x1="472" y1="288.5" x2="527" y2="288.5" stroke="#00ff00" stroke-width="1" />
<line x1="472" y1="291.5" x2="527" y2="291.5" stroke="#00ff00" stroke-width="1" />
<line x1="472" y1="294.5" x2="527" y2="294.5" stroke="#00ff00" stroke-width="1" />
<line x1="472" y1="297.5" x2="527" y2="297.5" stroke="#00ff00" stroke-width="1" />
<line x1="472" y1="300.5" x2="527" y2="300.5" stroke="#00ff00" stroke-width="1" />
<line x1="472" y1="303.5" x2="527" y2="303.5" stroke="#00ff00" stroke-width="1" />
<line x1="499.5" y1="282" x2="499.5" y2="309" stroke="#ff0000" stroke-width="1" stroke-dasharray="4,1.5"/>
<rect x="612.5" y="285.5" width="60" height="20" stroke="#00ff00" stroke-width="1" fill="none" />
<line x1="615.5" y1="286" x2="615.5" y2="306" stroke="#00ff00" stroke-width="1" />
<line x1="669.5" y1="286" x2="669.5" y2="306" stroke="#00ff00" stroke-width="1" />
<line x1="615" y1="288.5" x2="670" y2="288.5" stroke="#00ff00" stroke-width="1" />
<line x1="615" y1="291.5" x2="670" y2="291.5" stroke="#00ff00" stroke-width="1" />
<line x1="615" y1="294.5" x2="670" y2="294.5" stroke="#00ff00" stroke-width="1" />
<line x1="615" y1="297.5" x2="670" y2="297.5" stroke="#00ff00" stroke-width="1" />
<line x1="615" y1="300.5" x2="670" y2="300.5" stroke="#00ff00" stroke-width="1" />
<line x1="615" y1="303.5" x2="670" y2="303.5" stroke="#00ff00" stroke-width="1" />
<line x1="642.5" y1="282" x2="642.5" y2="309" stroke="#ff0000" stroke-width="1" stroke-dasharray="4,1.5"/>
<polyline points="763,282.5 720.5,282.5 716.5,285.5 716.5,305.5 720.5,308.5 763,308.5" stroke="#00ff00" stroke-width="1" fill="none" />
<rect x="762" y="283" width="3" height="3" fill="#00ff00" stroke="none"/>
<rect x="762" y="305" width="3" height="3" fill="#00ff00" stroke="none"/>
<rect x="724.5" y="287.5" width="22" height="16" stroke="#00ff00" stroke-width="1" fill="none" />
<line x1="730.5" y1="281" x2="730.5" y2="314" stroke="#ff0000" stroke-width="1" />
<line x1="735.5" y1="285" x2="735.5" y2="307" stroke="#ff0000" stroke-width="1" />
<line x1="741.5" y1="281" x2="741.5" y2="310" stroke="#ff0000" stroke-width="1" stroke-dasharray="5,1.5"/>
<line x1="785.5" y1="270" x2="785.5" y2="322" stroke="#ffffff" stroke-width="1" />
<rect x="784" y="275.6" width="3" height="4" fill="#ffffff" stroke="none"/>
<rect x="784" y="309.8" width="3" height="4" fill="#ffffff" stroke="none"/>
<line x1="765" y1="282.5" x2="791" y2="282.5" stroke="#ffffff" stroke-width="1" />
<line x1="764" y1="308.5" x2="791" y2="308.5" stroke="#ffffff" stroke-width="1" />
<text x="783" y="300" fill="#00ffff" stroke="#00ffff" stroke-width="0.35" font-size="7" font-family="Liberation Sans" font-weight="bold" text-anchor="start" textLength="8" lengthAdjust="spacingAndGlyphs" transform="rotate(-90 783 300)">150</text>
<line x1="179.5" y1="263" x2="179.5" y2="325" stroke="#ffffff" stroke-width="1" />
<rect x="178" y="267.5" width="3" height="4" fill="#ffffff" stroke="none"/>
<rect x="178" y="288" width="3" height="4" fill="#ffffff" stroke="none"/>
<rect x="178" y="298" width="3" height="4" fill="#ffffff" stroke="none"/>
<rect x="178" y="310.5" width="3" height="4" fill="#ffffff" stroke="none"/>
<line x1="174" y1="274.5" x2="208" y2="274.5" stroke="#ffffff" stroke-width="1" />
<line x1="174" y1="295.5" x2="196" y2="295.5" stroke="#ffffff" stroke-width="1" />
<line x1="174" y1="312.5" x2="218" y2="312.5" stroke="#ffffff" stroke-width="1" />
<text x="177" y="289" fill="#00ffff" stroke="#00ffff" stroke-width="0.35" font-size="7" font-family="Liberation Sans" font-weight="bold" text-anchor="start" textLength="7" lengthAdjust="spacingAndGlyphs" transform="rotate(-90 177 289)">350</text>
<text x="177" y="307" fill="#00ffff" stroke="#00ffff" stroke-width="0.35" font-size="7" font-family="Liberation Sans" font-weight="bold" text-anchor="start" textLength="7" lengthAdjust="spacingAndGlyphs" transform="rotate(-90 177 307)">210</text>
<line x1="306.5" y1="270" x2="306.5" y2="321" stroke="#ffffff" stroke-width="1" />
<rect x="305" y="280.5" width="3" height="4" fill="#ffffff" stroke="none"/>
<rect x="305" y="306.5" width="3" height="4" fill="#ffffff" stroke="none"/>
<line x1="301" y1="282.5" x2="318" y2="282.5" stroke="#ffffff" stroke-width="1" />
<line x1="301" y1="308.5" x2="318" y2="308.5" stroke="#ffffff" stroke-width="1" />
<text x="304" y="299" fill="#00ffff" stroke="#00ffff" stroke-width="0.35" font-size="7" font-family="Liberation Sans" font-weight="bold" text-anchor="start" textLength="7" lengthAdjust="spacingAndGlyphs" transform="rotate(-90 304 299)">150</text>
<line x1="417.5" y1="275" x2="417.5" y2="316" stroke="#ffffff" stroke-width="1" />
<rect x="416" y="279" width="3" height="4" fill="#ffffff" stroke="none"/>
<rect x="416" y="307" width="3" height="4" fill="#ffffff" stroke="none"/>
<text x="415" y="299" fill="#00ffff" stroke="#00ffff" stroke-width="0.35" font-size="7" font-family="Liberation Sans" font-weight="bold" text-anchor="start" textLength="7" lengthAdjust="spacingAndGlyphs" transform="rotate(-90 415 299)">150</text>
<rect x="261.5" y="249.5" width="55" height="19" rx="3" stroke="#00ff00" fill="none"/>
<rect x="264" y="252.5" width="49.5" height="13" stroke="#00ff00" stroke-width="1" fill="none" />
<rect x="274.5" y="254.5" width="20" height="9" stroke="#00ff00" stroke-width="1" fill="none" />
<line x1="257" y1="259.5" x2="352" y2="259.5" stroke="#ff0000" stroke-width="1" stroke-dasharray="10,2,2,2"/>
<line x1="280.5" y1="247" x2="280.5" y2="280" stroke="#ff0000" stroke-width="1" />
<line x1="308.5" y1="241" x2="308.5" y2="273" stroke="#ff0000" stroke-width="1" />
<rect x="299.5" y="242.5" width="49" height="4" stroke="#00ff00" stroke-width="1" fill="none" />
<line x1="317" y1="254.5" x2="333" y2="254.5" stroke="#00ff00" stroke-width="1" />
<line x1="317" y1="257.5" x2="333" y2="257.5" stroke="#00ff00" stroke-width="1" />
<line x1="317" y1="261.5" x2="333" y2="261.5" stroke="#00ff00" stroke-width="1" />
<line x1="317" y1="264.5" x2="333" y2="264.5" stroke="#00ff00" stroke-width="1" />
<rect x="332.5" y="248.5" width="15.5" height="21" rx="3" stroke="#00ff00" fill="none"/>
<rect x="348.5" y="253.5" width="7.5" height="10" stroke="#00ff00" stroke-width="1" fill="none" />
<line x1="348" y1="257.5" x2="357" y2="257.5" stroke="#00ff00" stroke-width="1" />
<line x1="348" y1="260.5" x2="357" y2="260.5" stroke="#00ff00" stroke-width="1" />
<line x1="353.5" y1="254" x2="353.5" y2="264" stroke="#00ff00" stroke-width="1" />
<line x1="340.5" y1="241" x2="340.5" y2="273" stroke="#ff0000" stroke-width="1" />
<rect x="337" y="246.5" width="10" height="2.5" fill="#00ff00" stroke="none"/>
<rect x="207.5" y="272.5" width="81" height="3.5" stroke="#00ff00" stroke-width="1" fill="none" />
<line x1="207" y1="274.5" x2="292" y2="274.5" stroke="#ff0000" stroke-width="1" stroke-dasharray="6,2"/>
<line x1="278.5" y1="268" x2="278.5" y2="273" stroke="#00ff00" stroke-width="1" />
<line x1="282.5" y1="268" x2="282.5" y2="273" stroke="#00ff00" stroke-width="1" />
<line x1="224" y1="231.5" x2="342" y2="231.5" stroke="#ffffff" stroke-width="1" />
<rect x="226.75" y="230" width="4" height="3" fill="#ffffff" stroke="none"/>
<rect x="273" y="230" width="4" height="3" fill="#ffffff" stroke="none"/>
<rect x="283" y="230" width="4" height="3" fill="#ffffff" stroke="none"/>
<rect x="301.75" y="230" width="4" height="3" fill="#ffffff" stroke="none"/>
<rect x="310.5" y="230" width="4" height="3" fill="#ffffff" stroke="none"/>
<rect x="334.25" y="230" width="4" height="3" fill="#ffffff" stroke="none"/>
<line x1="280.5" y1="226" x2="280.5" y2="247" stroke="#ffffff" stroke-width="1" />
<line x1="308.5" y1="226" x2="308.5" y2="242" stroke="#ffffff" stroke-width="1" />
<line x1="340.5" y1="226" x2="340.5" y2="242" stroke="#ffffff" stroke-width="1" />
<text x="249" y="230.5" fill="#00ffff" stroke="#00ffff" stroke-width="0.35" font-size="8.5" font-family="Liberation Sans" font-weight="bold" text-anchor="start" textLength="7.5" lengthAdjust="spacingAndGlyphs">936</text>
<text x="293" y="230.5" fill="#00ffff" stroke="#00ffff" stroke-width="0.35" font-size="8.5" font-family="Liberation Sans" font-weight="bold" text-anchor="start" textLength="3" lengthAdjust="spacingAndGlyphs">A</text>
<text x="322.5" y="230.5" fill="#00ffff" stroke="#00ffff" stroke-width="0.35" font-size="8.5" font-family="Liberation Sans" font-weight="bold" text-anchor="start" textLength="5" lengthAdjust="spacingAndGlyphs">A1</text>
<g><rect x="176.0" y="229.5" width="3.4" height="8.0" fill="#00ffff"/><rect x="177.7" y="235.2" width="1.0" height="1.7" fill="#000"/><rect x="176.4" y="229.9" width="0.8" height="1.2" fill="#000"/><rect x="176.8" y="233.6" width="1.2" height="1.2" fill="#000"/><rect x="176.3" y="234.7" width="1.3" height="1.1" fill="#000"/><rect x="176.3" y="234.3" width="1.2" height="1.5" fill="#000"/><rect x="176.5" y="235.5" width="1.0" height="1.3" fill="#000"/><rect x="180.2" y="229.5" width="3.4" height="8.0" fill="#00ffff"/><rect x="182.4" y="229.9" width="0.8" height="1.0" fill="#000"/><rect x="181.6" y="230.5" width="1.2" height="1.1" fill="#000"/><rect x="180.6" y="231.8" width="0.8" height="1.5" fill="#000"/><rect x="181.9" y="235.5" width="1.2" height="1.5" fill="#000"/><rect x="182.0" y="234.1" width="0.8" height="1.1" fill="#000"/><rect x="180.9" y="232.4" width="0.8" height="1.4" fill="#000"/><rect x="182.4" y="231.8" width="0.8" height="1.0" fill="#000"/><rect x="181.2" y="230.7" width="1.2" height="1.1" fill="#000"/><rect x="184.3" y="229.5" width="3.4" height="8.0" fill="#00ffff"/><rect x="185.7" y="233.8" width="0.8" height="1.1" fill="#000"/><rect x="185.5" y="234.5" width="1.0" height="1.8" fill="#000"/><rect x="186.2" y="235.2" width="1.3" height="1.0" fill="#000"/><rect x="184.7" y="234.2" width="1.3" height="1.1" fill="#000"/><rect x="186.6" y="231.0" width="0.8" height="1.2" fill="#000"/><rect x="186.5" y="231.4" width="0.8" height="1.6" fill="#000"/><rect x="185.5" y="231.6" width="0.9" height="1.0" fill="#000"/><rect x="188.5" y="229.5" width="3.4" height="8.0" fill="#00ffff"/><rect x="190.3" y="233.9" width="1.1" height="1.7" fill="#000"/><rect x="189.5" y="235.8" width="1.0" height="1.2" fill="#000"/><rect x="189.5" y="230.7" width="0.9" height="1.3" fill="#000"/><rect x="189.7" y="235.7" width="1.3" height="1.0" fill="#000"/><rect x="189.5" y="231.2" width="0.9" height="1.4" fill="#000"/><rect x="190.4" y="234.7" width="0.8" height="1.1" fill="#000"/><rect x="189.9" y="231.9" width="1.2" height="1.0" fill="#000"/><rect x="192.6" y="229.5" width="3.4" height="8.0" fill="#00ffff"/><rect x="193.7" y="233.2" width="1.0" height="1.5" fill="#000"/><rect x="193.8" y="231.8" width="1.0" height="1.5" fill="#000"/><rect x="194.4" y="234.6" width="1.0" height="1.3" fill="#000"/><rect x="193.0" y="235.8" width="1.2" height="1.2" fill="#000"/><rect x="194.5" y="230.2" width="0.9" height="1.5" fill="#000"/><rect x="194.5" y="234.3" width="1.2" height="1.5" fill="#000"/><rect x="194.6" y="231.8" width="0.9" height="1.6" fill="#000"/><rect x="194.7" y="230.2" width="1.1" height="1.4" fill="#000"/></g>
<polyline points="165,239.5 201.25,239.5 237.5,272" stroke="#ffffff" stroke-width="1" fill="none" />
<rect x="236.5" y="271" width="2.5" height="2.5" fill="#ffffff" stroke="none"/>
<g><rect x="175.0" y="247.5" width="3.4" height="7.0" fill="#00ffff"/><rect x="175.6" y="249.8" width="0.9" height="1.0" fill="#000"/><rect x="176.4" y="248.8" width="1.1" height="1.0" fill="#000"/><rect x="176.3" y="252.3" width="1.3" height="1.4" fill="#000"/><rect x="177.0" y="250.1" width="0.9" height="1.1" fill="#000"/><rect x="176.0" y="249.6" width="1.0" height="1.3" fill="#000"/><rect x="175.8" y="251.2" width="1.1" height="1.2" fill="#000"/><rect x="176.1" y="248.4" width="0.9" height="1.0" fill="#000"/><rect x="175.6" y="250.4" width="1.1" height="1.4" fill="#000"/><rect x="179.2" y="247.5" width="3.4" height="7.0" fill="#00ffff"/><rect x="180.4" y="249.1" width="1.1" height="1.1" fill="#000"/><rect x="180.2" y="247.9" width="0.9" height="1.1" fill="#000"/><rect x="179.6" y="248.7" width="0.9" height="1.2" fill="#000"/><rect x="180.0" y="249.1" width="1.1" height="1.0" fill="#000"/><rect x="180.5" y="252.4" width="1.2" height="1.0" fill="#000"/><rect x="181.1" y="251.1" width="0.9" height="1.1" fill="#000"/><rect x="183.4" y="247.5" width="3.4" height="7.0" fill="#00ffff"/><rect x="184.3" y="248.0" width="1.2" height="1.3" fill="#000"/><rect x="184.4" y="250.8" width="1.2" height="1.5" fill="#000"/><rect x="185.4" y="248.5" width="0.9" height="1.0" fill="#000"/><rect x="185.2" y="250.6" width="1.1" height="1.5" fill="#000"/><rect x="185.4" y="248.2" width="0.8" height="1.0" fill="#000"/><rect x="184.4" y="252.8" width="1.0" height="1.1" fill="#000"/><rect x="183.8" y="250.6" width="1.1" height="1.4" fill="#000"/><rect x="187.6" y="247.5" width="3.4" height="7.0" fill="#00ffff"/><rect x="189.6" y="248.7" width="1.1" height="1.1" fill="#000"/><rect x="188.1" y="251.8" width="0.8" height="1.1" fill="#000"/><rect x="188.3" y="250.7" width="0.8" height="1.0" fill="#000"/><rect x="188.4" y="249.9" width="1.3" height="1.0" fill="#000"/><rect x="189.5" y="250.9" width="1.0" height="1.0" fill="#000"/><rect x="189.6" y="248.9" width="0.8" height="1.2" fill="#000"/><rect x="188.2" y="249.5" width="1.0" height="1.4" fill="#000"/></g>
<polyline points="166,256.5 197.5,256.5 223.75,296" stroke="#ffffff" stroke-width="1" fill="none" />
<rect x="222.7" y="295" width="2.5" height="2.5" fill="#ffffff" stroke="none"/>
<g><rect x="377.5" y="232.5" width="3.9" height="7.5" fill="#00ffff"/><rect x="379.6" y="233.6" width="1.2" height="1.5" fill="#000"/><rect x="379.2" y="234.7" width="1.1" height="1.0" fill="#000"/><rect x="378.2" y="235.6" width="1.0" height="1.6" fill="#000"/><rect x="378.6" y="236.7" width="1.2" height="1.0" fill="#000"/><rect x="379.8" y="236.7" width="1.0" height="1.2" fill="#000"/><rect x="378.6" y="235.3" width="1.0" height="1.1" fill="#000"/><rect x="382.2" y="232.5" width="3.9" height="7.5" fill="#00ffff"/><rect x="382.6" y="235.9" width="1.0" height="1.1" fill="#000"/><rect x="383.6" y="236.1" width="1.1" height="1.2" fill="#000"/><rect x="382.9" y="237.8" width="1.1" height="1.5" fill="#000"/><rect x="383.1" y="235.9" width="1.2" height="1.0" fill="#000"/><rect x="383.2" y="234.3" width="1.1" height="1.3" fill="#000"/><rect x="383.9" y="237.4" width="1.3" height="1.1" fill="#000"/><rect x="384.4" y="235.3" width="1.2" height="1.2" fill="#000"/><rect x="383.3" y="236.6" width="1.4" height="1.0" fill="#000"/><rect x="386.9" y="232.5" width="3.9" height="7.5" fill="#00ffff"/><rect x="389.1" y="235.5" width="0.9" height="1.6" fill="#000"/><rect x="388.9" y="233.7" width="0.9" height="1.4" fill="#000"/><rect x="388.9" y="237.2" width="1.0" height="1.4" fill="#000"/><rect x="388.8" y="237.0" width="1.2" height="1.0" fill="#000"/><rect x="387.6" y="233.3" width="1.2" height="1.2" fill="#000"/><rect x="389.2" y="236.9" width="0.9" height="1.1" fill="#000"/><rect x="391.5" y="232.5" width="3.9" height="7.5" fill="#00ffff"/><rect x="391.9" y="236.9" width="1.3" height="1.0" fill="#000"/><rect x="392.5" y="234.0" width="0.9" height="1.5" fill="#000"/><rect x="393.0" y="233.7" width="1.2" height="1.1" fill="#000"/><rect x="393.4" y="233.7" width="1.4" height="1.1" fill="#000"/><rect x="392.6" y="233.0" width="1.3" height="1.6" fill="#000"/><rect x="392.3" y="235.8" width="1.1" height="1.4" fill="#000"/><rect x="393.6" y="235.2" width="0.9" height="1.2" fill="#000"/><rect x="396.2" y="232.5" width="3.9" height="7.5" fill="#00ffff"/><rect x="397.3" y="236.7" width="1.1" height="1.0" fill="#000"/><rect x="397.7" y="233.2" width="1.0" height="1.4" fill="#000"/><rect x="398.2" y="238.0" width="1.2" height="1.0" fill="#000"/><rect x="397.0" y="234.6" width="1.4" height="1.1" fill="#000"/><rect x="396.9" y="235.4" width="1.2" height="1.5" fill="#000"/><rect x="398.3" y="235.9" width="1.3" height="1.5" fill="#000"/><rect x="396.7" y="232.8" width="1.0" height="1.3" fill="#000"/><rect x="397.2" y="233.8" width="1.0" height="1.0" fill="#000"/><rect x="400.9" y="232.5" width="3.9" height="7.5" fill="#00ffff"/><rect x="402.8" y="233.9" width="1.1" height="1.1" fill="#000"/><rect x="401.3" y="236.0" width="1.3" height="1.1" fill="#000"/><rect x="403.1" y="236.1" width="0.9" height="1.3" fill="#000"/><rect x="402.3" y="233.4" width="1.1" height="1.0" fill="#000"/><rect x="402.4" y="234.9" width="1.3" height="1.0" fill="#000"/><rect x="401.5" y="233.7" width="1.1" height="1.4" fill="#000"/><rect x="402.8" y="237.8" width="1.4" height="1.1" fill="#000"/><rect x="405.6" y="232.5" width="3.9" height="7.5" fill="#00ffff"/><rect x="406.1" y="234.2" width="1.0" height="1.1" fill="#000"/><rect x="407.1" y="234.7" width="0.9" height="1.1" fill="#000"/><rect x="406.0" y="234.2" width="1.0" height="1.3" fill="#000"/><rect x="406.9" y="238.5" width="1.4" height="1.1" fill="#000"/><rect x="406.9" y="234.1" width="1.4" height="1.4" fill="#000"/><rect x="406.0" y="237.5" width="0.9" height="1.0" fill="#000"/><rect x="407.4" y="233.3" width="1.3" height="1.1" fill="#000"/><rect x="410.3" y="232.5" width="3.9" height="7.5" fill="#00ffff"/><rect x="410.6" y="235.1" width="0.9" height="1.1" fill="#000"/><rect x="412.5" y="233.3" width="1.2" height="1.1" fill="#000"/><rect x="411.8" y="237.4" width="1.2" height="1.1" fill="#000"/><rect x="411.0" y="236.3" width="1.3" height="1.0" fill="#000"/><rect x="411.7" y="236.9" width="1.5" height="1.0" fill="#000"/><rect x="412.1" y="235.5" width="1.4" height="1.2" fill="#000"/><rect x="414.9" y="232.5" width="3.9" height="7.5" fill="#00ffff"/><rect x="416.2" y="235.0" width="0.9" height="1.6" fill="#000"/><rect x="417.0" y="236.7" width="0.9" height="1.1" fill="#000"/><rect x="415.6" y="233.9" width="0.9" height="1.2" fill="#000"/><rect x="417.5" y="238.5" width="1.0" height="1.1" fill="#000"/><rect x="416.2" y="237.2" width="1.3" height="1.3" fill="#000"/><rect x="416.4" y="233.9" width="1.4" height="1.5" fill="#000"/><rect x="419.6" y="232.5" width="3.9" height="7.5" fill="#00ffff"/><rect x="420.9" y="236.5" width="0.9" height="1.2" fill="#000"/><rect x="421.4" y="235.5" width="1.5" height="1.3" fill="#000"/><rect x="420.4" y="236.7" width="1.3" height="1.3" fill="#000"/><rect x="421.0" y="237.4" width="1.0" height="1.0" fill="#000"/><rect x="420.7" y="236.6" width="1.3" height="1.0" fill="#000"/><rect x="421.3" y="236.1" width="1.4" height="1.3" fill="#000"/><rect x="420.0" y="237.1" width="1.3" height="1.4" fill="#000"/><rect x="421.6" y="234.1" width="1.4" height="1.5" fill="#000"/></g>
<polyline points="447.5,241.5 370,241.5 350,255.5" stroke="#ffffff" stroke-width="1" fill="none" />
<rect x="349" y="254.5" width="2.5" height="2.5" fill="#ffffff" stroke="none"/>
<g><rect x="475.6" y="252.4" width="3.8" height="7.5" fill="#00ffff"/><rect x="476.9" y="258.0" width="1.1" height="1.1" fill="#000"/><rect x="476.7" y="257.0" width="1.3" height="1.4" fill="#000"/><rect x="477.7" y="257.2" width="1.3" height="1.4" fill="#000"/><rect x="477.3" y="257.6" width="1.1" height="1.0" fill="#000"/><rect x="477.7" y="257.1" width="1.1" height="1.3" fill="#000"/><rect x="475.9" y="253.3" width="0.8" height="1.3" fill="#000"/><rect x="477.1" y="255.3" width="1.3" height="1.2" fill="#000"/><rect x="476.7" y="257.6" width="1.0" height="1.1" fill="#000"/><rect x="480.2" y="252.4" width="3.8" height="7.5" fill="#00ffff"/><rect x="482.9" y="253.8" width="0.9" height="1.2" fill="#000"/><rect x="481.5" y="254.1" width="1.4" height="1.2" fill="#000"/><rect x="481.4" y="257.7" width="1.0" height="1.4" fill="#000"/><rect x="480.8" y="253.7" width="1.1" height="1.1" fill="#000"/><rect x="482.5" y="257.9" width="1.1" height="1.5" fill="#000"/><rect x="482.5" y="257.2" width="1.0" height="1.1" fill="#000"/><rect x="482.5" y="254.8" width="1.2" height="1.5" fill="#000"/><rect x="480.8" y="254.0" width="0.8" height="1.5" fill="#000"/><rect x="484.9" y="252.4" width="3.8" height="7.5" fill="#00ffff"/><rect x="485.8" y="253.3" width="1.3" height="1.1" fill="#000"/><rect x="486.2" y="254.7" width="1.2" height="1.5" fill="#000"/><rect x="486.4" y="253.1" width="1.4" height="1.6" fill="#000"/><rect x="487.1" y="254.8" width="1.2" height="1.2" fill="#000"/><rect x="485.9" y="255.6" width="1.2" height="1.4" fill="#000"/><rect x="486.2" y="254.6" width="1.3" height="1.6" fill="#000"/><rect x="486.7" y="256.7" width="1.4" height="1.0" fill="#000"/><rect x="486.7" y="257.7" width="1.2" height="1.2" fill="#000"/><rect x="489.5" y="252.4" width="3.8" height="7.5" fill="#00ffff"/><rect x="491.7" y="255.4" width="1.2" height="1.2" fill="#000"/><rect x="490.4" y="253.7" width="0.8" height="1.6" fill="#000"/><rect x="491.7" y="253.7" width="1.4" height="1.3" fill="#000"/><rect x="491.1" y="254.0" width="1.2" height="1.6" fill="#000"/><rect x="490.9" y="255.1" width="1.3" height="1.0" fill="#000"/><rect x="491.3" y="255.3" width="0.9" height="1.6" fill="#000"/><rect x="491.5" y="254.6" width="1.4" height="1.2" fill="#000"/><rect x="489.8" y="255.7" width="1.4" height="1.3" fill="#000"/><rect x="494.1" y="252.4" width="3.8" height="7.5" fill="#00ffff"/><rect x="494.6" y="254.4" width="1.0" height="1.5" fill="#000"/><rect x="496.3" y="255.9" width="1.2" height="1.4" fill="#000"/><rect x="495.1" y="256.5" width="1.4" height="1.5" fill="#000"/><rect x="495.5" y="256.0" width="1.0" height="1.6" fill="#000"/><rect x="495.7" y="254.8" width="1.4" height="1.2" fill="#000"/><rect x="495.5" y="253.3" width="1.0" height="1.5" fill="#000"/><rect x="498.8" y="252.4" width="3.8" height="7.5" fill="#00ffff"/><rect x="500.4" y="256.9" width="1.1" height="1.5" fill="#000"/><rect x="500.7" y="255.5" width="1.0" height="1.0" fill="#000"/><rect x="500.6" y="254.2" width="1.2" height="1.4" fill="#000"/><rect x="500.2" y="254.2" width="1.1" height="1.6" fill="#000"/><rect x="500.6" y="253.0" width="1.2" height="1.1" fill="#000"/><rect x="499.7" y="257.9" width="1.4" height="1.3" fill="#000"/><rect x="499.2" y="255.9" width="1.0" height="1.1" fill="#000"/><rect x="499.9" y="257.1" width="1.3" height="1.4" fill="#000"/></g>
<polyline points="513.7,261.5 471.2,261.5 450.4,294" stroke="#ffffff" stroke-width="1" fill="none" />
<rect x="449.4" y="293" width="2.5" height="2.5" fill="#ffffff" stroke="none"/>
<line x1="191" y1="405.5" x2="767" y2="405.5" stroke="#ff0000" stroke-width="1" stroke-dasharray="12,2,2,2"/>
<line x1="191" y1="416.5" x2="767" y2="416.5" stroke="#ff0000" stroke-width="1" stroke-dasharray="12,2,2,2"/>
<line x1="191" y1="427.5" x2="767" y2="427.5" stroke="#ff0000" stroke-width="1" stroke-dasharray="12,2,2,2"/>
<line x1="197.5" y1="400" x2="197.5" y2="433" stroke="#ff0000" stroke-width="1" stroke-dasharray="5,1.5"/>
<rect x="194.5" y="402.5" width="6" height="6" stroke="#00ff00" stroke-width="1" fill="none" />
<rect x="194.5" y="424.5" width="6" height="6" stroke="#00ff00" stroke-width="1" fill="none" />
<line x1="271.5" y1="400" x2="271.5" y2="433" stroke="#ff0000" stroke-width="1" stroke-dasharray="5,1.5"/>
<rect x="268.5" y="402.5" width="6" height="6" stroke="#00ff00" stroke-width="1" fill="none" />
<rect x="268.5" y="424.5" width="6" height="6" stroke="#00ff00" stroke-width="1" fill="none" />
<line x1="321.5" y1="400" x2="321.5" y2="433" stroke="#ff0000" stroke-width="1" stroke-dasharray="5,1.5"/>
<rect x="318.5" y="402.5" width="6" height="6" stroke="#00ff00" stroke-width="1" fill="none" />
<rect x="318.5" y="424.5" width="6" height="6" stroke="#00ff00" stroke-width="1" fill="none" />
<line x1="393.5" y1="400" x2="393.5" y2="433" stroke="#ff0000" stroke-width="1" stroke-dasharray="5,1.5"/>
<rect x="390.5" y="402.5" width="6" height="6" stroke="#00ff00" stroke-width="1" fill="none" />
<rect x="390.5" y="424.5" width="6" height="6" stroke="#00ff00" stroke-width="1" fill="none" />
<line x1="464.5" y1="400" x2="464.5" y2="433" stroke="#ff0000" stroke-width="1" stroke-dasharray="5,1.5"/>
<rect x="461.5" y="402.5" width="6" height="6" stroke="#00ff00" stroke-width="1" fill="none" />
<rect x="461.5" y="424.5" width="6" height="6" stroke="#00ff00" stroke-width="1" fill="none" />
<line x1="536.5" y1="400" x2="536.5" y2="433" stroke="#ff0000" stroke-width="1" stroke-dasharray="5,1.5"/>
<rect x="533.5" y="402.5" width="6" height="6" stroke="#00ff00" stroke-width="1" fill="none" />
<rect x="533.5" y="424.5" width="6" height="6" stroke="#00ff00" stroke-width="1" fill="none" />
<line x1="606.5" y1="400" x2="606.5" y2="433" stroke="#ff0000" stroke-width="1" stroke-dasharray="5,1.5"/>
<rect x="603.5" y="402.5" width="6" height="6" stroke="#00ff00" stroke-width="1" fill="none" />
<rect x="603.5" y="424.5" width="6" height="6" stroke="#00ff00" stroke-width="1" fill="none" />
<line x1="678.5" y1="400" x2="678.5" y2="433" stroke="#ff0000" stroke-width="1" stroke-dasharray="5,1.5"/>
<rect x="675.5" y="402.5" width="6" height="6" stroke="#00ff00" stroke-width="1" fill="none" />
<rect x="675.5" y="424.5" width="6" height="6" stroke="#00ff00" stroke-width="1" fill="none" />
<line x1="724.5" y1="400" x2="724.5" y2="433" stroke="#ff0000" stroke-width="1" stroke-dasharray="5,1.5"/>
<rect x="721.5" y="402.5" width="6" height="6" stroke="#00ff00" stroke-width="1" fill="none" />
<rect x="721.5" y="424.5" width="6" height="6" stroke="#00ff00" stroke-width="1" fill="none" />
<line x1="755.5" y1="400" x2="755.5" y2="433" stroke="#ff0000" stroke-width="1" stroke-dasharray="5,1.5"/>
<rect x="752.5" y="402.5" width="6" height="6" stroke="#00ff00" stroke-width="1" fill="none" />
<rect x="752.5" y="424.5" width="6" height="6" stroke="#00ff00" stroke-width="1" fill="none" />
<line x1="730.5" y1="398" x2="730.5" y2="434" stroke="#ff0000" stroke-width="1" />
<rect x="218.5" y="410.5" width="22" height="11" stroke="#00ff00" stroke-width="1" fill="none" />
<line x1="223.5" y1="391" x2="223.5" y2="444" stroke="#ff0000" stroke-width="1" stroke-dasharray="5,1.5"/>
<line x1="229.5" y1="407" x2="229.5" y2="444" stroke="#ff0000" stroke-width="1" stroke-dasharray="5,1.5"/>
<line x1="179.5" y1="392" x2="179.5" y2="441" stroke="#ffffff" stroke-width="1" />
<rect x="178" y="398" width="3" height="4" fill="#ffffff" stroke="none"/>
<rect x="178" y="430.5" width="3" height="4" fill="#ffffff" stroke="none"/>
<line x1="174" y1="405.5" x2="191" y2="405.5" stroke="#ffffff" stroke-width="1" />
<line x1="174" y1="427.5" x2="191" y2="427.5" stroke="#ffffff" stroke-width="1" />
<text x="177" y="420" fill="#00ffff" stroke="#00ffff" stroke-width="0.35" font-size="7" font-family="Liberation Sans" font-weight="bold" text-anchor="start" textLength="7" lengthAdjust="spacingAndGlyphs" transform="rotate(-90 177 420)">330</text>
<line x1="185" y1="442.5" x2="251" y2="442.5" stroke="#ffffff" stroke-width="1" />
<rect x="190.5" y="441" width="4" height="3" fill="#ffffff" stroke="none"/>
<rect x="217.5" y="441" width="4" height="3" fill="#ffffff" stroke="none"/>
<rect x="225" y="441" width="4" height="3" fill="#ffffff" stroke="none"/>
<rect x="232.5" y="441" width="4" height="3" fill="#ffffff" stroke="none"/>
<text x="206" y="440.5" fill="#00ffff" stroke="#00ffff" stroke-width="0.35" font-size="8.5" font-family="Liberation Sans" font-weight="bold" text-anchor="start" textLength="8.5" lengthAdjust="spacingAndGlyphs">366</text>
<text x="241" y="440.5" fill="#00ffff" stroke="#00ffff" stroke-width="0.35" font-size="8.5" font-family="Liberation Sans" font-weight="bold" text-anchor="start" textLength="5" lengthAdjust="spacingAndGlyphs">90</text>
<line x1="197" y1="457.5" x2="272" y2="457.5" stroke="#ffffff" stroke-width="1" />
<rect x="199" y="456" width="4" height="3" fill="#ffffff" stroke="none"/>
<rect x="265" y="456" width="4" height="3" fill="#ffffff" stroke="none"/>
<text x="226" y="455.5" fill="#00ffff" stroke="#00ffff" stroke-width="0.35" font-size="8.5" font-family="Liberation Sans" font-weight="bold" text-anchor="start" textLength="9" lengthAdjust="spacingAndGlyphs">1150</text>
<line x1="197.5" y1="428" x2="197.5" y2="462" stroke="#ffffff" stroke-width="1" />
<line x1="271.5" y1="428" x2="271.5" y2="462" stroke="#ffffff" stroke-width="1" />
<line x1="223.5" y1="391" x2="223.5" y2="445" stroke="#ffffff" stroke-width="1" />
<line x1="229.5" y1="408" x2="229.5" y2="445" stroke="#ffffff" stroke-width="1" />
<line x1="224" y1="396.5" x2="282" y2="396.5" stroke="#ffffff" stroke-width="1" />
<rect x="225.5" y="395" width="4" height="3" fill="#ffffff" stroke="none"/>
<rect x="274" y="395" width="4" height="3" fill="#ffffff" stroke="none"/>
<text x="241" y="395.0" fill="#00ffff" stroke="#00ffff" stroke-width="0.35" font-size="8.5" font-family="Liberation Sans" font-weight="bold" text-anchor="start" textLength="6.5" lengthAdjust="spacingAndGlyphs">950</text>
<line x1="254" y1="371.5" x2="316" y2="371.5" stroke="#ff0000" stroke-width="1" stroke-dasharray="12,2,2,2"/>
<line x1="254" y1="388.5" x2="316" y2="388.5" stroke="#ff0000" stroke-width="1" stroke-dasharray="12,2,2,2"/>
<line x1="316" y1="374.5" x2="358" y2="374.5" stroke="#ff0000" stroke-width="1" stroke-dasharray="12,2,2,2"/>
<line x1="316" y1="382.5" x2="358" y2="382.5" stroke="#ff0000" stroke-width="1" stroke-dasharray="12,2,2,2"/>
<line x1="266" y1="379.5" x2="335" y2="379.5" stroke="#ff0000" stroke-width="1" stroke-dasharray="12,2,2,2"/>
<line x1="281.5" y1="362" x2="281.5" y2="393" stroke="#ff0000" stroke-width="1" stroke-dasharray="5,1.5"/>
<line x1="311.5" y1="362" x2="311.5" y2="393" stroke="#ff0000" stroke-width="1" stroke-dasharray="5,1.5"/>
<line x1="322.5" y1="362" x2="322.5" y2="393" stroke="#ff0000" stroke-width="1" stroke-dasharray="5,1.5"/>
<line x1="350.5" y1="362" x2="350.5" y2="393" stroke="#ff0000" stroke-width="1" stroke-dasharray="5,1.5"/>
<rect x="268.5" y="368.5" width="6" height="6" stroke="#00ff00" stroke-width="1" fill="none" />
<rect x="308.5" y="368.5" width="6" height="6" stroke="#00ff00" stroke-width="1" fill="none" />
<rect x="268.5" y="385.5" width="6" height="6" stroke="#00ff00" stroke-width="1" fill="none" />
<rect x="308.5" y="385.5" width="6" height="6" stroke="#00ff00" stroke-width="1" fill="none" />
<rect x="319.5" y="371.5" width="6" height="6" stroke="#00ff00" stroke-width="1" fill="none" />
<rect x="319.5" y="379.5" width="6" height="6" stroke="#00ff00" stroke-width="1" fill="none" />
<rect x="347.5" y="371.5" width="6" height="6" stroke="#00ff00" stroke-width="1" fill="none" />
<rect x="347.5" y="379.5" width="6" height="6" stroke="#00ff00" stroke-width="1" fill="none" />
<rect x="344" y="369.5" width="13.5" height="8.5" stroke="#ffff00" stroke-width="1.3" fill="none" />
<line x1="271" y1="341.5" x2="351" y2="341.5" stroke="#ffffff" stroke-width="1" />
<rect x="273.5" y="340" width="4" height="3" fill="#ffffff" stroke="none"/>
<rect x="305.5" y="340" width="4" height="3" fill="#ffffff" stroke="none"/>
<rect x="313.5" y="340" width="4" height="3" fill="#ffffff" stroke="none"/>
<rect x="344" y="340" width="4" height="3" fill="#ffffff" stroke="none"/>
<text x="290" y="340.0" fill="#00ffff" stroke="#00ffff" stroke-width="0.35" font-size="8.5" font-family="Liberation Sans" font-weight="bold" text-anchor="start" textLength="4.5" lengthAdjust="spacingAndGlyphs">25</text>
<text x="328" y="340.0" fill="#00ffff" stroke="#00ffff" stroke-width="0.35" font-size="8.5" font-family="Liberation Sans" font-weight="bold" text-anchor="start" textLength="5" lengthAdjust="spacingAndGlyphs">27</text>
<line x1="260" y1="354.5" x2="301" y2="354.5" stroke="#ffffff" stroke-width="1" />
<rect x="264" y="353" width="4" height="3" fill="#ffffff" stroke="none"/>
<rect x="284" y="353" width="4" height="3" fill="#ffffff" stroke="none"/>
<text x="292.5" y="352.5" fill="#00ffff" stroke="#00ffff" stroke-width="0.35" font-size="8.5" font-family="Liberation Sans" font-weight="bold" text-anchor="start" textLength="4.5" lengthAdjust="spacingAndGlyphs">20</text>
<line x1="322" y1="354.5" x2="351" y2="354.5" stroke="#ffffff" stroke-width="1" />
<rect x="324" y="353" width="4" height="3" fill="#ffffff" stroke="none"/>
<rect x="344" y="353" width="4" height="3" fill="#ffffff" stroke="none"/>
<text x="332" y="352.5" fill="#00ffff" stroke="#00ffff" stroke-width="0.35" font-size="8.5" font-family="Liberation Sans" font-weight="bold" text-anchor="start" textLength="4.5" lengthAdjust="spacingAndGlyphs">26</text>
<line x1="271.5" y1="336" x2="271.5" y2="401" stroke="#ffffff" stroke-width="1" />
<line x1="311.5" y1="336" x2="311.5" y2="393" stroke="#ffffff" stroke-width="1" />
<line x1="350.5" y1="336" x2="350.5" y2="370" stroke="#ffffff" stroke-width="1" />
<line x1="281.5" y1="349" x2="281.5" y2="395" stroke="#ffffff" stroke-width="1" />
<line x1="322.5" y1="349" x2="322.5" y2="367" stroke="#ffffff" stroke-width="1" />
<line x1="258.5" y1="359" x2="258.5" y2="401" stroke="#ffffff" stroke-width="1" />
<rect x="257" y="364" width="3" height="4" fill="#ffffff" stroke="none"/>
<rect x="257" y="390.5" width="3" height="4" fill="#ffffff" stroke="none"/>
<text x="256" y="382" fill="#00ffff" stroke="#00ffff" stroke-width="0.35" font-size="7" font-family="Liberation Sans" font-weight="bold" text-anchor="start" textLength="5" lengthAdjust="spacingAndGlyphs" transform="rotate(-90 256 382)">20</text>
<line x1="299.5" y1="379" x2="299.5" y2="417" stroke="#ffffff" stroke-width="1" />
<rect x="298" y="382" width="3" height="4" fill="#ffffff" stroke="none"/>
<rect x="298" y="409" width="3" height="4" fill="#ffffff" stroke="none"/>
<text x="297" y="400" fill="#00ffff" stroke="#00ffff" stroke-width="0.35" font-size="7" font-family="Liberation Sans" font-weight="bold" text-anchor="start" textLength="5" lengthAdjust="spacingAndGlyphs" transform="rotate(-90 297 400)">20</text>
<line x1="335.5" y1="366" x2="335.5" y2="401" stroke="#ffffff" stroke-width="1" />
<rect x="334" y="370.5" width="3" height="4" fill="#ffffff" stroke="none"/>
<rect x="334" y="382" width="3" height="4" fill="#ffffff" stroke="none"/>
<text x="333" y="399" fill="#00ffff" stroke="#00ffff" stroke-width="0.35" font-size="7" font-family="Liberation Sans" font-weight="bold" text-anchor="start" textLength="5" lengthAdjust="spacingAndGlyphs" transform="rotate(-90 333 399)">23</text>
<line x1="377.5" y1="362" x2="377.5" y2="403" stroke="#ffffff" stroke-width="1" />
<rect x="376" y="367.5" width="3" height="4" fill="#ffffff" stroke="none"/>
<rect x="376" y="383" width="3" height="4" fill="#ffffff" stroke="none"/>
<text x="375" y="399" fill="#00ffff" stroke="#00ffff" stroke-width="0.35" font-size="7" font-family="Liberation Sans" font-weight="bold" text-anchor="start" textLength="5" lengthAdjust="spacingAndGlyphs" transform="rotate(-90 375 399)">20</text>
<line x1="358" y1="374.5" x2="383" y2="374.5" stroke="#ffffff" stroke-width="1" />
<line x1="358" y1="381.5" x2="383" y2="381.5" stroke="#ffffff" stroke-width="1" />
<line x1="296" y1="378.5" x2="341" y2="378.5" stroke="#ffffff" stroke-width="1" />
<line x1="294" y1="416.5" x2="301" y2="416.5" stroke="#ffffff" stroke-width="1" />
<line x1="252" y1="371.5" x2="263" y2="371.5" stroke="#ffffff" stroke-width="1" />
<line x1="252" y1="388.5" x2="263" y2="388.5" stroke="#ffffff" stroke-width="1" />
<g><rect x="180.0" y="348.5" width="3.6" height="7.5" fill="#00ffff"/><rect x="180.6" y="353.0" width="1.3" height="1.0" fill="#000"/><rect x="181.0" y="353.7" width="1.2" height="1.0" fill="#000"/><rect x="181.0" y="351.5" width="1.3" height="1.5" fill="#000"/><rect x="181.8" y="349.6" width="1.0" height="1.5" fill="#000"/><rect x="182.0" y="350.4" width="1.2" height="1.2" fill="#000"/><rect x="182.3" y="349.2" width="0.9" height="1.4" fill="#000"/><rect x="184.4" y="348.5" width="3.6" height="7.5" fill="#00ffff"/><rect x="185.7" y="351.0" width="1.3" height="1.4" fill="#000"/><rect x="186.4" y="353.4" width="1.1" height="1.1" fill="#000"/><rect x="185.9" y="353.2" width="1.3" height="1.0" fill="#000"/><rect x="186.5" y="352.8" width="1.1" height="1.6" fill="#000"/><rect x="186.3" y="349.5" width="1.3" height="1.4" fill="#000"/><rect x="185.8" y="350.3" width="1.2" height="1.4" fill="#000"/><rect x="188.8" y="348.5" width="3.6" height="7.5" fill="#00ffff"/><rect x="190.1" y="352.2" width="1.2" height="1.4" fill="#000"/><rect x="189.7" y="352.1" width="1.3" height="1.1" fill="#000"/><rect x="189.1" y="351.9" width="1.3" height="1.0" fill="#000"/><rect x="189.6" y="351.2" width="0.9" height="1.6" fill="#000"/><rect x="190.0" y="354.3" width="1.2" height="1.2" fill="#000"/><rect x="189.2" y="351.8" width="1.1" height="1.3" fill="#000"/><rect x="193.3" y="348.5" width="3.6" height="7.5" fill="#00ffff"/><rect x="194.9" y="350.8" width="0.9" height="1.1" fill="#000"/><rect x="194.0" y="353.2" width="1.0" height="1.3" fill="#000"/><rect x="195.3" y="351.7" width="0.9" height="1.5" fill="#000"/><rect x="193.6" y="351.5" width="0.8" height="1.5" fill="#000"/><rect x="194.8" y="353.1" width="1.0" height="1.0" fill="#000"/><rect x="194.5" y="352.2" width="1.1" height="1.2" fill="#000"/><rect x="195.7" y="353.1" width="0.9" height="1.6" fill="#000"/><rect x="197.7" y="348.5" width="3.6" height="7.5" fill="#00ffff"/><rect x="198.1" y="351.3" width="1.0" height="1.6" fill="#000"/><rect x="199.5" y="352.8" width="0.9" height="1.2" fill="#000"/><rect x="198.3" y="351.1" width="1.1" height="1.2" fill="#000"/><rect x="199.5" y="351.8" width="1.0" height="1.0" fill="#000"/><rect x="199.4" y="350.0" width="1.1" height="1.0" fill="#000"/><rect x="199.5" y="354.2" width="1.0" height="1.3" fill="#000"/><rect x="199.7" y="352.6" width="1.2" height="1.6" fill="#000"/><rect x="198.3" y="348.9" width="1.2" height="1.0" fill="#000"/><rect x="202.1" y="348.5" width="3.6" height="7.5" fill="#00ffff"/><rect x="202.9" y="350.8" width="1.2" height="1.4" fill="#000"/><rect x="204.5" y="350.5" width="0.9" height="1.4" fill="#000"/><rect x="203.2" y="354.1" width="0.8" height="1.0" fill="#000"/><rect x="202.5" y="349.4" width="1.3" height="1.2" fill="#000"/><rect x="203.4" y="354.2" width="0.9" height="1.5" fill="#000"/><rect x="203.2" y="353.2" width="1.3" height="1.5" fill="#000"/><rect x="203.6" y="351.8" width="0.9" height="1.0" fill="#000"/><rect x="202.4" y="354.1" width="0.9" height="1.1" fill="#000"/><rect x="206.5" y="348.5" width="3.6" height="7.5" fill="#00ffff"/><rect x="207.9" y="353.0" width="1.0" height="1.5" fill="#000"/><rect x="208.5" y="351.4" width="1.2" height="1.0" fill="#000"/><rect x="208.4" y="351.9" width="0.9" height="1.0" fill="#000"/><rect x="209.0" y="349.3" width="0.8" height="1.5" fill="#000"/><rect x="207.9" y="354.1" width="1.2" height="1.1" fill="#000"/><rect x="207.8" y="351.5" width="1.3" height="1.2" fill="#000"/><rect x="206.8" y="349.9" width="1.2" height="1.6" fill="#000"/><rect x="207.0" y="353.5" width="1.0" height="1.6" fill="#000"/><rect x="211.0" y="348.5" width="3.6" height="7.5" fill="#00ffff"/><rect x="213.1" y="352.6" width="1.1" height="1.3" fill="#000"/><rect x="212.2" y="352.7" width="1.3" height="1.5" fill="#000"/><rect x="212.4" y="353.8" width="1.3" height="1.0" fill="#000"/><rect x="212.0" y="353.6" width="1.4" height="1.4" fill="#000"/><rect x="212.2" y="351.1" width="1.1" height="1.0" fill="#000"/><rect x="212.9" y="348.8" width="1.2" height="1.5" fill="#000"/><rect x="215.4" y="348.5" width="3.6" height="7.5" fill="#00ffff"/><rect x="216.8" y="352.8" width="1.3" height="1.5" fill="#000"/><rect x="217.8" y="353.5" width="0.8" height="1.0" fill="#000"/><rect x="216.2" y="354.3" width="0.8" height="1.0" fill="#000"/><rect x="217.7" y="352.3" width="0.9" height="1.4" fill="#000"/><rect x="215.9" y="348.9" width="1.3" height="1.1" fill="#000"/><rect x="217.5" y="353.0" width="1.2" height="1.0" fill="#000"/><rect x="216.0" y="351.6" width="0.9" height="1.5" fill="#000"/><rect x="217.6" y="353.8" width="0.9" height="1.5" fill="#000"/></g>
<polyline points="179,358.5 241,358.5 280,382.5" stroke="#ffffff" stroke-width="1" fill="none" />
<g><rect x="404.0" y="336.5" width="3.8" height="7.5" fill="#00ffff"/><rect x="405.8" y="337.3" width="0.9" height="1.0" fill="#000"/><rect x="405.9" y="339.8" width="1.2" height="1.4" fill="#000"/><rect x="405.5" y="339.3" width="1.3" height="1.4" fill="#000"/><rect x="404.7" y="337.9" width="1.2" height="1.3" fill="#000"/><rect x="404.7" y="340.6" width="1.1" height="1.5" fill="#000"/><rect x="406.2" y="340.2" width="1.3" height="1.4" fill="#000"/><rect x="408.6" y="336.5" width="3.8" height="7.5" fill="#00ffff"/><rect x="409.1" y="341.0" width="1.2" height="1.2" fill="#000"/><rect x="409.0" y="338.8" width="1.4" height="1.5" fill="#000"/><rect x="409.2" y="340.1" width="1.0" height="1.5" fill="#000"/><rect x="408.9" y="337.2" width="1.4" height="1.5" fill="#000"/><rect x="410.3" y="339.7" width="0.9" height="1.4" fill="#000"/><rect x="410.2" y="340.5" width="1.1" height="1.2" fill="#000"/><rect x="413.2" y="336.5" width="3.8" height="7.5" fill="#00ffff"/><rect x="413.5" y="337.2" width="1.3" height="1.0" fill="#000"/><rect x="413.7" y="341.8" width="1.3" height="1.4" fill="#000"/><rect x="414.7" y="338.5" width="1.3" height="1.0" fill="#000"/><rect x="415.3" y="341.8" width="1.0" height="1.0" fill="#000"/><rect x="413.9" y="337.7" width="0.9" height="1.2" fill="#000"/><rect x="414.3" y="340.2" width="1.4" height="1.4" fill="#000"/><rect x="414.1" y="341.2" width="1.3" height="1.5" fill="#000"/><rect x="414.3" y="339.8" width="0.8" height="1.3" fill="#000"/><rect x="417.8" y="336.5" width="3.8" height="7.5" fill="#00ffff"/><rect x="419.5" y="341.2" width="1.4" height="1.1" fill="#000"/><rect x="419.1" y="337.4" width="1.4" height="1.5" fill="#000"/><rect x="419.3" y="338.9" width="1.3" height="1.1" fill="#000"/><rect x="418.4" y="339.6" width="1.2" height="1.6" fill="#000"/><rect x="420.0" y="339.1" width="1.2" height="1.3" fill="#000"/><rect x="419.9" y="337.3" width="1.4" height="1.4" fill="#000"/><rect x="420.1" y="336.9" width="1.0" height="1.1" fill="#000"/><rect x="422.4" y="336.5" width="3.8" height="7.5" fill="#00ffff"/><rect x="424.7" y="340.4" width="1.1" height="1.0" fill="#000"/><rect x="424.6" y="338.5" width="1.2" height="1.0" fill="#000"/><rect x="424.8" y="337.3" width="1.1" height="1.2" fill="#000"/><rect x="423.8" y="340.4" width="1.4" height="1.4" fill="#000"/><rect x="422.8" y="337.2" width="1.3" height="1.0" fill="#000"/><rect x="424.3" y="340.0" width="1.1" height="1.0" fill="#000"/><rect x="424.0" y="341.1" width="0.9" height="1.0" fill="#000"/><rect x="427.0" y="336.5" width="3.8" height="7.5" fill="#00ffff"/><rect x="427.8" y="341.0" width="1.4" height="1.4" fill="#000"/><rect x="428.0" y="339.2" width="0.9" height="1.0" fill="#000"/><rect x="428.7" y="337.3" width="1.3" height="1.2" fill="#000"/><rect x="428.8" y="337.0" width="1.4" height="1.2" fill="#000"/><rect x="428.9" y="341.5" width="1.3" height="1.1" fill="#000"/><rect x="427.3" y="337.9" width="1.2" height="1.1" fill="#000"/><rect x="428.5" y="340.2" width="1.4" height="1.0" fill="#000"/><rect x="427.6" y="337.4" width="1.2" height="1.0" fill="#000"/><rect x="431.6" y="336.5" width="3.8" height="7.5" fill="#00ffff"/><rect x="433.1" y="338.0" width="1.1" height="1.4" fill="#000"/><rect x="433.9" y="337.6" width="0.9" height="1.0" fill="#000"/><rect x="433.2" y="337.6" width="1.4" height="1.2" fill="#000"/><rect x="432.6" y="339.8" width="1.3" height="1.1" fill="#000"/><rect x="433.7" y="338.5" width="0.9" height="1.1" fill="#000"/><rect x="432.4" y="337.9" width="1.1" height="1.5" fill="#000"/><rect x="436.2" y="336.5" width="3.8" height="7.5" fill="#00ffff"/><rect x="436.9" y="341.6" width="1.3" height="1.5" fill="#000"/><rect x="436.7" y="339.0" width="1.0" height="1.0" fill="#000"/><rect x="437.5" y="339.6" width="1.1" height="1.1" fill="#000"/><rect x="437.6" y="339.1" width="0.9" height="1.3" fill="#000"/><rect x="438.4" y="339.1" width="1.1" height="1.6" fill="#000"/><rect x="437.1" y="339.4" width="0.9" height="1.0" fill="#000"/></g>
<g><rect x="392.5" y="349.0" width="3.9" height="7.5" fill="#00ffff"/><rect x="392.9" y="350.5" width="1.4" height="1.3" fill="#000"/><rect x="394.5" y="354.7" width="1.3" height="1.3" fill="#000"/><rect x="394.6" y="352.4" width="1.4" height="1.0" fill="#000"/><rect x="394.8" y="350.6" width="1.0" height="1.0" fill="#000"/><rect x="395.0" y="352.0" width="0.9" height="1.1" fill="#000"/><rect x="393.7" y="351.2" width="1.3" height="1.0" fill="#000"/><rect x="397.2" y="349.0" width="3.9" height="7.5" fill="#00ffff"/><rect x="397.6" y="353.1" width="1.0" height="1.5" fill="#000"/><rect x="398.6" y="352.9" width="1.1" height="1.1" fill="#000"/><rect x="398.7" y="353.0" width="1.4" height="1.6" fill="#000"/><rect x="399.3" y="353.0" width="0.9" height="1.4" fill="#000"/><rect x="398.4" y="354.4" width="0.9" height="1.2" fill="#000"/><rect x="399.4" y="353.2" width="1.1" height="1.0" fill="#000"/><rect x="401.9" y="349.0" width="3.9" height="7.5" fill="#00ffff"/><rect x="403.5" y="354.5" width="1.0" height="1.1" fill="#000"/><rect x="402.2" y="351.9" width="0.9" height="1.1" fill="#000"/><rect x="403.9" y="352.7" width="0.9" height="1.0" fill="#000"/><rect x="403.4" y="349.4" width="1.4" height="1.2" fill="#000"/><rect x="403.0" y="352.3" width="1.4" height="1.1" fill="#000"/><rect x="404.0" y="352.8" width="1.4" height="1.3" fill="#000"/><rect x="402.6" y="354.7" width="1.0" height="1.5" fill="#000"/><rect x="404.2" y="351.2" width="1.1" height="1.1" fill="#000"/><rect x="406.5" y="349.0" width="3.9" height="7.5" fill="#00ffff"/><rect x="408.5" y="352.5" width="1.0" height="1.2" fill="#000"/><rect x="408.5" y="350.2" width="1.3" height="1.1" fill="#000"/><rect x="407.8" y="352.3" width="1.4" height="1.4" fill="#000"/><rect x="408.1" y="350.9" width="1.1" height="1.1" fill="#000"/><rect x="409.0" y="350.0" width="1.1" height="1.6" fill="#000"/><rect x="407.2" y="351.6" width="1.1" height="1.5" fill="#000"/><rect x="408.7" y="350.7" width="0.9" height="1.5" fill="#000"/><rect x="411.2" y="349.0" width="3.9" height="7.5" fill="#00ffff"/><rect x="413.5" y="350.7" width="1.3" height="1.5" fill="#000"/><rect x="411.6" y="354.5" width="1.4" height="1.2" fill="#000"/><rect x="412.2" y="351.0" width="0.9" height="1.0" fill="#000"/><rect x="412.3" y="352.1" width="1.5" height="1.6" fill="#000"/><rect x="412.8" y="352.1" width="1.4" height="1.5" fill="#000"/><rect x="413.1" y="352.7" width="0.9" height="1.1" fill="#000"/><rect x="413.4" y="350.3" width="1.4" height="1.6" fill="#000"/><rect x="412.9" y="350.3" width="0.9" height="1.6" fill="#000"/><rect x="415.9" y="349.0" width="3.9" height="7.5" fill="#00ffff"/><rect x="416.9" y="354.6" width="1.4" height="1.4" fill="#000"/><rect x="417.8" y="349.6" width="1.0" height="1.5" fill="#000"/><rect x="416.8" y="354.7" width="1.3" height="1.1" fill="#000"/><rect x="417.8" y="354.8" width="1.1" height="1.2" fill="#000"/><rect x="416.8" y="354.8" width="1.4" height="1.2" fill="#000"/><rect x="418.0" y="352.5" width="1.5" height="1.0" fill="#000"/><rect x="417.8" y="351.5" width="1.1" height="1.0" fill="#000"/><rect x="417.2" y="351.4" width="1.3" height="1.2" fill="#000"/><rect x="420.6" y="349.0" width="3.9" height="7.5" fill="#00ffff"/><rect x="421.1" y="352.0" width="1.3" height="1.6" fill="#000"/><rect x="422.1" y="351.9" width="1.4" height="1.4" fill="#000"/><rect x="422.0" y="351.3" width="1.1" height="1.1" fill="#000"/><rect x="422.5" y="353.3" width="1.3" height="1.1" fill="#000"/><rect x="421.7" y="349.9" width="1.3" height="1.5" fill="#000"/><rect x="422.0" y="350.5" width="1.2" height="1.1" fill="#000"/><rect x="425.3" y="349.0" width="3.9" height="7.5" fill="#00ffff"/><rect x="425.9" y="353.3" width="1.3" height="1.6" fill="#000"/><rect x="427.4" y="352.8" width="1.0" height="1.1" fill="#000"/><rect x="426.7" y="350.4" width="1.4" height="1.6" fill="#000"/><rect x="427.3" y="350.8" width="0.9" height="1.3" fill="#000"/><rect x="426.0" y="353.4" width="0.9" height="1.0" fill="#000"/><rect x="426.2" y="353.4" width="0.9" height="1.1" fill="#000"/><rect x="429.9" y="349.0" width="3.9" height="7.5" fill="#00ffff"/><rect x="432.5" y="355.0" width="0.9" height="1.0" fill="#000"/><rect x="431.5" y="351.1" width="0.9" height="1.2" fill="#000"/><rect x="430.8" y="349.6" width="1.1" height="1.3" fill="#000"/><rect x="430.5" y="353.0" width="0.9" height="1.0" fill="#000"/><rect x="431.8" y="353.5" width="1.3" height="1.1" fill="#000"/><rect x="430.6" y="354.5" width="1.1" height="1.3" fill="#000"/><rect x="434.6" y="349.0" width="3.9" height="7.5" fill="#00ffff"/><rect x="436.6" y="351.6" width="1.4" height="1.5" fill="#000"/><rect x="435.6" y="349.7" width="1.0" height="1.0" fill="#000"/><rect x="435.2" y="354.0" width="1.1" height="1.0" fill="#000"/><rect x="436.7" y="352.8" width="1.1" height="1.3" fill="#000"/><rect x="435.7" y="349.4" width="1.4" height="1.3" fill="#000"/><rect x="436.5" y="352.0" width="1.4" height="1.1" fill="#000"/><rect x="435.9" y="351.2" width="1.3" height="1.3" fill="#000"/><rect x="435.0" y="352.3" width="0.9" height="1.1" fill="#000"/></g>
<polyline points="523.5,346.5 386,346.5 355,370" stroke="#ffffff" stroke-width="1" fill="none" />
<rect x="354" y="369" width="2.5" height="2.5" fill="#ffffff" stroke="none"/>
<text x="458" y="344.3" fill="#00ffff" font-size="10" font-family="Liberation Sans" font-weight="normal" text-anchor="start" textLength="50.5" lengthAdjust="spacingAndGlyphs">(100X100X350)</text>
<text x="458" y="357" fill="#00ffff" font-size="10" font-family="Liberation Sans" font-weight="normal" text-anchor="start" textLength="65.5" lengthAdjust="spacingAndGlyphs">(250X150X12X300)</text>
<line x1="723" y1="391.5" x2="757" y2="391.5" stroke="#ffffff" stroke-width="1" />
<rect x="725.7" y="390" width="4" height="3" fill="#ffffff" stroke="none"/>
<rect x="749.5" y="390" width="4" height="3" fill="#ffffff" stroke="none"/>
<text x="736" y="390.0" fill="#00ffff" stroke="#00ffff" stroke-width="0.35" font-size="8.5" font-family="Liberation Sans" font-weight="bold" text-anchor="start" textLength="7" lengthAdjust="spacingAndGlyphs">500</text>
<line x1="723.5" y1="387" x2="723.5" y2="400" stroke="#ffffff" stroke-width="1" />
<line x1="723.5" y1="432" x2="723.5" y2="451" stroke="#ffffff" stroke-width="1" />
<line x1="755.5" y1="387" x2="755.5" y2="400" stroke="#ffffff" stroke-width="1" />
<line x1="730.5" y1="436" x2="730.5" y2="451" stroke="#ffffff" stroke-width="1" />
<line x1="712" y1="445.5" x2="755" y2="445.5" stroke="#ffffff" stroke-width="1" />
<rect x="717" y="444" width="4" height="3" fill="#ffffff" stroke="none"/>
<rect x="732.7" y="444" width="4" height="3" fill="#ffffff" stroke="none"/>
<text x="743" y="444.0" fill="#00ffff" stroke="#00ffff" stroke-width="0.35" font-size="8.5" font-family="Liberation Sans" font-weight="bold" text-anchor="start" textLength="7" lengthAdjust="spacingAndGlyphs">210</text>
<rect x="187.5" y="534.5" width="62" height="62" stroke="#00ff00" stroke-width="1" fill="none" />
<line x1="196.5" y1="542" x2="196.5" y2="588" stroke="#00ff00" stroke-width="1" />
<line x1="241.5" y1="542" x2="241.5" y2="588" stroke="#00ff00" stroke-width="1" />
<line x1="188" y1="542.5" x2="250" y2="542.5" stroke="#00ff00" stroke-width="1" />
<line x1="188" y1="587.5" x2="250" y2="587.5" stroke="#00ff00" stroke-width="1" />
<line x1="218.5" y1="530" x2="218.5" y2="599" stroke="#ff0000" stroke-width="1" stroke-dasharray="14,2,2,2"/>
<line x1="182" y1="565.5" x2="254" y2="565.5" stroke="#ff0000" stroke-width="1" stroke-dasharray="14,2,2,2"/>
<line x1="189.5" y1="538.5" x2="195.5" y2="538.5" stroke="#ff0000" stroke-width="1" />
<line x1="192.5" y1="535.5" x2="192.5" y2="541.5" stroke="#ff0000" stroke-width="1" />
<line x1="189.5" y1="592.5" x2="195.5" y2="592.5" stroke="#ff0000" stroke-width="1" />
<line x1="192.5" y1="589.5" x2="192.5" y2="595.5" stroke="#ff0000" stroke-width="1" />
<line x1="206.5" y1="538.5" x2="212.5" y2="538.5" stroke="#ff0000" stroke-width="1" />
<line x1="209.5" y1="535.5" x2="209.5" y2="541.5" stroke="#ff0000" stroke-width="1" />
<line x1="206.5" y1="592.5" x2="212.5" y2="592.5" stroke="#ff0000" stroke-width="1" />
<line x1="209.5" y1="589.5" x2="209.5" y2="595.5" stroke="#ff0000" stroke-width="1" />
<line x1="224.5" y1="538.5" x2="230.5" y2="538.5" stroke="#ff0000" stroke-width="1" />
<line x1="227.5" y1="535.5" x2="227.5" y2="541.5" stroke="#ff0000" stroke-width="1" />
<line x1="224.5" y1="592.5" x2="230.5" y2="592.5" stroke="#ff0000" stroke-width="1" />
<line x1="227.5" y1="589.5" x2="227.5" y2="595.5" stroke="#ff0000" stroke-width="1" />
<line x1="242.5" y1="538.5" x2="248.5" y2="538.5" stroke="#ff0000" stroke-width="1" />
<line x1="245.5" y1="535.5" x2="245.5" y2="541.5" stroke="#ff0000" stroke-width="1" />
<line x1="242.5" y1="592.5" x2="248.5" y2="592.5" stroke="#ff0000" stroke-width="1" />
<line x1="245.5" y1="589.5" x2="245.5" y2="595.5" stroke="#ff0000" stroke-width="1" />
<line x1="189.5" y1="555.5" x2="195.5" y2="555.5" stroke="#ff0000" stroke-width="1" />
<line x1="192.5" y1="552.5" x2="192.5" y2="558.5" stroke="#ff0000" stroke-width="1" />
<line x1="242.5" y1="555.5" x2="248.5" y2="555.5" stroke="#ff0000" stroke-width="1" />
<line x1="245.5" y1="552.5" x2="245.5" y2="558.5" stroke="#ff0000" stroke-width="1" />
<line x1="189.5" y1="574.5" x2="195.5" y2="574.5" stroke="#ff0000" stroke-width="1" />
<line x1="192.5" y1="571.5" x2="192.5" y2="577.5" stroke="#ff0000" stroke-width="1" />
<line x1="242.5" y1="574.5" x2="248.5" y2="574.5" stroke="#ff0000" stroke-width="1" />
<line x1="245.5" y1="571.5" x2="245.5" y2="577.5" stroke="#ff0000" stroke-width="1" />
<line x1="180" y1="523.5" x2="258" y2="523.5" stroke="#ffffff" stroke-width="1" />
<rect x="185.3" y="522" width="4" height="3" fill="#ffffff" stroke="none"/>
<rect x="248" y="522" width="4" height="3" fill="#ffffff" stroke="none"/>
<text x="208" y="522.0" fill="#00ffff" stroke="#00ffff" stroke-width="0.35" font-size="8.5" font-family="Liberation Sans" font-weight="bold" text-anchor="start" textLength="22" lengthAdjust="spacingAndGlyphs">3X160=480</text>
<line x1="191.5" y1="518" x2="191.5" y2="538" stroke="#ffffff" stroke-width="1" />
<line x1="245.5" y1="518" x2="245.5" y2="538" stroke="#ffffff" stroke-width="1" />
<line x1="165.5" y1="534" x2="165.5" y2="598" stroke="#ffffff" stroke-width="1" />
<rect x="164" y="536" width="3" height="4" fill="#ffffff" stroke="none"/>
<rect x="164" y="590" width="3" height="4" fill="#ffffff" stroke="none"/>
<line x1="160" y1="534.5" x2="188" y2="534.5" stroke="#ffffff" stroke-width="1" />
<line x1="160" y1="596.5" x2="188" y2="596.5" stroke="#ffffff" stroke-width="1" />
<text x="163" y="570" fill="#00ffff" stroke="#00ffff" stroke-width="0.35" font-size="7" font-family="Liberation Sans" font-weight="bold" text-anchor="start" textLength="8" lengthAdjust="spacingAndGlyphs" transform="rotate(-90 163 570)">570</text>
<line x1="176.5" y1="542" x2="176.5" y2="589" stroke="#ffffff" stroke-width="1" />
<rect x="175" y="544.4" width="3" height="4" fill="#ffffff" stroke="none"/>
<rect x="175" y="581" width="3" height="4" fill="#ffffff" stroke="none"/>
<line x1="171" y1="542.5" x2="197" y2="542.5" stroke="#ffffff" stroke-width="1" />
<line x1="171" y1="587.5" x2="197" y2="587.5" stroke="#ffffff" stroke-width="1" />
<text x="174" y="570" fill="#00ffff" stroke="#00ffff" stroke-width="0.35" font-size="7" font-family="Liberation Sans" font-weight="bold" text-anchor="start" textLength="8" lengthAdjust="spacingAndGlyphs" transform="rotate(-90 174 570)">400</text>
<line x1="261.5" y1="526" x2="261.5" y2="606" stroke="#ffffff" stroke-width="1" />
<rect x="260" y="531" width="3" height="4" fill="#ffffff" stroke="none"/>
<rect x="260" y="594.5" width="3" height="4" fill="#ffffff" stroke="none"/>
<line x1="251" y1="538.5" x2="267" y2="538.5" stroke="#ffffff" stroke-width="1" />
<line x1="251" y1="592.5" x2="267" y2="592.5" stroke="#ffffff" stroke-width="1" />
<text x="259" y="578" fill="#00ffff" stroke="#00ffff" stroke-width="0.35" font-size="7" font-family="Liberation Sans" font-weight="bold" text-anchor="start" textLength="22" lengthAdjust="spacingAndGlyphs" transform="rotate(-90 259 578)">3X160=480</text>
<line x1="196" y1="607.5" x2="242" y2="607.5" stroke="#ffffff" stroke-width="1" />
<rect x="199" y="606" width="4" height="3" fill="#ffffff" stroke="none"/>
<rect x="235" y="606" width="4" height="3" fill="#ffffff" stroke="none"/>
<text x="214.5" y="606.0" fill="#00ffff" stroke="#00ffff" stroke-width="0.35" font-size="8.5" font-family="Liberation Sans" font-weight="bold" text-anchor="start" textLength="7.5" lengthAdjust="spacingAndGlyphs">400</text>
<line x1="196.5" y1="588" x2="196.5" y2="613" stroke="#ffffff" stroke-width="1" />
<line x1="241.5" y1="588" x2="241.5" y2="613" stroke="#ffffff" stroke-width="1" />
<line x1="187" y1="618.5" x2="251" y2="618.5" stroke="#ffffff" stroke-width="1" />
<rect x="190" y="617" width="4" height="3" fill="#ffffff" stroke="none"/>
<rect x="242.7" y="617" width="4" height="3" fill="#ffffff" stroke="none"/>
<text x="214.5" y="617.5" fill="#00ffff" stroke="#00ffff" stroke-width="0.35" font-size="8.5" font-family="Liberation Sans" font-weight="bold" text-anchor="start" textLength="7.5" lengthAdjust="spacingAndGlyphs">530</text>
<line x1="187.5" y1="597" x2="187.5" y2="625" stroke="#ffffff" stroke-width="1" />
<line x1="250.5" y1="597" x2="250.5" y2="625" stroke="#ffffff" stroke-width="1" />
<text x="158" y="617" fill="#00ffff" stroke="#00ffff" stroke-width="0.35" font-size="7" font-family="Liberation Sans" font-weight="bold" text-anchor="start" textLength="14" lengthAdjust="spacingAndGlyphs">12-Φ18</text>
<polyline points="153,618.5 180,618.5 220,583" stroke="#ffffff" stroke-width="1" fill="none" />
<rect x="219" y="582" width="2.5" height="2.5" fill="#ffffff" stroke="none"/>
<g><rect x="199.0" y="632.4" width="3.6" height="7.5" fill="#00ffff"/><rect x="200.4" y="637.6" width="1.2" height="1.4" fill="#000"/><rect x="200.7" y="634.2" width="0.9" height="1.1" fill="#000"/><rect x="200.9" y="637.5" width="0.9" height="1.1" fill="#000"/><rect x="200.8" y="634.3" width="1.2" height="1.6" fill="#000"/><rect x="199.4" y="636.0" width="1.0" height="1.4" fill="#000"/><rect x="200.4" y="633.6" width="0.8" height="1.0" fill="#000"/><rect x="203.4" y="632.4" width="3.6" height="7.5" fill="#00ffff"/><rect x="204.0" y="633.4" width="1.3" height="1.2" fill="#000"/><rect x="204.4" y="636.7" width="1.1" height="1.3" fill="#000"/><rect x="203.9" y="633.1" width="1.1" height="1.5" fill="#000"/><rect x="204.2" y="636.5" width="1.0" height="1.3" fill="#000"/><rect x="204.7" y="636.8" width="0.9" height="1.1" fill="#000"/><rect x="204.5" y="638.0" width="1.2" height="1.2" fill="#000"/><rect x="203.8" y="635.2" width="1.3" height="1.4" fill="#000"/><rect x="203.7" y="638.4" width="1.2" height="1.1" fill="#000"/><rect x="207.8" y="632.4" width="3.6" height="7.5" fill="#00ffff"/><rect x="209.4" y="634.4" width="0.9" height="1.2" fill="#000"/><rect x="209.8" y="635.1" width="0.8" height="1.5" fill="#000"/><rect x="208.3" y="638.2" width="0.8" height="1.2" fill="#000"/><rect x="209.8" y="633.5" width="0.8" height="1.1" fill="#000"/><rect x="208.4" y="635.8" width="0.9" height="1.0" fill="#000"/><rect x="208.4" y="637.2" width="1.3" height="1.0" fill="#000"/><rect x="208.3" y="634.1" width="1.0" height="1.2" fill="#000"/><rect x="208.5" y="637.1" width="1.4" height="1.0" fill="#000"/><rect x="212.2" y="632.4" width="3.6" height="7.5" fill="#00ffff"/><rect x="214.2" y="636.1" width="1.3" height="1.3" fill="#000"/><rect x="214.0" y="636.8" width="1.0" height="1.2" fill="#000"/><rect x="214.6" y="633.3" width="0.9" height="1.0" fill="#000"/><rect x="212.9" y="634.2" width="1.3" height="1.2" fill="#000"/><rect x="212.8" y="637.2" width="1.1" height="1.6" fill="#000"/><rect x="214.0" y="634.7" width="1.0" height="1.0" fill="#000"/><rect x="214.2" y="637.6" width="0.9" height="1.2" fill="#000"/><rect x="214.0" y="636.3" width="1.1" height="1.0" fill="#000"/><rect x="216.6" y="632.4" width="3.6" height="7.5" fill="#00ffff"/><rect x="218.4" y="637.4" width="1.3" height="1.1" fill="#000"/><rect x="217.7" y="634.7" width="0.9" height="1.2" fill="#000"/><rect x="217.3" y="638.0" width="1.0" height="1.0" fill="#000"/><rect x="218.7" y="636.9" width="1.0" height="1.4" fill="#000"/><rect x="218.6" y="638.0" width="0.9" height="1.6" fill="#000"/><rect x="218.4" y="634.1" width="1.2" height="1.5" fill="#000"/><rect x="221.0" y="632.4" width="3.6" height="7.5" fill="#00ffff"/><rect x="221.9" y="634.1" width="1.0" height="1.2" fill="#000"/><rect x="221.3" y="637.6" width="1.2" height="1.4" fill="#000"/><rect x="222.9" y="637.6" width="0.9" height="1.1" fill="#000"/><rect x="222.2" y="637.6" width="1.3" height="1.6" fill="#000"/><rect x="223.1" y="637.8" width="1.2" height="1.5" fill="#000"/><rect x="222.8" y="637.4" width="1.1" height="1.2" fill="#000"/><rect x="221.4" y="633.4" width="1.2" height="1.2" fill="#000"/><rect x="221.3" y="634.7" width="1.3" height="1.6" fill="#000"/><rect x="225.4" y="632.4" width="3.6" height="7.5" fill="#00ffff"/><rect x="226.1" y="635.2" width="0.8" height="1.5" fill="#000"/><rect x="227.6" y="634.4" width="1.0" height="1.5" fill="#000"/><rect x="226.6" y="637.5" width="1.2" height="1.6" fill="#000"/><rect x="227.3" y="636.0" width="1.2" height="1.1" fill="#000"/><rect x="227.5" y="635.6" width="0.9" height="1.3" fill="#000"/><rect x="227.4" y="636.5" width="1.1" height="1.2" fill="#000"/><rect x="226.5" y="638.2" width="0.9" height="1.2" fill="#000"/><rect x="227.4" y="632.9" width="1.2" height="1.0" fill="#000"/></g>
<line x1="198" y1="641.5" x2="245" y2="641.5" stroke="#ffffff" stroke-width="1" />
<text x="210" y="652" fill="#00ffff" font-size="11" font-family="Liberation Sans" font-weight="normal" text-anchor="start" textLength="22" lengthAdjust="spacingAndGlyphs">1 : 20</text>
<rect x="353.5" y="543.5" width="166" height="40" stroke="#00ff00" stroke-width="1" fill="none" />
<line x1="361.5" y1="543" x2="361.5" y2="584" stroke="#00ff00" stroke-width="1" />
<line x1="511.5" y1="543" x2="511.5" y2="584" stroke="#00ff00" stroke-width="1" />
<line x1="361" y1="552.5" x2="512" y2="552.5" stroke="#00ff00" stroke-width="1" />
<line x1="361" y1="560.5" x2="512" y2="560.5" stroke="#00ff00" stroke-width="1" />
<line x1="361" y1="563.5" x2="512" y2="563.5" stroke="#00ff00" stroke-width="1" />
<line x1="361" y1="566.5" x2="512" y2="566.5" stroke="#00ff00" stroke-width="1" />
<line x1="361" y1="574.5" x2="512" y2="574.5" stroke="#00ff00" stroke-width="1" />
<line x1="435.5" y1="539" x2="435.5" y2="589" stroke="#ffff00" stroke-width="1" />
<line x1="437.5" y1="539" x2="437.5" y2="589" stroke="#ffff00" stroke-width="1" />
<line x1="354.5" y1="547.5" x2="360.5" y2="547.5" stroke="#ff0000" stroke-width="1" />
<line x1="357.5" y1="544.5" x2="357.5" y2="550.5" stroke="#ff0000" stroke-width="1" />
<line x1="354.5" y1="579.5" x2="360.5" y2="579.5" stroke="#ff0000" stroke-width="1" />
<line x1="357.5" y1="576.5" x2="357.5" y2="582.5" stroke="#ff0000" stroke-width="1" />
<line x1="370.5" y1="547.5" x2="376.5" y2="547.5" stroke="#ff0000" stroke-width="1" />
<line x1="373.5" y1="544.5" x2="373.5" y2="550.5" stroke="#ff0000" stroke-width="1" />
<line x1="370.5" y1="579.5" x2="376.5" y2="579.5" stroke="#ff0000" stroke-width="1" />
<line x1="373.5" y1="576.5" x2="373.5" y2="582.5" stroke="#ff0000" stroke-width="1" />
<line x1="386.5" y1="547.5" x2="392.5" y2="547.5" stroke="#ff0000" stroke-width="1" />
<line x1="389.5" y1="544.5" x2="389.5" y2="550.5" stroke="#ff0000" stroke-width="1" />
<line x1="386.5" y1="579.5" x2="392.5" y2="579.5" stroke="#ff0000" stroke-width="1" />
<line x1="389.5" y1="576.5" x2="389.5" y2="582.5" stroke="#ff0000" stroke-width="1" />
<line x1="401.5" y1="547.5" x2="407.5" y2="547.5" stroke="#ff0000" stroke-width="1" />
<line x1="404.5" y1="544.5" x2="404.5" y2="550.5" stroke="#ff0000" stroke-width="1" />
<line x1="401.5" y1="579.5" x2="407.5" y2="579.5" stroke="#ff0000" stroke-width="1" />
<line x1="404.5" y1="576.5" x2="404.5" y2="582.5" stroke="#ff0000" stroke-width="1" />
<line x1="417.5" y1="547.5" x2="423.5" y2="547.5" stroke="#ff0000" stroke-width="1" />
<line x1="420.5" y1="544.5" x2="420.5" y2="550.5" stroke="#ff0000" stroke-width="1" />
<line x1="417.5" y1="579.5" x2="423.5" y2="579.5" stroke="#ff0000" stroke-width="1" />
<line x1="420.5" y1="576.5" x2="420.5" y2="582.5" stroke="#ff0000" stroke-width="1" />
<line x1="449.5" y1="547.5" x2="455.5" y2="547.5" stroke="#ff0000" stroke-width="1" />
<line x1="452.5" y1="544.5" x2="452.5" y2="550.5" stroke="#ff0000" stroke-width="1" />
<line x1="449.5" y1="579.5" x2="455.5" y2="579.5" stroke="#ff0000" stroke-width="1" />
<line x1="452.5" y1="576.5" x2="452.5" y2="582.5" stroke="#ff0000" stroke-width="1" />
<line x1="465.5" y1="547.5" x2="471.5" y2="547.5" stroke="#ff0000" stroke-width="1" />
<line x1="468.5" y1="544.5" x2="468.5" y2="550.5" stroke="#ff0000" stroke-width="1" />
<line x1="465.5" y1="579.5" x2="471.5" y2="579.5" stroke="#ff0000" stroke-width="1" />
<line x1="468.5" y1="576.5" x2="468.5" y2="582.5" stroke="#ff0000" stroke-width="1" />
<line x1="480.5" y1="547.5" x2="486.5" y2="547.5" stroke="#ff0000" stroke-width="1" />
<line x1="483.5" y1="544.5" x2="483.5" y2="550.5" stroke="#ff0000" stroke-width="1" />
<line x1="480.5" y1="579.5" x2="486.5" y2="579.5" stroke="#ff0000" stroke-width="1" />
<line x1="483.5" y1="576.5" x2="483.5" y2="582.5" stroke="#ff0000" stroke-width="1" />
<line x1="496.5" y1="547.5" x2="502.5" y2="547.5" stroke="#ff0000" stroke-width="1" />
<line x1="499.5" y1="544.5" x2="499.5" y2="550.5" stroke="#ff0000" stroke-width="1" />
<line x1="496.5" y1="579.5" x2="502.5" y2="579.5" stroke="#ff0000" stroke-width="1" />
<line x1="499.5" y1="576.5" x2="499.5" y2="582.5" stroke="#ff0000" stroke-width="1" />
<line x1="512.5" y1="547.5" x2="518.5" y2="547.5" stroke="#ff0000" stroke-width="1" />
<line x1="515.5" y1="544.5" x2="515.5" y2="550.5" stroke="#ff0000" stroke-width="1" />
<line x1="512.5" y1="579.5" x2="518.5" y2="579.5" stroke="#ff0000" stroke-width="1" />
<line x1="515.5" y1="576.5" x2="515.5" y2="582.5" stroke="#ff0000" stroke-width="1" />
<line x1="352" y1="563.5" x2="363" y2="563.5" stroke="#ff0000" stroke-width="1" />
<line x1="357.5" y1="558" x2="357.5" y2="569" stroke="#ff0000" stroke-width="1" />
<line x1="512.5" y1="563.5" x2="518.5" y2="563.5" stroke="#ff0000" stroke-width="1" />
<line x1="515.5" y1="560.5" x2="515.5" y2="566.5" stroke="#ff0000" stroke-width="1" />
<line x1="353" y1="521.5" x2="520" y2="521.5" stroke="#ffffff" stroke-width="1" />
<rect x="355.4" y="520" width="4" height="3" fill="#ffffff" stroke="none"/>
<rect x="513" y="520" width="4" height="3" fill="#ffffff" stroke="none"/>
<text x="432" y="520.0" fill="#00ffff" stroke="#00ffff" stroke-width="0.35" font-size="8.5" font-family="Liberation Sans" font-weight="bold" text-anchor="start" textLength="9" lengthAdjust="spacingAndGlyphs">3300</text>
<line x1="353.5" y1="516" x2="353.5" y2="544" stroke="#ffffff" stroke-width="1" />
<line x1="519.5" y1="516" x2="519.5" y2="544" stroke="#ffffff" stroke-width="1" />
<line x1="361" y1="532.5" x2="512" y2="532.5" stroke="#ffffff" stroke-width="1" />
<rect x="364" y="531" width="4" height="3" fill="#ffffff" stroke="none"/>
<rect x="505" y="531" width="4" height="3" fill="#ffffff" stroke="none"/>
<text x="432" y="531.0" fill="#00ffff" stroke="#00ffff" stroke-width="0.35" font-size="8.5" font-family="Liberation Sans" font-weight="bold" text-anchor="start" textLength="9" lengthAdjust="spacingAndGlyphs">2200</text>
<line x1="361.5" y1="527" x2="361.5" y2="544" stroke="#ffffff" stroke-width="1" />
<line x1="511.5" y1="527" x2="511.5" y2="544" stroke="#ffffff" stroke-width="1" />
<line x1="357" y1="605.5" x2="516" y2="605.5" stroke="#ffffff" stroke-width="1" />
<rect x="360" y="604" width="4" height="3" fill="#ffffff" stroke="none"/>
<rect x="509" y="604" width="4" height="3" fill="#ffffff" stroke="none"/>
<text x="423" y="604.0" fill="#00ffff" stroke="#00ffff" stroke-width="0.35" font-size="8.5" font-family="Liberation Sans" font-weight="bold" text-anchor="start" textLength="27" lengthAdjust="spacingAndGlyphs">14X150=2100</text>
<line x1="357.5" y1="580" x2="357.5" y2="611" stroke="#ffffff" stroke-width="1" />
<line x1="515.5" y1="580" x2="515.5" y2="611" stroke="#ffffff" stroke-width="1" />
<line x1="345" y1="594.5" x2="387" y2="594.5" stroke="#ffffff" stroke-width="1" />
<rect x="350.4" y="593" width="4" height="3" fill="#ffffff" stroke="none"/>
<rect x="376" y="593" width="4" height="3" fill="#ffffff" stroke="none"/>
<text x="362" y="593.0" fill="#00ffff" stroke="#00ffff" stroke-width="0.35" font-size="8.5" font-family="Liberation Sans" font-weight="bold" text-anchor="start" textLength="6.5" lengthAdjust="spacingAndGlyphs">115</text>
<line x1="373.5" y1="580" x2="373.5" y2="600" stroke="#ffffff" stroke-width="1" />
<line x1="330.5" y1="543" x2="330.5" y2="584" stroke="#ffffff" stroke-width="1" />
<rect x="329" y="545.4" width="3" height="4" fill="#ffffff" stroke="none"/>
<rect x="329" y="576.4" width="3" height="4" fill="#ffffff" stroke="none"/>
<text x="328" y="567" fill="#00ffff" stroke="#00ffff" stroke-width="0.35" font-size="7" font-family="Liberation Sans" font-weight="bold" text-anchor="start" textLength="9" lengthAdjust="spacingAndGlyphs" transform="rotate(-90 328 567)">310</text>
<line x1="341.5" y1="540" x2="341.5" y2="587" stroke="#ffffff" stroke-width="1" />
<rect x="340" y="545.4" width="3" height="4" fill="#ffffff" stroke="none"/>
<rect x="340" y="576.4" width="3" height="4" fill="#ffffff" stroke="none"/>
<text x="339" y="567" fill="#00ffff" stroke="#00ffff" stroke-width="0.35" font-size="7" font-family="Liberation Sans" font-weight="bold" text-anchor="start" textLength="9" lengthAdjust="spacingAndGlyphs" transform="rotate(-90 339 567)">150</text>
<line x1="325" y1="543.5" x2="353" y2="543.5" stroke="#ffffff" stroke-width="1" />
<line x1="336" y1="552.5" x2="361" y2="552.5" stroke="#ffffff" stroke-width="1" />
<line x1="336" y1="574.5" x2="361" y2="574.5" stroke="#ffffff" stroke-width="1" />
<line x1="325" y1="583.5" x2="353" y2="583.5" stroke="#ffffff" stroke-width="1" />
<line x1="520" y1="547.5" x2="531" y2="547.5" stroke="#ffffff" stroke-width="1" />
<line x1="520" y1="579.5" x2="531" y2="579.5" stroke="#ffffff" stroke-width="1" />
<line x1="529.5" y1="541" x2="529.5" y2="585" stroke="#ffffff" stroke-width="1" />
<text x="527" y="560" fill="#00ffff" stroke="#00ffff" stroke-width="0.35" font-size="7" font-family="Liberation Sans" font-weight="bold" text-anchor="start" textLength="7" lengthAdjust="spacingAndGlyphs" transform="rotate(-90 527 560)">115</text>
<text x="527" y="575" fill="#00ffff" stroke="#00ffff" stroke-width="0.35" font-size="7" font-family="Liberation Sans" font-weight="bold" text-anchor="start" textLength="7" lengthAdjust="spacingAndGlyphs" transform="rotate(-90 527 575)">115</text>
<g><rect x="309.0" y="512.0" width="3.9" height="7.0" fill="#00ffff"/><rect x="309.6" y="517.7" width="1.2" height="1.0" fill="#000"/><rect x="310.5" y="516.3" width="1.0" height="1.0" fill="#000"/><rect x="310.7" y="512.6" width="0.9" height="1.4" fill="#000"/><rect x="310.9" y="513.1" width="1.1" height="1.5" fill="#000"/><rect x="310.1" y="514.1" width="1.3" height="1.0" fill="#000"/><rect x="311.1" y="514.9" width="1.5" height="1.2" fill="#000"/><rect x="311.1" y="515.6" width="1.3" height="1.0" fill="#000"/><rect x="311.3" y="513.1" width="1.1" height="1.4" fill="#000"/><rect x="313.7" y="512.0" width="3.9" height="7.0" fill="#00ffff"/><rect x="315.5" y="516.8" width="1.4" height="1.2" fill="#000"/><rect x="314.4" y="512.4" width="1.1" height="1.5" fill="#000"/><rect x="315.9" y="517.0" width="1.2" height="1.5" fill="#000"/><rect x="315.2" y="513.0" width="1.2" height="1.5" fill="#000"/><rect x="314.9" y="515.3" width="1.3" height="1.4" fill="#000"/><rect x="315.0" y="515.1" width="1.0" height="1.0" fill="#000"/><rect x="318.4" y="512.0" width="3.9" height="7.0" fill="#00ffff"/><rect x="320.6" y="516.8" width="0.9" height="1.4" fill="#000"/><rect x="320.0" y="513.5" width="1.0" height="1.4" fill="#000"/><rect x="319.0" y="517.0" width="1.4" height="1.0" fill="#000"/><rect x="318.9" y="514.6" width="1.5" height="1.3" fill="#000"/><rect x="320.5" y="514.6" width="1.2" height="1.0" fill="#000"/><rect x="318.7" y="516.8" width="1.2" height="1.2" fill="#000"/><rect x="319.8" y="514.3" width="1.4" height="1.5" fill="#000"/><rect x="323.1" y="512.0" width="3.9" height="7.0" fill="#00ffff"/><rect x="325.6" y="514.0" width="1.1" height="1.3" fill="#000"/><rect x="323.8" y="513.2" width="1.3" height="1.0" fill="#000"/><rect x="324.1" y="513.1" width="1.1" height="1.3" fill="#000"/><rect x="323.8" y="514.0" width="1.0" height="1.0" fill="#000"/><rect x="324.4" y="514.7" width="1.2" height="1.0" fill="#000"/><rect x="325.2" y="514.8" width="1.5" height="1.2" fill="#000"/><rect x="323.7" y="513.2" width="1.0" height="1.3" fill="#000"/></g>
<polyline points="308,521.5 337,521.5 388,563.6" stroke="#ffffff" stroke-width="1" fill="none" />
<rect x="387" y="562.6" width="2.5" height="2.5" fill="#ffffff" stroke="none"/>
<text x="475" y="592.4" fill="#00ffff" stroke="#00ffff" stroke-width="0.35" font-size="7" font-family="Liberation Sans" font-weight="bold" text-anchor="start" textLength="15" lengthAdjust="spacingAndGlyphs">44-Φ18</text>
<polyline points="495.6,594.5 467,594.5 442,570" stroke="#ffffff" stroke-width="1" fill="none" />
<rect x="441" y="569" width="2.5" height="2.5" fill="#ffffff" stroke="none"/>
<g><rect x="416.4" y="632.4" width="3.5" height="7.5" fill="#00ffff"/><rect x="416.8" y="633.3" width="1.0" height="1.2" fill="#000"/><rect x="417.9" y="637.5" width="1.2" height="1.2" fill="#000"/><rect x="418.2" y="635.8" width="1.1" height="1.2" fill="#000"/><rect x="417.7" y="635.5" width="0.8" height="1.5" fill="#000"/><rect x="418.4" y="636.1" width="1.2" height="1.4" fill="#000"/><rect x="418.2" y="632.7" width="0.9" height="1.4" fill="#000"/><rect x="420.7" y="632.4" width="3.5" height="7.5" fill="#00ffff"/><rect x="422.8" y="637.2" width="0.9" height="1.2" fill="#000"/><rect x="421.6" y="637.9" width="1.1" height="1.4" fill="#000"/><rect x="421.3" y="633.4" width="1.1" height="1.2" fill="#000"/><rect x="421.0" y="634.4" width="1.3" height="1.5" fill="#000"/><rect x="421.7" y="637.7" width="1.0" height="1.3" fill="#000"/><rect x="422.8" y="636.3" width="1.0" height="1.3" fill="#000"/><rect x="421.7" y="636.2" width="1.0" height="1.1" fill="#000"/><rect x="421.6" y="635.0" width="1.2" height="1.1" fill="#000"/><rect x="425.0" y="632.4" width="3.5" height="7.5" fill="#00ffff"/><rect x="425.2" y="637.6" width="1.2" height="1.4" fill="#000"/><rect x="427.2" y="634.8" width="0.9" height="1.3" fill="#000"/><rect x="426.9" y="633.5" width="0.8" height="1.1" fill="#000"/><rect x="426.1" y="633.4" width="0.9" height="1.1" fill="#000"/><rect x="425.4" y="633.5" width="1.3" height="1.6" fill="#000"/><rect x="426.7" y="633.5" width="1.1" height="1.6" fill="#000"/><rect x="426.1" y="637.0" width="1.2" height="1.0" fill="#000"/><rect x="429.3" y="632.4" width="3.5" height="7.5" fill="#00ffff"/><rect x="431.2" y="635.9" width="0.8" height="1.6" fill="#000"/><rect x="429.6" y="633.5" width="1.3" height="1.0" fill="#000"/><rect x="430.9" y="633.3" width="0.8" height="1.4" fill="#000"/><rect x="430.9" y="636.6" width="0.9" height="1.0" fill="#000"/><rect x="431.2" y="635.2" width="1.3" height="1.2" fill="#000"/><rect x="430.0" y="638.3" width="1.0" height="1.1" fill="#000"/><rect x="429.8" y="633.7" width="1.3" height="1.4" fill="#000"/><rect x="433.6" y="632.4" width="3.5" height="7.5" fill="#00ffff"/><rect x="435.0" y="635.2" width="1.2" height="1.4" fill="#000"/><rect x="435.3" y="635.6" width="1.1" height="1.6" fill="#000"/><rect x="434.6" y="632.9" width="1.3" height="1.0" fill="#000"/><rect x="434.8" y="633.5" width="1.1" height="1.4" fill="#000"/><rect x="435.0" y="635.4" width="0.8" height="1.5" fill="#000"/><rect x="435.0" y="635.6" width="1.2" height="1.0" fill="#000"/><rect x="437.9" y="632.4" width="3.5" height="7.5" fill="#00ffff"/><rect x="439.7" y="635.1" width="1.1" height="1.0" fill="#000"/><rect x="439.5" y="635.0" width="1.1" height="1.3" fill="#000"/><rect x="439.7" y="636.0" width="1.3" height="1.6" fill="#000"/><rect x="438.7" y="637.9" width="0.9" height="1.2" fill="#000"/><rect x="439.6" y="638.1" width="1.2" height="1.5" fill="#000"/><rect x="439.6" y="634.2" width="1.2" height="1.1" fill="#000"/><rect x="439.8" y="635.6" width="1.1" height="1.0" fill="#000"/><rect x="438.3" y="637.6" width="0.9" height="1.6" fill="#000"/></g>
<line x1="416" y1="642.5" x2="454" y2="642.5" stroke="#ffffff" stroke-width="1" />
<text x="422.4" y="653" fill="#00ffff" font-size="11" font-family="Liberation Sans" font-weight="normal" text-anchor="start" textLength="22.5" lengthAdjust="spacingAndGlyphs">1 : 20</text>
<clipPath id="cc"><circle cx="684.4" cy="546.5" r="72.5"/></clipPath>
<g clip-path="url(#cc)">
<line x1="610" y1="491.5" x2="761" y2="491.5" stroke="#00ff00" stroke-width="1" />
<line x1="610" y1="494.5" x2="761" y2="494.5" stroke="#00ff00" stroke-width="1" />
<line x1="610" y1="497.5" x2="761" y2="497.5" stroke="#00ff00" stroke-width="1" />
<defs><pattern id="hat2" width="4.3" height="4.3" patternUnits="userSpaceOnUse" patternTransform="rotate(45)"><rect width="4.3" height="4.3" fill="#000"/><rect width="1" height="4.3" fill="#fff"/></pattern></defs>
<clipPath id="hc11"><path d="M656.5,498 L703,498 L703,500 L698,506.5 L670,507 L662.5,514 L662.5,590 L656.5,596 Z"/></clipPath><g clip-path="url(#hc11)" stroke="#ffffff" stroke-width="1"><line x1="556.0" y1="597" x2="656.0" y2="497"/><line x1="562.0" y1="597" x2="662.0" y2="497"/><line x1="568.0" y1="597" x2="668.0" y2="497"/><line x1="574.0" y1="597" x2="674.0" y2="497"/><line x1="580.0" y1="597" x2="680.0" y2="497"/><line x1="586.0" y1="597" x2="686.0" y2="497"/><line x1="592.0" y1="597" x2="692.0" y2="497"/><line x1="598.0" y1="597" x2="698.0" y2="497"/><line x1="604.0" y1="597" x2="704.0" y2="497"/><line x1="610.0" y1="597" x2="710.0" y2="497"/><line x1="616.0" y1="597" x2="716.0" y2="497"/><line x1="622.0" y1="597" x2="722.0" y2="497"/><line x1="628.0" y1="597" x2="728.0" y2="497"/><line x1="634.0" y1="597" x2="734.0" y2="497"/><line x1="640.0" y1="597" x2="740.0" y2="497"/><line x1="646.0" y1="597" x2="746.0" y2="497"/><line x1="652.0" y1="597" x2="752.0" y2="497"/><line x1="658.0" y1="597" x2="758.0" y2="497"/><line x1="664.0" y1="597" x2="764.0" y2="497"/><line x1="670.0" y1="597" x2="770.0" y2="497"/><line x1="676.0" y1="597" x2="776.0" y2="497"/><line x1="682.0" y1="597" x2="782.0" y2="497"/><line x1="688.0" y1="597" x2="788.0" y2="497"/><line x1="694.0" y1="597" x2="794.0" y2="497"/><line x1="700.0" y1="597" x2="800.0" y2="497"/><line x1="706.0" y1="597" x2="806.0" y2="497"/><line x1="712.0" y1="597" x2="812.0" y2="497"/><line x1="718.0" y1="597" x2="818.0" y2="497"/><line x1="724.0" y1="597" x2="824.0" y2="497"/><line x1="730.0" y1="597" x2="830.0" y2="497"/><line x1="736.0" y1="597" x2="836.0" y2="497"/><line x1="742.0" y1="597" x2="842.0" y2="497"/><line x1="748.0" y1="597" x2="848.0" y2="497"/><line x1="754.0" y1="597" x2="854.0" y2="497"/><line x1="760.0" y1="597" x2="860.0" y2="497"/><line x1="766.0" y1="597" x2="866.0" y2="497"/><line x1="772.0" y1="597" x2="872.0" y2="497"/><line x1="778.0" y1="597" x2="878.0" y2="497"/><line x1="784.0" y1="597" x2="884.0" y2="497"/><line x1="790.0" y1="597" x2="890.0" y2="497"/><line x1="796.0" y1="597" x2="896.0" y2="497"/><line x1="802.0" y1="597" x2="902.0" y2="497"/></g>
<path d="M656.5,498 L703,498 L703,500 L698,506.5 L670,507 L662.5,514 L662.5,590 L656.5,596 Z" fill="none" stroke="#00ff00" stroke-width="1"/>
<rect x="666.5" y="560.5" width="36" height="17.5" stroke="#00ff00" stroke-width="1" fill="none" />
<line x1="674.5" y1="560" x2="674.5" y2="579" stroke="#00ff00" stroke-width="1" />
<line x1="693.5" y1="560" x2="693.5" y2="579" stroke="#00ff00" stroke-width="1" />
<rect x="673.5" y="552.5" width="21" height="8" stroke="#00ff00" stroke-width="1" fill="none" />
<rect x="667.5" y="578.5" width="33" height="4.5" stroke="#00ff00" stroke-width="1" fill="none" />
<rect x="663.5" y="584.5" width="40" height="4.5" stroke="#00ff00" stroke-width="1" fill="none" />
<line x1="673.5" y1="589" x2="673.5" y2="621" stroke="#00ff00" stroke-width="1" />
<line x1="695.5" y1="589" x2="695.5" y2="621" stroke="#00ff00" stroke-width="1" />
<line x1="610" y1="596.5" x2="761" y2="596.5" stroke="#00ff00" stroke-width="1" />
<g fill="#00ff00"><rect x="654" y="610" width="1" height="1"/><rect x="670" y="608" width="1" height="1"/><rect x="656" y="611" width="1" height="1"/><rect x="646" y="609" width="1" height="1"/><rect x="660" y="615" width="1" height="1"/><rect x="643" y="605" width="1" height="1"/><rect x="643" y="616" width="1" height="1"/><rect x="662" y="599" width="1" height="1"/><rect x="671" y="619" width="1" height="1"/><rect x="661" y="612" width="1" height="1"/><rect x="645" y="598" width="1" height="1"/><rect x="657" y="599" width="1" height="1"/><rect x="646" y="603" width="1" height="1"/><rect x="641" y="608" width="1" height="1"/><rect x="654" y="617" width="1" height="1"/><rect x="657" y="612" width="1" height="1"/><rect x="656" y="613" width="1" height="1"/><rect x="655" y="604" width="1" height="1"/><rect x="672" y="620" width="1" height="1"/><rect x="667" y="614" width="1" height="1"/><rect x="650" y="603" width="1" height="1"/><rect x="649" y="600" width="1" height="1"/><rect x="665" y="607" width="1" height="1"/><rect x="667" y="607" width="1" height="1"/><rect x="671" y="617" width="1" height="1"/><rect x="640" y="603" width="1" height="1"/><rect x="669" y="608" width="1" height="1"/><rect x="671" y="607" width="1" height="1"/><rect x="642" y="612" width="1" height="1"/><rect x="665" y="604" width="1" height="1"/><rect x="643" y="605" width="1" height="1"/><rect x="671" y="615" width="1" height="1"/><rect x="644" y="603" width="1" height="1"/><rect x="643" y="599" width="1" height="1"/><rect x="666" y="602" width="1" height="1"/><rect x="658" y="608" width="1" height="1"/><rect x="646" y="614" width="1" height="1"/><rect x="644" y="612" width="1" height="1"/><rect x="644" y="607" width="1" height="1"/><rect x="647" y="604" width="1" height="1"/><rect x="671" y="616" width="1" height="1"/><rect x="650" y="617" width="1" height="1"/><rect x="647" y="607" width="1" height="1"/><rect x="667" y="612" width="1" height="1"/><rect x="643" y="620" width="1" height="1"/><rect x="647" y="604" width="1" height="1"/><rect x="665" y="605" width="1" height="1"/><rect x="649" y="600" width="1" height="1"/><rect x="643" y="611" width="1" height="1"/><rect x="648" y="611" width="1" height="1"/><rect x="652" y="608" width="1" height="1"/><rect x="671" y="609" width="1" height="1"/><rect x="658" y="617" width="1" height="1"/><rect x="646" y="601" width="1" height="1"/><rect x="669" y="616" width="1" height="1"/><rect x="648" y="602" width="1" height="1"/><rect x="664" y="619" width="1" height="1"/><rect x="646" y="619" width="1" height="1"/><rect x="668" y="611" width="1" height="1"/><rect x="653" y="600" width="1" height="1"/><rect x="641" y="619" width="1" height="1"/><rect x="648" y="614" width="1" height="1"/><rect x="648" y="616" width="1" height="1"/><rect x="659" y="604" width="1" height="1"/><rect x="646" y="614" width="1" height="1"/><rect x="642" y="603" width="1" height="1"/><rect x="658" y="617" width="1" height="1"/><rect x="660" y="604" width="1" height="1"/><rect x="669" y="602" width="1" height="1"/><rect x="641" y="604" width="1" height="1"/><rect x="710" y="599" width="1" height="1"/><rect x="702" y="606" width="1" height="1"/><rect x="714" y="601" width="1" height="1"/><rect x="708" y="618" width="1" height="1"/><rect x="727" y="612" width="1" height="1"/><rect x="718" y="611" width="1" height="1"/><rect x="700" y="599" width="1" height="1"/><rect x="697" y="618" width="1" height="1"/><rect x="718" y="619" width="1" height="1"/><rect x="697" y="612" width="1" height="1"/><rect x="711" y="614" width="1" height="1"/><rect x="706" y="620" width="1" height="1"/><rect x="698" y="610" width="1" height="1"/><rect x="720" y="618" width="1" height="1"/><rect x="720" y="613" width="1" height="1"/><rect x="721" y="618" width="1" height="1"/><rect x="707" y="613" width="1" height="1"/><rect x="725" y="617" width="1" height="1"/><rect x="709" y="615" width="1" height="1"/><rect x="724" y="611" width="1" height="1"/><rect x="716" y="606" width="1" height="1"/><rect x="715" y="611" width="1" height="1"/><rect x="699" y="612" width="1" height="1"/><rect x="728" y="617" width="1" height="1"/><rect x="719" y="607" width="1" height="1"/><rect x="720" y="611" width="1" height="1"/><rect x="710" y="616" width="1" height="1"/><rect x="699" y="615" width="1" height="1"/><rect x="697" y="611" width="1" height="1"/><rect x="711" y="603" width="1" height="1"/><rect x="718" y="609" width="1" height="1"/><rect x="716" y="618" width="1" height="1"/><rect x="704" y="598" width="1" height="1"/><rect x="706" y="613" width="1" height="1"/><rect x="702" y="602" width="1" height="1"/><rect x="725" y="613" width="1" height="1"/><rect x="710" y="618" width="1" height="1"/><rect x="706" y="613" width="1" height="1"/><rect x="702" y="607" width="1" height="1"/><rect x="722" y="618" width="1" height="1"/><rect x="724" y="606" width="1" height="1"/><rect x="715" y="605" width="1" height="1"/><rect x="700" y="609" width="1" height="1"/><rect x="723" y="617" width="1" height="1"/><rect x="719" y="619" width="1" height="1"/><rect x="705" y="602" width="1" height="1"/><rect x="710" y="604" width="1" height="1"/><rect x="703" y="607" width="1" height="1"/><rect x="716" y="609" width="1" height="1"/><rect x="706" y="616" width="1" height="1"/><rect x="727" y="608" width="1" height="1"/><rect x="698" y="599" width="1" height="1"/><rect x="724" y="599" width="1" height="1"/><rect x="719" y="611" width="1" height="1"/><rect x="706" y="615" width="1" height="1"/><rect x="697" y="601" width="1" height="1"/><rect x="711" y="599" width="1" height="1"/><rect x="723" y="603" width="1" height="1"/><rect x="701" y="599" width="1" height="1"/><rect x="716" y="608" width="1" height="1"/><rect x="716" y="612" width="1" height="1"/><rect x="722" y="619" width="1" height="1"/><rect x="718" y="602" width="1" height="1"/><rect x="711" y="602" width="1" height="1"/><rect x="696" y="608" width="1" height="1"/><rect x="719" y="602" width="1" height="1"/><rect x="705" y="606" width="1" height="1"/><rect x="718" y="609" width="1" height="1"/><rect x="716" y="615" width="1" height="1"/><rect x="709" y="615" width="1" height="1"/><rect x="725" y="600" width="1" height="1"/><rect x="726" y="614" width="1" height="1"/><rect x="700" y="608" width="1" height="1"/><rect x="716" y="618" width="1" height="1"/><rect x="708" y="611" width="1" height="1"/><rect x="724" y="616" width="1" height="1"/><rect x="726" y="608" width="1" height="1"/><rect x="717" y="603" width="1" height="1"/><rect x="719" y="616" width="1" height="1"/><rect x="717" y="614" width="1" height="1"/></g>
</g>
<defs><pattern id="gdots" width="9" height="7" patternUnits="userSpaceOnUse"><rect x="1" y="2" width="1" height="1" fill="#00ff00"/><rect x="5" y="5" width="1" height="1" fill="#00ff00"/><rect x="7" y="1" width="1" height="1" fill="#00ff00"/><rect x="3" y="4" width="1" height="1" fill="#00ff00"/></pattern></defs>
<circle cx="684.4" cy="546.5" r="73" stroke="#ffffff" stroke-width="1" fill="none" />
<line x1="684.5" y1="482" x2="684.5" y2="628" stroke="#ff0000" stroke-width="1" stroke-dasharray="30,2,2,2"/>
<polyline points="704.5,499.8 768.7,541 795.4,541" stroke="#ffffff" stroke-width="1" fill="none" />
<line x1="768.5" y1="533" x2="768.5" y2="542" stroke="#00ff00" stroke-width="1" />
<polyline points="768.5,533.5 774,536" stroke="#00ff00" stroke-width="1" fill="none" />
<text x="776.7" y="539.5" fill="#00ffff" stroke="#00ffff" stroke-width="0.35" font-size="7" font-family="Liberation Sans" font-weight="bold" text-anchor="start">5</text>
<line x1="784.5" y1="533.4" x2="784.5" y2="548.4" stroke="#00ff00" stroke-width="1" />
<polyline points="784.5,533.4 789.2,541 784.5,548.4" stroke="#00ff00" stroke-width="1" fill="none" />
<polyline points="800.4,536.7 795.4,541 800.4,545.9" stroke="#ffffff" stroke-width="1" fill="none" />
<text x="800.4" y="544.6" fill="#00ffff" stroke="#00ffff" stroke-width="0.35" font-size="7" font-family="Liberation Sans" font-weight="bold" text-anchor="start" textLength="10" lengthAdjust="spacingAndGlyphs">8 k</text>
<text x="683.2" y="648" fill="#00ffff" font-size="9" font-family="Liberation Sans" font-weight="normal" text-anchor="start" textLength="2.7" lengthAdjust="spacingAndGlyphs">I</text>
<line x1="666" y1="651.5" x2="705" y2="651.5" stroke="#ffffff" stroke-width="1" />
<text x="674.7" y="661.8" fill="#00ffff" font-size="8.6" font-family="Liberation Sans" font-weight="normal" text-anchor="start" textLength="20" lengthAdjust="spacingAndGlyphs">1 : 2</text>
</svg>
</body></html>
